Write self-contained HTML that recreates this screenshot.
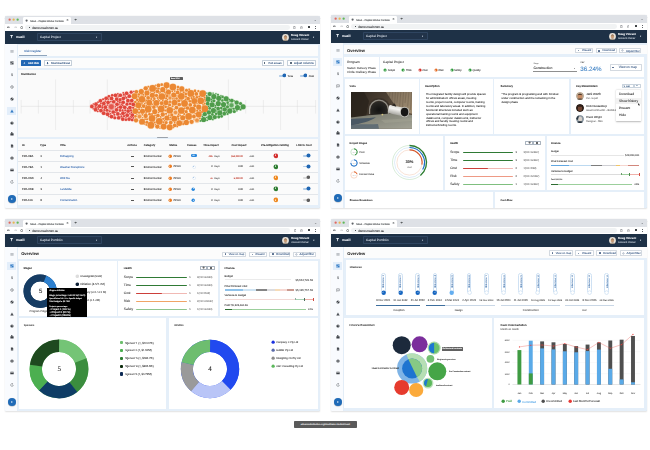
<!DOCTYPE html>
<html><head><meta charset="utf-8"><title>Maxit - Capital Works Portfolio</title>
<style>
html,body{margin:0;padding:0;background:#fff;width:650px;height:450px;overflow:hidden;}
body{position:relative;font-family:'Liberation Sans', Arial, sans-serif;text-rendering:geometricPrecision;}
div{position:absolute;box-sizing:border-box;-webkit-text-stroke:0.07px;}
.win{will-change:transform;overflow:hidden;border-radius:2.2px 2.2px 1px 1px;box-shadow:0 0 0.6px rgba(0,0,0,0.35),0 0.6px 1.6px rgba(0,0,0,0.12);background:#e5eff9;}
</style></head><body>
<div class="win" style="left:5px;top:16px;width:315px;height:192.3px;"><div style="left:0px;top:0px;width:315px;height:192.3px;background:#e5eff9;"></div><div style="left:0px;top:0px;width:315px;height:7.8px;background:#dee1e6;"></div><svg style="position:absolute;left:3.15px;top:2.25px" width="3.3" height="3.3"><circle cx="1.65" cy="1.65" r="1.15" fill="#e2675d"/></svg><svg style="position:absolute;left:7.2px;top:2.25px" width="3.3" height="3.3"><circle cx="1.65" cy="1.65" r="1.15" fill="#e8b752"/></svg><svg style="position:absolute;left:11.25px;top:2.25px" width="3.3" height="3.3"><circle cx="1.65" cy="1.65" r="1.15" fill="#5fb858"/></svg><div style="left:18px;top:1.3px;width:48px;height:6.5px;background:#fff;border-radius:1.4px 1.4px 0 0;"></div><svg style="position:absolute;left:20px;top:3px" width="3.2" height="3.2"><circle cx="1.6" cy="1.6" r="1.1" fill="#5f6368"/></svg><div style="left:25.2px;top:3.68px;font-size:2.53px;line-height:3.16px;color:#3c4043;font-weight:400;white-space:nowrap;">Maxit - Capital Works Portfolio</div><div style="left:58px;top:1.5px;width:6.2px;height:6px;background:linear-gradient(90deg,rgba(255,255,255,0),#fff 70%);"></div><div style="left:61.6px;top:2.48px;font-size:3.4px;line-height:4.25px;color:#3c4043;font-weight:400;white-space:nowrap;">&#215;</div><div style="left:69.4px;top:2.49px;font-size:3.8px;line-height:4.75px;color:#3c4043;font-weight:400;white-space:nowrap;">+</div><div style="left:309px;top:2.23px;font-size:3.2px;line-height:4px;color:#5f6368;font-weight:400;white-space:nowrap;">&#8964;</div><div style="left:0px;top:7.8px;width:315px;height:6.9px;background:#fff;"></div><div style="left:20.3px;top:8.9px;width:265px;height:4.8px;background:#f1f3f4;border-radius:2.4px;"></div><svg style="position:absolute;left:2.3px;top:9.9px;" width="3" height="2.6" viewBox="0 0 3 2.6"><path d="M2.8 1.3H0.5M1.5 0.3L0.4 1.3L1.5 2.3" stroke="#3c4043" stroke-width="0.6" fill="none"/></svg><svg style="position:absolute;left:8.6px;top:9.9px;" width="3" height="2.6" viewBox="0 0 3 2.6"><path d="M0.2 1.3H2.5M1.5 0.3L2.6 1.3L1.5 2.3" stroke="#b0b3b8" stroke-width="0.5" fill="none"/></svg><svg style="position:absolute;left:15px;top:9.6px;" width="3.2" height="3.2" viewBox="0 0 3.2 3.2"><path d="M2.7 1.2A1.15 1.15 0 1 0 2.75 2.0" stroke="#3c4043" stroke-width="0.5" fill="none"/><path d="M2.9 0.4V1.5H1.8Z" fill="#3c4043"/></svg><div style="left:23.5px;top:10.6px;width:1.6px;height:1.3px;background:#3c4043;border-radius:0.2px;"></div><div style="left:27.3px;top:10.5px;font-size:2.98px;line-height:3.72px;color:#202124;font-weight:400;white-space:nowrap;">demo.maxit.com.au</div><svg style="position:absolute;left:288.4px;top:9.9px;" width="2.6" height="2.8" viewBox="0 0 2.6 2.8"><path d="M0.4 0.6H2.2V2.6H0.4Z" fill="none" stroke="#5f6368" stroke-width="0.4"/><path d="M0.9 0.3H1.7" stroke="#5f6368" stroke-width="0.5"/></svg><svg style="position:absolute;left:294.8px;top:9.9px;" width="2.8" height="2.8" viewBox="0 0 2.8 2.8"><path d="M1.4 0.2L1.8 1.1L2.7 1.1L2.0 1.7L2.3 2.6L1.4 2.1L0.5 2.6L0.8 1.7L0.1 1.1L1.0 1.1Z" fill="none" stroke="#5f6368" stroke-width="0.35"/></svg><div style="left:303.2px;top:10.3px;width:1.9px;height:1.9px;background:#3c4043;border-radius:0.3px;"></div><div style="left:310.25px;top:9.9px;width:0.5px;height:2.7px;border-left:0.5px dotted #5f6368;"></div><div style="left:0px;top:14.7px;width:315px;height:13.2px;background:#1e3146;"></div><svg style="position:absolute;left:5.2px;top:19.3px;" width="3.2" height="3.4" viewBox="0 0 3.2 3.4"><path d="M0 0 H3.2 L2 1.6 V3.4 L1.2 2.8 V1.6Z" fill="#e8edf3"/></svg><div style="left:11px;top:19.05px;font-size:3.29px;line-height:4.12px;color:#f1f4f8;font-weight:700;white-space:nowrap;">maxit</div><div style="left:32px;top:16.8px;width:64.5px;height:8.6px;background:#213349;border:0.35px solid #2f4560;box-sizing:border-box;border-radius:0.8px;"></div><div style="left:35px;top:19.13px;font-size:3.2px;line-height:4px;color:#d3dae3;font-weight:400;white-space:nowrap;">Capital Project</div><div style="left:91px;top:20.6px;font-size:2.2px;line-height:2.75px;color:#c9d2dd;font-weight:400;white-space:nowrap;">&#9662;</div><svg style="position:absolute;left:277.2px;top:17.7px;" width="7" height="7" viewBox="0 0 7 7"><circle cx="3.5" cy="3.5" r="3.4" fill="#e9e2d8"/><ellipse cx="3.5" cy="3.6" rx="1.6" ry="2.0" fill="#c69a74"/><path d="M1.9 2.6 Q3.5 0.6 5.1 2.6 Q3.5 1.9 1.9 2.6Z" fill="#6b5443"/><path d="M0.8 6.2 Q3.5 4.6 6.2 6.2 L5.5 6.8 H1.5Z" fill="#8c7d6e"/></svg><div style="left:286.1px;top:18.2px;font-size:2.8px;line-height:3.5px;color:#f4f6f9;font-weight:700;white-space:nowrap;">Doug Vincent</div><div style="left:286.1px;top:21.76px;font-size:2.56px;line-height:3.2px;color:#c3ccd6;font-weight:400;white-space:nowrap;">Account Owner</div><div style="left:308.1px;top:20.8px;font-size:2.2px;line-height:2.75px;color:#d9e0e8;font-weight:400;white-space:nowrap;">&#9662;</div><div style="left:0px;top:27.9px;width:13px;height:164.4px;background:#f9fbfe;border-right:0.5px solid #e3edf7;box-sizing:border-box;"></div><svg style="position:absolute;left:4.9px;top:33.4px;" width="4" height="4" viewBox="0 0 4 4"><rect x="0.4" y="1" width="3.2" height="0.5" fill="#8d9298"/><rect x="0.4" y="1.95" width="3.2" height="0.5" fill="#8d9298"/><rect x="0.4" y="2.9" width="3.2" height="0.5" fill="#8d9298"/></svg><svg style="position:absolute;left:4.9px;top:45.26px;" width="4" height="4" viewBox="0 0 4 4"><rect x="0.4" y="0.4" width="1.4" height="1.7" fill="#3c4046"/><rect x="2.1" y="0.4" width="1.4" height="1.0" fill="#3c4046"/><rect x="0.4" y="2.4" width="1.4" height="1.1" fill="#3c4046"/><rect x="2.1" y="1.7" width="1.4" height="1.8" fill="#3c4046"/></svg><svg style="position:absolute;left:4.9px;top:57.12px;" width="4" height="4" viewBox="0 0 4 4"><text x="2" y="3.3" font-size="3.6" text-anchor="middle" fill="#4a4e54" font-family="Liberation Sans">$</text></svg><svg style="position:absolute;left:4.9px;top:68.98px;" width="4" height="4" viewBox="0 0 4 4"><circle cx="2" cy="2" r="1.35" fill="none" stroke="#4a4e54" stroke-width="0.45"/><path d="M2 1.2V2.1L2.6 2.5" stroke="#4a4e54" stroke-width="0.35" fill="none"/></svg><svg style="position:absolute;left:4.9px;top:80.84px;" width="4" height="4" viewBox="0 0 4 4"><circle cx="2" cy="2" r="1.55" fill="#3c4046"/><path d="M1.0 3.0L3.0 1.0" stroke="#fff" stroke-width="0.45"/></svg><div style="left:2.3px;top:90.8px;width:9.2px;height:7.8px;background:#e3eefa;"></div><svg style="position:absolute;left:4.9px;top:92.7px;" width="4" height="4" viewBox="0 0 4 4"><path d="M2 0.4L3.7 3.4H0.3Z" fill="#1f6fc0"/><rect x="1.8" y="1.5" width="0.4" height="1.0" fill="#fff"/></svg><svg style="position:absolute;left:4.9px;top:104.56px;" width="4" height="4" viewBox="0 0 4 4"><circle cx="2" cy="2" r="1.6" fill="#3c4046"/><path d="M2 0.4V2H3.6" stroke="#fff" stroke-width="0.35" fill="none"/></svg><svg style="position:absolute;left:4.9px;top:116.42px;" width="4" height="4" viewBox="0 0 4 4"><rect x="0.4" y="1.3" width="3.2" height="2.2" rx="0.3" fill="#3c4046"/><rect x="1.35" y="0.6" width="1.3" height="1.0" fill="none" stroke="#3c4046" stroke-width="0.35"/></svg><svg style="position:absolute;left:4.9px;top:128.28px;" width="4" height="4" viewBox="0 0 4 4"><path d="M0.9 0.4H2.5L3.2 1.1V3.6H0.9Z" fill="#3c4046"/><path d="M1.4 2.2H2.7M1.4 2.9H2.7" stroke="#fff" stroke-width="0.25"/></svg><svg style="position:absolute;left:4.9px;top:140.14px;" width="4" height="4" viewBox="0 0 4 4"><circle cx="2" cy="2" r="1.6" fill="#3c4046"/><ellipse cx="2" cy="2" rx="0.6" ry="1.4" fill="none" stroke="#fff" stroke-width="0.25"/></svg><svg style="position:absolute;left:4.9px;top:152px;" width="4" height="4" viewBox="0 0 4 4"><rect x="0.3" y="0.8" width="3.4" height="2.5" rx="0.3" fill="#3c4046"/><rect x="0.3" y="1.5" width="3.4" height="0.45" fill="#fff"/></svg><svg style="position:absolute;left:4.9px;top:163.86px;" width="4" height="4" viewBox="0 0 4 4"><path d="M3.3 2A1.3 1.3 0 1 1 2.6 0.85" fill="none" stroke="#4a4e54" stroke-width="0.45"/><path d="M2.3 0.2L3.2 0.9L2.3 1.5Z" fill="#4a4e54"/></svg><div style="left:2.9px;top:178.7px;width:8px;height:8px;border-radius:50%;background:#1f6bb8;box-shadow:0 0.4px 0.8px rgba(0,0,0,0.3);"></div><svg style="position:absolute;left:6px;top:181.7px;" width="2" height="2" viewBox="0 0 2 2"><path d="M0.3 0.1L1.8 1.0L0.3 1.9Z" fill="#fff"/></svg><div style="left:0;top:0.2px;width:315px;height:192.3px;"><div style="left:13.4px;top:28.6px;width:299.9px;height:11.1px;background:#fcfcfc;"></div><div style="left:19.2px;top:33.69px;font-size:2.9px;line-height:3.62px;color:#3f6fae;font-weight:400;white-space:nowrap;">Risk Register</div><div style="left:14px;top:38.4px;width:27.8px;height:0.7px;background:#8fa4bb;"></div><div style="left:13.4px;top:41.7px;width:299.9px;height:9.7px;background:#fcfcfc;"></div><div style="left:16.2px;top:44px;width:19.6px;height:5.8px;background:#2167b4;border-radius:0.5px;"></div><div style="left:18.4px;top:45.8px;font-size:2.8px;line-height:3.5px;color:#fff;font-weight:700;white-space:nowrap;">+</div><div style="left:23px;top:45.66px;font-size:2.56px;line-height:3.2px;color:#fff;font-weight:700;white-space:nowrap;">Add Risk</div><div style="left:39.2px;top:44px;width:28.3px;height:5.8px;background:#fff;border:0.35px solid #c5cfd9;border-radius:0.5px;box-sizing:border-box;"></div><div style="left:41.6px;top:45.7px;font-size:2.6px;line-height:3.25px;color:#2c4f7c;font-weight:700;white-space:nowrap;">&#8681;</div><div style="left:45.9px;top:45.74px;font-size:2.69px;line-height:3.36px;color:#2c4f7c;font-weight:400;white-space:nowrap;">Download Excel</div><div style="left:256.9px;top:44.3px;width:21.8px;height:5.3px;background:#fff;border:0.35px solid #c5cfd9;border-radius:0.5px;box-sizing:border-box;"></div><div style="left:258.8px;top:46.1px;width:1.6px;height:1.6px;background:#5b6b7c;"></div><div style="left:263.6px;top:45.84px;font-size:2.7px;line-height:3.37px;color:#2c4f7c;font-weight:400;white-space:nowrap;">Full screen</div><div style="left:282.4px;top:44.3px;width:28.3px;height:5.3px;background:#fff;border:0.35px solid #c5cfd9;border-radius:0.5px;box-sizing:border-box;"></div><div style="left:285.1px;top:46.1px;width:1.6px;height:1.6px;background:#5b6b7c;"></div><div style="left:289px;top:45.94px;font-size:2.93px;line-height:3.67px;color:#2c4f7c;font-weight:400;white-space:nowrap;">Adjust columns</div><div style="left:13.4px;top:53.7px;width:299.9px;height:67.6px;background:#fafafa;"></div><div style="left:16px;top:57.24px;font-size:2.7px;line-height:3.38px;color:#333;font-weight:700;white-space:nowrap;">Distribution</div><div style="left:274.3px;top:58.8px;width:5.6px;height:1.6px;background:#b3cde8;border-radius:0.8px;"></div><svg style="position:absolute;left:276.6px;top:57.2px" width="4.8" height="4.8"><circle cx="2.4" cy="2.4" r="1.9" fill="#1f66b3"/></svg><div style="left:282.4px;top:58.32px;font-size:2.5px;line-height:3.12px;color:#333;font-weight:400;white-space:nowrap;">Time</div><div style="left:295.2px;top:58.8px;width:5.6px;height:1.6px;background:#b3cde8;border-radius:0.8px;"></div><svg style="position:absolute;left:297.5px;top:57.2px" width="4.8" height="4.8"><circle cx="2.4" cy="2.4" r="1.9" fill="#1f66b3"/></svg><div style="left:303.8px;top:58.32px;font-size:2.5px;line-height:3.12px;color:#333;font-weight:400;white-space:nowrap;">Cost</div><svg style="position:absolute;left:0px;top:0px;" width="315" height="192.3" viewBox="0 0 315 192.3"><line x1="16" y1="90.3" x2="311" y2="90.3" stroke="#cfcfcf" stroke-width="0.35"/><line x1="50.6" y1="63.5" x2="50.6" y2="114" stroke="#d4d4d4" stroke-width="0.35"/><line x1="102.3" y1="63.5" x2="102.3" y2="114" stroke="#d4d4d4" stroke-width="0.35"/><line x1="223.4" y1="63.5" x2="223.4" y2="114" stroke="#d4d4d4" stroke-width="0.35"/><line x1="275.6" y1="63.5" x2="275.6" y2="114" stroke="#d4d4d4" stroke-width="0.35"/><line x1="16.2" y1="84" x2="16.2" y2="97.5" stroke="#d4d4d4" stroke-width="0.35"/><line x1="33.4" y1="84" x2="33.4" y2="97.5" stroke="#d4d4d4" stroke-width="0.35"/><line x1="68.4" y1="84" x2="68.4" y2="97.5" stroke="#d4d4d4" stroke-width="0.35"/><line x1="85" y1="84" x2="85" y2="97.5" stroke="#d4d4d4" stroke-width="0.35"/><line x1="240.7" y1="84" x2="240.7" y2="97.5" stroke="#d4d4d4" stroke-width="0.35"/><line x1="258.4" y1="84" x2="258.4" y2="97.5" stroke="#d4d4d4" stroke-width="0.35"/><line x1="292.4" y1="84" x2="292.4" y2="97.5" stroke="#d4d4d4" stroke-width="0.35"/><line x1="310.6" y1="84" x2="310.6" y2="97.5" stroke="#d4d4d4" stroke-width="0.35"/><circle cx="106.4" cy="90.8" r="3.95" fill="#f8cfc9"/><circle cx="134.5" cy="100.5" r="2.95" fill="#fbdcbc"/><circle cx="165" cy="82" r="2.55" fill="#fbdcbc"/><circle cx="226.5" cy="89.2" r="3.25" fill="#cfe6cc"/><circle cx="192" cy="104.3" r="2.95" fill="#fbdcbc"/><circle cx="170.5" cy="96.5" r="2.85" fill="#fbdcbc"/><circle cx="156.12" cy="92.94" r="3.85" fill="#fbdcbc"/><circle cx="164.72" cy="94.23" r="3.85" fill="#fbdcbc"/><circle cx="183.63" cy="100.42" r="3.85" fill="#fbdcbc"/><circle cx="187.36" cy="94.12" r="3.85" fill="#fbdcbc"/><circle cx="167.9" cy="71.12" r="3.85" fill="#fbdcbc"/><circle cx="154.28" cy="105.29" r="3.85" fill="#fbdcbc"/><circle cx="156.89" cy="80.5" r="3.85" fill="#fbdcbc"/><circle cx="195.71" cy="84.74" r="3.85" fill="#fbdcbc"/><circle cx="145.91" cy="109.2" r="3.85" fill="#fbdcbc"/><circle cx="147.6" cy="72.46" r="3.85" fill="#fbdcbc"/><circle cx="185.78" cy="77.38" r="3.85" fill="#fbdcbc"/><circle cx="136.99" cy="83.28" r="3.85" fill="#fbdcbc"/><circle cx="176.32" cy="80.37" r="3.85" fill="#fbdcbc"/><circle cx="179.55" cy="87.45" r="3.85" fill="#fbdcbc"/><circle cx="197.65" cy="77.54" r="3.85" fill="#fbdcbc"/><circle cx="143.16" cy="93.15" r="3.85" fill="#fbdcbc"/><circle cx="176.32" cy="94.51" r="3.85" fill="#fbdcbc"/><circle cx="199.93" cy="92.65" r="3.85" fill="#fbdcbc"/><circle cx="147" cy="102.44" r="3.85" fill="#fbdcbc"/><circle cx="169.23" cy="102.77" r="3.45" fill="#fbdcbc"/><circle cx="161.55" cy="69.24" r="3.45" fill="#fbdcbc"/><circle cx="169.5" cy="86.61" r="3.45" fill="#fbdcbc"/><circle cx="144.24" cy="86.8" r="3.45" fill="#fbdcbc"/><circle cx="193.69" cy="98.52" r="3.45" fill="#fbdcbc"/><circle cx="189.24" cy="85.06" r="3.45" fill="#fbdcbc"/><circle cx="164.71" cy="111.31" r="3.45" fill="#fbdcbc"/><circle cx="130.29" cy="95.08" r="3.45" fill="#fbdcbc"/><circle cx="174.24" cy="107.09" r="3.45" fill="#fbdcbc"/><circle cx="151.35" cy="86.89" r="3.45" fill="#fbdcbc"/><circle cx="129.56" cy="80.29" r="3.45" fill="#fbdcbc"/><circle cx="158.64" cy="110.51" r="3.45" fill="#fbdcbc"/><circle cx="133.38" cy="89.26" r="3.45" fill="#fbdcbc"/><circle cx="137.06" cy="105.67" r="3.45" fill="#fbdcbc"/><circle cx="213.27" cy="87.59" r="3.05" fill="#cfe6cc"/><circle cx="208.4" cy="94.51" r="3.05" fill="#cfe6cc"/><circle cx="204.81" cy="101.43" r="3.05" fill="#cfe6cc"/><circle cx="232.46" cy="91.49" r="3.05" fill="#cfe6cc"/><circle cx="157.77" cy="73.65" r="3.05" fill="#fbdcbc"/><circle cx="177.74" cy="101.73" r="3.05" fill="#fbdcbc"/><circle cx="137.48" cy="95.24" r="3.05" fill="#fbdcbc"/><circle cx="149.77" cy="95.55" r="3.05" fill="#fbdcbc"/><circle cx="218.53" cy="88.55" r="3.05" fill="#cfe6cc"/><circle cx="193.71" cy="91.11" r="3.05" fill="#fbdcbc"/><circle cx="147.31" cy="79.29" r="3.05" fill="#fbdcbc"/><circle cx="208.82" cy="80.48" r="3.05" fill="#cfe6cc"/><circle cx="136.34" cy="75.45" r="3.05" fill="#fbdcbc"/><circle cx="224.74" cy="94.91" r="3.05" fill="#cfe6cc"/><circle cx="176.75" cy="72.9" r="3.05" fill="#fbdcbc"/><circle cx="203.13" cy="83.16" r="3.05" fill="#cfe6cc"/><circle cx="163.48" cy="75.94" r="3.05" fill="#fbdcbc"/><circle cx="214.79" cy="96.74" r="3.05" fill="#cfe6cc"/><circle cx="161.88" cy="101.98" r="3.05" fill="#fbdcbc"/><circle cx="238.09" cy="90.78" r="3.05" fill="#cfe6cc"/><circle cx="141.97" cy="76.93" r="3.05" fill="#fbdcbc"/><circle cx="181.37" cy="106.42" r="3.05" fill="#fbdcbc"/><circle cx="213.78" cy="82.36" r="3.05" fill="#cfe6cc"/><circle cx="168.77" cy="78.96" r="3.05" fill="#fbdcbc"/><circle cx="161.06" cy="86.49" r="3.05" fill="#fbdcbc"/><circle cx="207.12" cy="88.7" r="3.05" fill="#cfe6cc"/><circle cx="221.18" cy="82.77" r="3.05" fill="#cfe6cc"/><circle cx="198.6" cy="103.49" r="3.05" fill="#cfe6cc"/><circle cx="140.77" cy="72.35" r="2.65" fill="#fbdcbc"/><circle cx="131.03" cy="104.34" r="2.65" fill="#fbdcbc"/><circle cx="204.74" cy="78.05" r="2.65" fill="#cfe6cc"/><circle cx="140.66" cy="100.02" r="2.65" fill="#fbdcbc"/><circle cx="203.96" cy="96.5" r="2.65" fill="#cfe6cc"/><circle cx="231.68" cy="86.67" r="2.65" fill="#cfe6cc"/><circle cx="157.76" cy="98.51" r="2.65" fill="#fbdcbc"/><circle cx="219.78" cy="93.52" r="2.65" fill="#cfe6cc"/><circle cx="209.77" cy="101.09" r="2.65" fill="#cfe6cc"/><circle cx="152.33" cy="110.6" r="2.65" fill="#fbdcbc"/><circle cx="199.77" cy="98.17" r="2.65" fill="#cfe6cc"/><circle cx="186.6" cy="105.79" r="2.65" fill="#fbdcbc"/><circle cx="111.68" cy="83.03" r="2.35" fill="#f8cfc9"/><circle cx="117.96" cy="97.17" r="2.35" fill="#f8cfc9"/><circle cx="86.86" cy="90.38" r="2.35" fill="#f8cfc9"/><circle cx="98.83" cy="87.47" r="2.35" fill="#f8cfc9"/><circle cx="106.48" cy="100.57" r="2.35" fill="#f8cfc9"/><circle cx="153.52" cy="69.42" r="2.35" fill="#fbdcbc"/><circle cx="127.33" cy="99.06" r="2.35" fill="#f8cfc9"/><circle cx="91" cy="88.16" r="2.35" fill="#f8cfc9"/><circle cx="108.2" cy="95.98" r="2.35" fill="#f8cfc9"/><circle cx="106.56" cy="82.4" r="2.35" fill="#f8cfc9"/><circle cx="183.11" cy="82.65" r="2.35" fill="#fbdcbc"/><circle cx="101.21" cy="82.23" r="2.35" fill="#f8cfc9"/><circle cx="95.91" cy="94.56" r="2.35" fill="#f8cfc9"/><circle cx="102.59" cy="98.19" r="2.35" fill="#f8cfc9"/><circle cx="118.4" cy="82.37" r="2.35" fill="#f8cfc9"/><circle cx="112.87" cy="97.93" r="2.35" fill="#f8cfc9"/><circle cx="112" cy="88.27" r="2.35" fill="#f8cfc9"/><circle cx="124.11" cy="103.05" r="2.35" fill="#f8cfc9"/><circle cx="121.56" cy="77.23" r="2.35" fill="#f8cfc9"/><circle cx="90.57" cy="93.69" r="2.35" fill="#f8cfc9"/><circle cx="123.12" cy="95.07" r="2.35" fill="#f8cfc9"/><circle cx="111.54" cy="93.78" r="2.35" fill="#f8cfc9"/><circle cx="128.26" cy="88.44" r="2.35" fill="#f8cfc9"/><circle cx="95.42" cy="84.77" r="2.35" fill="#f8cfc9"/><circle cx="126.75" cy="84.55" r="2.35" fill="#f8cfc9"/><circle cx="119.7" cy="91.24" r="2.35" fill="#f8cfc9"/><circle cx="165.73" cy="106.57" r="2.35" fill="#fbdcbc"/><circle cx="122.91" cy="84.7" r="2.35" fill="#f8cfc9"/><circle cx="100.38" cy="91.21" r="2.35" fill="#f8cfc9"/><circle cx="122.17" cy="99.18" r="2.35" fill="#f8cfc9"/><circle cx="118.15" cy="86.27" r="2.35" fill="#f8cfc9"/><circle cx="98.66" cy="97.13" r="2.35" fill="#f8cfc9"/><circle cx="115.33" cy="79.23" r="2.35" fill="#f8cfc9"/><circle cx="124.89" cy="91.56" r="2.35" fill="#f8cfc9"/><circle cx="226.81" cy="84.58" r="2.35" fill="#cfe6cc"/><circle cx="110.46" cy="79.36" r="2.35" fill="#f8cfc9"/><circle cx="117.77" cy="103.05" r="2.35" fill="#f8cfc9"/><circle cx="152.4" cy="75.19" r="2.35" fill="#fbdcbc"/><circle cx="172.61" cy="76.4" r="2.35" fill="#fbdcbc"/><circle cx="115.63" cy="91.05" r="2.35" fill="#f8cfc9"/><circle cx="182.58" cy="92" r="2.35" fill="#fbdcbc"/><circle cx="113.67" cy="101.77" r="2.35" fill="#f8cfc9"/><circle cx="143.14" cy="81.78" r="2.35" fill="#fbdcbc"/><circle cx="188.86" cy="100.46" r="2.35" fill="#fbdcbc"/><circle cx="191.32" cy="77.96" r="2.35" fill="#fbdcbc"/><circle cx="103.06" cy="86.36" r="2.35" fill="#f8cfc9"/><circle cx="156.62" cy="87.14" r="2.35" fill="#fbdcbc"/><circle cx="94.57" cy="90.16" r="2.35" fill="#f8cfc9"/><circle cx="124.28" cy="80.17" r="2.35" fill="#f8cfc9"/><circle cx="213.14" cy="92.62" r="2.35" fill="#cfe6cc"/><circle cx="138.68" cy="90.1" r="2.35" fill="#fbdcbc"/><circle cx="171.46" cy="91.62" r="2.35" fill="#fbdcbc"/><circle cx="169.68" cy="109.34" r="2.35" fill="#fbdcbc"/><circle cx="219.25" cy="97.65" r="2.35" fill="#cfe6cc"/><circle cx="152.9" cy="99.48" r="2.35" fill="#fbdcbc"/><circle cx="131.38" cy="75.78" r="2.35" fill="#fbdcbc"/><circle cx="148.86" cy="91.06" r="2.35" fill="#fbdcbc"/><circle cx="202.68" cy="87.6" r="2.35" fill="#cfe6cc"/><circle cx="174.24" cy="88.48" r="2.35" fill="#fbdcbc"/><circle cx="108.71" cy="85.75" r="2.35" fill="#f8cfc9"/><circle cx="185.28" cy="88.79" r="2.35" fill="#fbdcbc"/><circle cx="102.03" cy="94.22" r="2.05" fill="#f8cfc9"/><circle cx="208.9" cy="84.73" r="2.05" fill="#cfe6cc"/><circle cx="121.99" cy="88.17" r="2.05" fill="#f8cfc9"/><circle cx="229.25" cy="95.53" r="2.05" fill="#cfe6cc"/><circle cx="109.81" cy="101.76" r="2.05" fill="#f8cfc9"/><circle cx="235.52" cy="87.51" r="2.05" fill="#cfe6cc"/><circle cx="181.46" cy="74.29" r="2.05" fill="#fbdcbc"/><circle cx="126.15" cy="76.15" r="2.05" fill="#f8cfc9"/><circle cx="213.76" cy="100.87" r="2.05" fill="#cfe6cc"/><circle cx="141.89" cy="106.28" r="2.05" fill="#fbdcbc"/><circle cx="161.15" cy="106.59" r="2.05" fill="#fbdcbc"/><circle cx="164.63" cy="88.75" r="2.05" fill="#fbdcbc"/><circle cx="115.08" cy="83.65" r="2.05" fill="#f8cfc9"/><circle cx="173.74" cy="84.79" r="2.05" fill="#fbdcbc"/><circle cx="189.73" cy="89.62" r="2.05" fill="#fbdcbc"/><circle cx="151.46" cy="79.41" r="2.05" fill="#fbdcbc"/><circle cx="222.49" cy="90.84" r="2.05" fill="#cfe6cc"/><circle cx="166.75" cy="98.91" r="2.05" fill="#fbdcbc"/><circle cx="181.19" cy="95.67" r="2.05" fill="#fbdcbc"/><circle cx="162" cy="79.85" r="2.05" fill="#fbdcbc"/><circle cx="173.02" cy="100.45" r="1.8" fill="#fbdcbc"/><circle cx="127.19" cy="103.92" r="1.8" fill="#f8cfc9"/><circle cx="130.3" cy="85.95" r="1.8" fill="#fbdcbc"/><circle cx="173.03" cy="70.96" r="1.8" fill="#fbdcbc"/><circle cx="222.66" cy="86.63" r="1.8" fill="#cfe6cc"/><circle cx="132.24" cy="83.84" r="1.8" fill="#fbdcbc"/><circle cx="211.07" cy="97.81" r="1.8" fill="#cfe6cc"/><circle cx="180.8" cy="77.91" r="1.8" fill="#fbdcbc"/><circle cx="144.52" cy="98.16" r="1.8" fill="#fbdcbc"/><circle cx="115.08" cy="94.42" r="1.8" fill="#f8cfc9"/><circle cx="149.35" cy="82.65" r="1.8" fill="#fbdcbc"/><circle cx="103.88" cy="80.36" r="1.8" fill="#f8cfc9"/><circle cx="191.86" cy="81.36" r="1.8" fill="#fbdcbc"/><circle cx="217.37" cy="84.57" r="1.8" fill="#cfe6cc"/><circle cx="217.55" cy="80.92" r="1.8" fill="#cfe6cc"/><circle cx="120.93" cy="103.77" r="1.8" fill="#f8cfc9"/><circle cx="160.65" cy="90.87" r="1.8" fill="#fbdcbc"/><circle cx="107.19" cy="79.29" r="1.8" fill="#f8cfc9"/><circle cx="216.27" cy="92.08" r="1.8" fill="#cfe6cc"/><circle cx="171.59" cy="82.43" r="1.8" fill="#fbdcbc"/><circle cx="184.86" cy="85.32" r="1.8" fill="#fbdcbc"/><circle cx="156.74" cy="68.66" r="1.8" fill="#fbdcbc"/><circle cx="204.73" cy="92.37" r="1.8" fill="#cfe6cc"/><circle cx="125.14" cy="87.7" r="1.8" fill="#f8cfc9"/><circle cx="207.38" cy="98.41" r="1.8" fill="#cfe6cc"/><circle cx="189.98" cy="74.89" r="1.8" fill="#fbdcbc"/><circle cx="130.41" cy="100.35" r="1.8" fill="#fbdcbc"/><circle cx="216.64" cy="100.33" r="1.8" fill="#cfe6cc"/><circle cx="165.07" cy="85.71" r="1.8" fill="#fbdcbc"/><circle cx="133.8" cy="78.47" r="1.8" fill="#fbdcbc"/><circle cx="199.67" cy="81.58" r="1.55" fill="#fbdcbc"/><circle cx="153.78" cy="72.59" r="1.55" fill="#fbdcbc"/><circle cx="117.61" cy="94.27" r="1.55" fill="#f8cfc9"/><circle cx="161.08" cy="97.74" r="1.55" fill="#fbdcbc"/><circle cx="121.37" cy="81.77" r="1.55" fill="#f8cfc9"/><circle cx="118.82" cy="78.68" r="1.55" fill="#f8cfc9"/><circle cx="104.77" cy="95.35" r="1.55" fill="#f8cfc9"/><circle cx="109.37" cy="98.8" r="1.55" fill="#f8cfc9"/><circle cx="161.1" cy="82.39" r="1.55" fill="#fbdcbc"/><circle cx="114.82" cy="86.33" r="1.55" fill="#f8cfc9"/><circle cx="149.72" cy="106.47" r="1.55" fill="#fbdcbc"/><circle cx="212.96" cy="78.69" r="1.55" fill="#cfe6cc"/><circle cx="167.59" cy="90.31" r="1.55" fill="#fbdcbc"/><circle cx="98.1" cy="83.19" r="1.55" fill="#f8cfc9"/><circle cx="193.38" cy="75.16" r="1.55" fill="#fbdcbc"/><circle cx="222.54" cy="97.97" r="1.55" fill="#cfe6cc"/><circle cx="146.26" cy="82.97" r="1.55" fill="#fbdcbc"/><circle cx="210.45" cy="91.29" r="1.55" fill="#cfe6cc"/><circle cx="138.28" cy="78.79" r="1.55" fill="#fbdcbc"/><circle cx="199.67" cy="87.62" r="1.55" fill="#fbdcbc"/><circle cx="116.47" cy="100.38" r="1.55" fill="#f8cfc9"/><circle cx="125.97" cy="94.41" r="1.55" fill="#f8cfc9"/><circle cx="134.16" cy="93.29" r="1.55" fill="#fbdcbc"/><circle cx="186.52" cy="82.09" r="1.55" fill="#fbdcbc"/><circle cx="134.02" cy="96.66" r="1.55" fill="#fbdcbc"/><circle cx="97.3" cy="91.81" r="1.55" fill="#f8cfc9"/><circle cx="195.18" cy="94.65" r="1.55" fill="#fbdcbc"/><circle cx="188.74" cy="80.9" r="1.55" fill="#fbdcbc"/><circle cx="158.23" cy="102.83" r="1.55" fill="#fbdcbc"/><circle cx="99.26" cy="94.03" r="1.55" fill="#f8cfc9"/><circle cx="228.86" cy="92.86" r="1.55" fill="#cfe6cc"/><circle cx="197.07" cy="96.03" r="1.55" fill="#fbdcbc"/><circle cx="152.65" cy="81.99" r="1.55" fill="#fbdcbc"/><circle cx="147.03" cy="97.99" r="1.55" fill="#fbdcbc"/><circle cx="172.76" cy="73.45" r="1.55" fill="#fbdcbc"/><circle cx="119.01" cy="100.13" r="1.55" fill="#f8cfc9"/><circle cx="142.07" cy="103.28" r="1.55" fill="#fbdcbc"/><circle cx="180.98" cy="80.63" r="1.55" fill="#fbdcbc"/><circle cx="178.71" cy="76.4" r="1.55" fill="#fbdcbc"/><circle cx="194.27" cy="80.49" r="1.55" fill="#fbdcbc"/><circle cx="179.21" cy="97.99" r="1.55" fill="#fbdcbc"/><circle cx="178.16" cy="108.11" r="1.55" fill="#fbdcbc"/><circle cx="128.12" cy="91.68" r="1.55" fill="#f8cfc9"/><circle cx="235.47" cy="93.56" r="1.55" fill="#cfe6cc"/><circle cx="192.19" cy="94.65" r="1.55" fill="#fbdcbc"/><circle cx="120.19" cy="94.36" r="1.55" fill="#f8cfc9"/><circle cx="160.23" cy="94.57" r="1.55" fill="#fbdcbc"/><circle cx="173.43" cy="102.83" r="1.55" fill="#fbdcbc"/><circle cx="157.78" cy="84.64" r="1.35" fill="#fbdcbc"/><circle cx="139.8" cy="87.51" r="1.35" fill="#fbdcbc"/><circle cx="93.05" cy="86.16" r="1.35" fill="#f8cfc9"/><circle cx="126.37" cy="96.3" r="1.35" fill="#f8cfc9"/><circle cx="141.46" cy="108.94" r="1.35" fill="#fbdcbc"/><circle cx="180.44" cy="83.24" r="1.35" fill="#fbdcbc"/><circle cx="155.72" cy="100.96" r="1.35" fill="#fbdcbc"/><circle cx="105.83" cy="85.59" r="1.35" fill="#f8cfc9"/><circle cx="200.13" cy="84.94" r="1.35" fill="#fbdcbc"/><circle cx="173.65" cy="98.18" r="1.35" fill="#fbdcbc"/><circle cx="90.28" cy="90.94" r="1.35" fill="#f8cfc9"/><circle cx="198.06" cy="88.82" r="1.35" fill="#fbdcbc"/><circle cx="152.2" cy="90.74" r="1.35" fill="#fbdcbc"/><circle cx="133.53" cy="80.74" r="1.35" fill="#fbdcbc"/><circle cx="165" cy="103.59" r="1.35" fill="#fbdcbc"/><circle cx="197.44" cy="100.25" r="1.35" fill="#cfe6cc"/><circle cx="195.42" cy="104.89" r="1.35" fill="#cfe6cc"/><circle cx="158.74" cy="89.41" r="1.35" fill="#fbdcbc"/><circle cx="92.77" cy="95.3" r="1.35" fill="#f8cfc9"/><circle cx="136.95" cy="87.87" r="1.35" fill="#fbdcbc"/><circle cx="163.86" cy="99.16" r="1.35" fill="#fbdcbc"/><circle cx="175.14" cy="99.45" r="1.35" fill="#fbdcbc"/><circle cx="207.82" cy="103.46" r="1.35" fill="#cfe6cc"/><circle cx="100.36" cy="85.06" r="1.35" fill="#f8cfc9"/><circle cx="179.83" cy="92.13" r="1.35" fill="#fbdcbc"/><circle cx="167.22" cy="75.36" r="1.35" fill="#fbdcbc"/><circle cx="169.11" cy="93.23" r="1.35" fill="#fbdcbc"/><circle cx="141.11" cy="96.92" r="1.35" fill="#fbdcbc"/><circle cx="105.48" cy="97.75" r="1.35" fill="#f8cfc9"/><circle cx="155.11" cy="76.06" r="1.35" fill="#fbdcbc"/><circle cx="112.91" cy="91.41" r="1.35" fill="#f8cfc9"/><circle cx="92.03" cy="91.13" r="1.35" fill="#f8cfc9"/><circle cx="169.7" cy="106.59" r="1.35" fill="#fbdcbc"/><circle cx="201.74" cy="79.91" r="1.35" fill="#cfe6cc"/><circle cx="221.52" cy="96.1" r="1.35" fill="#cfe6cc"/><circle cx="159.9" cy="76.37" r="1.35" fill="#fbdcbc"/><circle cx="117.75" cy="89.15" r="1.35" fill="#f8cfc9"/><circle cx="149.49" cy="76.56" r="1.35" fill="#fbdcbc"/><circle cx="150.03" cy="99.35" r="1.35" fill="#fbdcbc"/><circle cx="206.53" cy="85.28" r="1.35" fill="#cfe6cc"/><circle cx="202.15" cy="104.23" r="1.35" fill="#cfe6cc"/><circle cx="165.31" cy="101.37" r="1.35" fill="#fbdcbc"/><circle cx="124.87" cy="97.73" r="1.35" fill="#f8cfc9"/><circle cx="206.63" cy="83.39" r="1.35" fill="#cfe6cc"/><circle cx="128.34" cy="101.85" r="1.35" fill="#f8cfc9"/><circle cx="143.34" cy="70.6" r="1.35" fill="#fbdcbc"/><circle cx="194.93" cy="102.42" r="1.35" fill="#fbdcbc"/><circle cx="93.32" cy="92.91" r="1.35" fill="#f8cfc9"/><circle cx="172.25" cy="110.38" r="1.35" fill="#fbdcbc"/><circle cx="137.47" cy="98.73" r="1.35" fill="#fbdcbc"/><circle cx="95.93" cy="87.46" r="1.35" fill="#f8cfc9"/><circle cx="140.06" cy="103.15" r="1.35" fill="#fbdcbc"/><circle cx="141.24" cy="84.26" r="1.35" fill="#fbdcbc"/><circle cx="97.49" cy="89.9" r="1.35" fill="#f8cfc9"/><circle cx="203.66" cy="90.28" r="1.35" fill="#cfe6cc"/><circle cx="112.93" cy="85.47" r="1.35" fill="#f8cfc9"/><circle cx="120.29" cy="79.99" r="1.35" fill="#f8cfc9"/><circle cx="151.89" cy="72.15" r="1.35" fill="#fbdcbc"/><circle cx="167.91" cy="82.79" r="1.35" fill="#fbdcbc"/><circle cx="102.42" cy="89.02" r="1.35" fill="#f8cfc9"/><circle cx="118.28" cy="76.83" r="1.35" fill="#f8cfc9"/><circle cx="158.41" cy="106.2" r="1.35" fill="#fbdcbc"/><circle cx="140.42" cy="80.14" r="1.35" fill="#fbdcbc"/><circle cx="169.78" cy="75.11" r="1.35" fill="#fbdcbc"/><circle cx="153.55" cy="96.48" r="1.35" fill="#fbdcbc"/><circle cx="154.52" cy="84.75" r="1.35" fill="#fbdcbc"/><circle cx="148.24" cy="84.53" r="1.35" fill="#fbdcbc"/><circle cx="112.83" cy="77.82" r="1.35" fill="#f8cfc9"/><circle cx="184.16" cy="73.3" r="1.35" fill="#fbdcbc"/><circle cx="129.85" cy="90.53" r="1.2" fill="#fbdcbc"/><circle cx="88.38" cy="87.97" r="1.2" fill="#f8cfc9"/><circle cx="139.87" cy="108.16" r="1.2" fill="#fbdcbc"/><circle cx="169.56" cy="82.92" r="1.2" fill="#fbdcbc"/><circle cx="224.27" cy="85.01" r="1.2" fill="#cfe6cc"/><circle cx="143.76" cy="74.12" r="1.2" fill="#fbdcbc"/><circle cx="163.11" cy="90.46" r="1.2" fill="#fbdcbc"/><circle cx="175.6" cy="75.98" r="1.2" fill="#fbdcbc"/><circle cx="216.87" cy="94.16" r="1.2" fill="#cfe6cc"/><circle cx="115.63" cy="98.3" r="1.2" fill="#f8cfc9"/><circle cx="176.15" cy="84.8" r="1.2" fill="#fbdcbc"/><circle cx="201.32" cy="101.57" r="1.2" fill="#cfe6cc"/><circle cx="189" cy="103.1" r="1.2" fill="#fbdcbc"/><circle cx="136.4" cy="91.79" r="1.2" fill="#fbdcbc"/><circle cx="153.3" cy="83.75" r="1.2" fill="#fbdcbc"/><circle cx="114.77" cy="88.11" r="1.2" fill="#f8cfc9"/><circle cx="201.82" cy="77.1" r="1.2" fill="#cfe6cc"/><circle cx="116.44" cy="88.26" r="1.2" fill="#f8cfc9"/><circle cx="103.82" cy="100.46" r="1.2" fill="#f8cfc9"/><circle cx="172.02" cy="79.9" r="1.2" fill="#fbdcbc"/><circle cx="151.31" cy="101.8" r="1.2" fill="#fbdcbc"/><circle cx="177.95" cy="105.97" r="1.2" fill="#fbdcbc"/><circle cx="103.69" cy="83.18" r="1.2" fill="#f8cfc9"/><circle cx="199.68" cy="83.37" r="1.2" fill="#fbdcbc"/><circle cx="150.79" cy="69.18" r="1.2" fill="#fbdcbc"/><circle cx="128.81" cy="75.45" r="1.2" fill="#f8cfc9"/><circle cx="110.59" cy="90.79" r="1.2" fill="#f8cfc9"/><circle cx="159.48" cy="104.8" r="1.2" fill="#fbdcbc"/><circle cx="164.89" cy="79.1" r="1.2" fill="#fbdcbc"/><circle cx="136.21" cy="78.91" r="1.2" fill="#fbdcbc"/><circle cx="147.6" cy="88.28" r="1.2" fill="#fbdcbc"/><circle cx="122.51" cy="92.56" r="1.2" fill="#f8cfc9"/><circle cx="231.91" cy="94.75" r="1.2" fill="#cfe6cc"/><circle cx="229.41" cy="84.89" r="1.2" fill="#cfe6cc"/><circle cx="154.11" cy="77.39" r="1.2" fill="#fbdcbc"/><circle cx="160.54" cy="77.94" r="1.2" fill="#fbdcbc"/><circle cx="192.03" cy="87.64" r="1.2" fill="#fbdcbc"/><circle cx="140.57" cy="85.91" r="1.2" fill="#fbdcbc"/><circle cx="120.5" cy="96.69" r="1.2" fill="#f8cfc9"/><circle cx="227.1" cy="92.63" r="1.2" fill="#cfe6cc"/><circle cx="120.96" cy="101.72" r="1.2" fill="#f8cfc9"/><circle cx="131.92" cy="98.62" r="1.2" fill="#fbdcbc"/><circle cx="137.72" cy="101.67" r="1.2" fill="#fbdcbc"/><circle cx="168.41" cy="111.58" r="1.2" fill="#fbdcbc"/><circle cx="88.19" cy="92.68" r="1.2" fill="#f8cfc9"/><circle cx="154.91" cy="112.17" r="1.2" fill="#fbdcbc"/><circle cx="125.29" cy="100.69" r="1.2" fill="#f8cfc9"/><circle cx="161.6" cy="72.99" r="1.2" fill="#fbdcbc"/><circle cx="150.34" cy="108.37" r="1.2" fill="#fbdcbc"/><circle cx="208.11" cy="77.17" r="1.2" fill="#cfe6cc"/><circle cx="210.93" cy="77.81" r="1.2" fill="#cfe6cc"/><circle cx="215.9" cy="79.59" r="1.2" fill="#cfe6cc"/><circle cx="145.54" cy="76.1" r="1.2" fill="#fbdcbc"/><circle cx="113.19" cy="80.68" r="1.2" fill="#f8cfc9"/><circle cx="210.43" cy="89.47" r="1.2" fill="#cfe6cc"/><circle cx="211.82" cy="94.96" r="1.2" fill="#cfe6cc"/><circle cx="126.54" cy="101.61" r="1.2" fill="#f8cfc9"/><circle cx="110.82" cy="96.39" r="1.2" fill="#f8cfc9"/><circle cx="141.34" cy="89.33" r="1.2" fill="#fbdcbc"/><circle cx="224.47" cy="83.41" r="1.2" fill="#cfe6cc"/><circle cx="133.41" cy="85.52" r="1.2" fill="#fbdcbc"/><circle cx="223.05" cy="88.62" r="1.2" fill="#cfe6cc"/><circle cx="146.1" cy="90.13" r="1.2" fill="#fbdcbc"/><circle cx="162.58" cy="83.5" r="1.2" fill="#fbdcbc"/><circle cx="190.16" cy="97.47" r="1.2" fill="#fbdcbc"/><circle cx="106.4" cy="90.8" r="3.4" fill="#f19a91"/><circle cx="106.4" cy="90.8" r="2.45" fill="#df463c" opacity="0.8"/><circle cx="134.5" cy="100.5" r="2.4" fill="#f7c08f"/><circle cx="134.5" cy="100.5" r="1.73" fill="#eb8833" opacity="0.8"/><circle cx="165" cy="82" r="2" fill="#f7c08f"/><circle cx="165" cy="82" r="1.44" fill="#eb8833" opacity="0.8"/><circle cx="226.5" cy="89.2" r="2.7" fill="#a5d3a2"/><circle cx="226.5" cy="89.2" r="1.94" fill="#4e9c4b" opacity="0.8"/><circle cx="192" cy="104.3" r="2.4" fill="#f7c08f"/><circle cx="192" cy="104.3" r="1.73" fill="#eb8833" opacity="0.8"/><circle cx="170.5" cy="96.5" r="2.3" fill="#f7c08f"/><circle cx="170.5" cy="96.5" r="1.66" fill="#eb8833" opacity="0.8"/><circle cx="156.12" cy="92.94" r="3.35" fill="#eb8833"/><circle cx="164.72" cy="94.23" r="3.35" fill="#eb8833"/><circle cx="183.63" cy="100.42" r="3.35" fill="#eb8833"/><circle cx="187.36" cy="94.12" r="3.35" fill="#eb8833"/><circle cx="167.9" cy="71.12" r="3.35" fill="#eb8833"/><circle cx="154.28" cy="105.29" r="3.35" fill="#eb8833"/><circle cx="156.89" cy="80.5" r="3.35" fill="#eb8833"/><circle cx="195.71" cy="84.74" r="3.35" fill="#eb8833"/><circle cx="145.91" cy="109.2" r="3.35" fill="#eb8833"/><circle cx="147.6" cy="72.46" r="3.35" fill="#eb8833"/><circle cx="185.78" cy="77.38" r="3.35" fill="#eb8833"/><circle cx="136.99" cy="83.28" r="3.35" fill="#eb8833"/><circle cx="176.32" cy="80.37" r="3.35" fill="#eb8833"/><circle cx="179.55" cy="87.45" r="3.35" fill="#eb8833"/><circle cx="197.65" cy="77.54" r="3.35" fill="#eb8833"/><circle cx="143.16" cy="93.15" r="3.35" fill="#eb8833"/><circle cx="176.32" cy="94.51" r="3.35" fill="#eb8833"/><circle cx="199.93" cy="92.65" r="3.35" fill="#eb8833"/><circle cx="147" cy="102.44" r="3.35" fill="#eb8833"/><circle cx="169.23" cy="102.77" r="2.95" fill="#eb8833"/><circle cx="161.55" cy="69.24" r="2.95" fill="#eb8833"/><circle cx="169.5" cy="86.61" r="2.95" fill="#eb8833"/><circle cx="144.24" cy="86.8" r="2.95" fill="#eb8833"/><circle cx="193.69" cy="98.52" r="2.95" fill="#eb8833"/><circle cx="189.24" cy="85.06" r="2.95" fill="#eb8833"/><circle cx="164.71" cy="111.31" r="2.95" fill="#eb8833"/><circle cx="130.29" cy="95.08" r="2.95" fill="#eb8833"/><circle cx="174.24" cy="107.09" r="2.95" fill="#eb8833"/><circle cx="151.35" cy="86.89" r="2.95" fill="#eb8833"/><circle cx="129.56" cy="80.29" r="2.95" fill="#eb8833"/><circle cx="158.64" cy="110.51" r="2.95" fill="#eb8833"/><circle cx="133.38" cy="89.26" r="2.95" fill="#eb8833"/><circle cx="137.06" cy="105.67" r="2.95" fill="#eb8833"/><circle cx="213.27" cy="87.59" r="2.55" fill="#4e9c4b"/><circle cx="208.4" cy="94.51" r="2.55" fill="#4e9c4b"/><circle cx="204.81" cy="101.43" r="2.55" fill="#4e9c4b"/><circle cx="232.46" cy="91.49" r="2.55" fill="#4e9c4b"/><circle cx="157.77" cy="73.65" r="2.55" fill="#eb8833"/><circle cx="177.74" cy="101.73" r="2.55" fill="#eb8833"/><circle cx="137.48" cy="95.24" r="2.55" fill="#eb8833"/><circle cx="149.77" cy="95.55" r="2.55" fill="#eb8833"/><circle cx="218.53" cy="88.55" r="2.55" fill="#4e9c4b"/><circle cx="193.71" cy="91.11" r="2.55" fill="#eb8833"/><circle cx="147.31" cy="79.29" r="2.55" fill="#eb8833"/><circle cx="208.82" cy="80.48" r="2.55" fill="#4e9c4b"/><circle cx="136.34" cy="75.45" r="2.55" fill="#eb8833"/><circle cx="224.74" cy="94.91" r="2.55" fill="#4e9c4b"/><circle cx="176.75" cy="72.9" r="2.55" fill="#eb8833"/><circle cx="203.13" cy="83.16" r="2.55" fill="#4e9c4b"/><circle cx="163.48" cy="75.94" r="2.55" fill="#eb8833"/><circle cx="214.79" cy="96.74" r="2.55" fill="#4e9c4b"/><circle cx="161.88" cy="101.98" r="2.55" fill="#eb8833"/><circle cx="238.09" cy="90.78" r="2.55" fill="#4e9c4b"/><circle cx="141.97" cy="76.93" r="2.55" fill="#eb8833"/><circle cx="181.37" cy="106.42" r="2.55" fill="#eb8833"/><circle cx="213.78" cy="82.36" r="2.55" fill="#4e9c4b"/><circle cx="168.77" cy="78.96" r="2.55" fill="#eb8833"/><circle cx="161.06" cy="86.49" r="2.55" fill="#eb8833"/><circle cx="207.12" cy="88.7" r="2.55" fill="#4e9c4b"/><circle cx="221.18" cy="82.77" r="2.55" fill="#4e9c4b"/><circle cx="198.6" cy="103.49" r="2.55" fill="#4e9c4b"/><circle cx="140.77" cy="72.35" r="2.15" fill="#eb8833"/><circle cx="131.03" cy="104.34" r="2.15" fill="#eb8833"/><circle cx="204.74" cy="78.05" r="2.15" fill="#4e9c4b"/><circle cx="140.66" cy="100.02" r="2.15" fill="#eb8833"/><circle cx="203.96" cy="96.5" r="2.15" fill="#4e9c4b"/><circle cx="231.68" cy="86.67" r="2.15" fill="#4e9c4b"/><circle cx="157.76" cy="98.51" r="2.15" fill="#eb8833"/><circle cx="219.78" cy="93.52" r="2.15" fill="#4e9c4b"/><circle cx="209.77" cy="101.09" r="2.15" fill="#4e9c4b"/><circle cx="152.33" cy="110.6" r="2.15" fill="#eb8833"/><circle cx="199.77" cy="98.17" r="2.15" fill="#4e9c4b"/><circle cx="186.6" cy="105.79" r="2.15" fill="#eb8833"/><circle cx="111.68" cy="83.03" r="1.85" fill="#df463c"/><circle cx="117.96" cy="97.17" r="1.85" fill="#df463c"/><circle cx="86.86" cy="90.38" r="1.85" fill="#df463c"/><circle cx="98.83" cy="87.47" r="1.85" fill="#df463c"/><circle cx="106.48" cy="100.57" r="1.85" fill="#df463c"/><circle cx="153.52" cy="69.42" r="1.85" fill="#eb8833"/><circle cx="127.33" cy="99.06" r="1.85" fill="#df463c"/><circle cx="91" cy="88.16" r="1.85" fill="#df463c"/><circle cx="108.2" cy="95.98" r="1.85" fill="#df463c"/><circle cx="106.56" cy="82.4" r="1.85" fill="#df463c"/><circle cx="183.11" cy="82.65" r="1.85" fill="#eb8833"/><circle cx="101.21" cy="82.23" r="1.85" fill="#df463c"/><circle cx="95.91" cy="94.56" r="1.85" fill="#df463c"/><circle cx="102.59" cy="98.19" r="1.85" fill="#df463c"/><circle cx="118.4" cy="82.37" r="1.85" fill="#df463c"/><circle cx="112.87" cy="97.93" r="1.85" fill="#df463c"/><circle cx="112" cy="88.27" r="1.85" fill="#df463c"/><circle cx="124.11" cy="103.05" r="1.85" fill="#df463c"/><circle cx="121.56" cy="77.23" r="1.85" fill="#df463c"/><circle cx="90.57" cy="93.69" r="1.85" fill="#df463c"/><circle cx="123.12" cy="95.07" r="1.85" fill="#df463c"/><circle cx="111.54" cy="93.78" r="1.85" fill="#df463c"/><circle cx="128.26" cy="88.44" r="1.85" fill="#df463c"/><circle cx="95.42" cy="84.77" r="1.85" fill="#df463c"/><circle cx="126.75" cy="84.55" r="1.85" fill="#df463c"/><circle cx="119.7" cy="91.24" r="1.85" fill="#df463c"/><circle cx="165.73" cy="106.57" r="1.85" fill="#eb8833"/><circle cx="122.91" cy="84.7" r="1.85" fill="#df463c"/><circle cx="100.38" cy="91.21" r="1.85" fill="#df463c"/><circle cx="122.17" cy="99.18" r="1.85" fill="#df463c"/><circle cx="118.15" cy="86.27" r="1.85" fill="#df463c"/><circle cx="98.66" cy="97.13" r="1.85" fill="#df463c"/><circle cx="115.33" cy="79.23" r="1.85" fill="#df463c"/><circle cx="124.89" cy="91.56" r="1.85" fill="#df463c"/><circle cx="226.81" cy="84.58" r="1.85" fill="#4e9c4b"/><circle cx="110.46" cy="79.36" r="1.85" fill="#df463c"/><circle cx="117.77" cy="103.05" r="1.85" fill="#df463c"/><circle cx="152.4" cy="75.19" r="1.85" fill="#eb8833"/><circle cx="172.61" cy="76.4" r="1.85" fill="#eb8833"/><circle cx="115.63" cy="91.05" r="1.85" fill="#df463c"/><circle cx="182.58" cy="92" r="1.85" fill="#eb8833"/><circle cx="113.67" cy="101.77" r="1.85" fill="#df463c"/><circle cx="143.14" cy="81.78" r="1.85" fill="#eb8833"/><circle cx="188.86" cy="100.46" r="1.85" fill="#eb8833"/><circle cx="191.32" cy="77.96" r="1.85" fill="#eb8833"/><circle cx="103.06" cy="86.36" r="1.85" fill="#df463c"/><circle cx="156.62" cy="87.14" r="1.85" fill="#eb8833"/><circle cx="94.57" cy="90.16" r="1.85" fill="#df463c"/><circle cx="124.28" cy="80.17" r="1.85" fill="#df463c"/><circle cx="213.14" cy="92.62" r="1.85" fill="#4e9c4b"/><circle cx="138.68" cy="90.1" r="1.85" fill="#eb8833"/><circle cx="171.46" cy="91.62" r="1.85" fill="#eb8833"/><circle cx="169.68" cy="109.34" r="1.85" fill="#eb8833"/><circle cx="219.25" cy="97.65" r="1.85" fill="#4e9c4b"/><circle cx="152.9" cy="99.48" r="1.85" fill="#eb8833"/><circle cx="131.38" cy="75.78" r="1.85" fill="#eb8833"/><circle cx="148.86" cy="91.06" r="1.85" fill="#eb8833"/><circle cx="202.68" cy="87.6" r="1.85" fill="#4e9c4b"/><circle cx="174.24" cy="88.48" r="1.85" fill="#eb8833"/><circle cx="108.71" cy="85.75" r="1.85" fill="#df463c"/><circle cx="185.28" cy="88.79" r="1.85" fill="#eb8833"/><circle cx="102.03" cy="94.22" r="1.55" fill="#df463c"/><circle cx="208.9" cy="84.73" r="1.55" fill="#4e9c4b"/><circle cx="121.99" cy="88.17" r="1.55" fill="#df463c"/><circle cx="229.25" cy="95.53" r="1.55" fill="#4e9c4b"/><circle cx="109.81" cy="101.76" r="1.55" fill="#df463c"/><circle cx="235.52" cy="87.51" r="1.55" fill="#4e9c4b"/><circle cx="181.46" cy="74.29" r="1.55" fill="#eb8833"/><circle cx="126.15" cy="76.15" r="1.55" fill="#df463c"/><circle cx="213.76" cy="100.87" r="1.55" fill="#4e9c4b"/><circle cx="141.89" cy="106.28" r="1.55" fill="#eb8833"/><circle cx="161.15" cy="106.59" r="1.55" fill="#eb8833"/><circle cx="164.63" cy="88.75" r="1.55" fill="#eb8833"/><circle cx="115.08" cy="83.65" r="1.55" fill="#df463c"/><circle cx="173.74" cy="84.79" r="1.55" fill="#eb8833"/><circle cx="189.73" cy="89.62" r="1.55" fill="#eb8833"/><circle cx="151.46" cy="79.41" r="1.55" fill="#eb8833"/><circle cx="222.49" cy="90.84" r="1.55" fill="#4e9c4b"/><circle cx="166.75" cy="98.91" r="1.55" fill="#eb8833"/><circle cx="181.19" cy="95.67" r="1.55" fill="#eb8833"/><circle cx="162" cy="79.85" r="1.55" fill="#eb8833"/><circle cx="173.02" cy="100.45" r="1.3" fill="#eb8833"/><circle cx="127.19" cy="103.92" r="1.3" fill="#df463c"/><circle cx="130.3" cy="85.95" r="1.3" fill="#eb8833"/><circle cx="173.03" cy="70.96" r="1.3" fill="#eb8833"/><circle cx="222.66" cy="86.63" r="1.3" fill="#4e9c4b"/><circle cx="132.24" cy="83.84" r="1.3" fill="#eb8833"/><circle cx="211.07" cy="97.81" r="1.3" fill="#4e9c4b"/><circle cx="180.8" cy="77.91" r="1.3" fill="#eb8833"/><circle cx="144.52" cy="98.16" r="1.3" fill="#eb8833"/><circle cx="115.08" cy="94.42" r="1.3" fill="#df463c"/><circle cx="149.35" cy="82.65" r="1.3" fill="#eb8833"/><circle cx="103.88" cy="80.36" r="1.3" fill="#df463c"/><circle cx="191.86" cy="81.36" r="1.3" fill="#eb8833"/><circle cx="217.37" cy="84.57" r="1.3" fill="#4e9c4b"/><circle cx="217.55" cy="80.92" r="1.3" fill="#4e9c4b"/><circle cx="120.93" cy="103.77" r="1.3" fill="#df463c"/><circle cx="160.65" cy="90.87" r="1.3" fill="#eb8833"/><circle cx="107.19" cy="79.29" r="1.3" fill="#df463c"/><circle cx="216.27" cy="92.08" r="1.3" fill="#4e9c4b"/><circle cx="171.59" cy="82.43" r="1.3" fill="#eb8833"/><circle cx="184.86" cy="85.32" r="1.3" fill="#eb8833"/><circle cx="156.74" cy="68.66" r="1.3" fill="#eb8833"/><circle cx="204.73" cy="92.37" r="1.3" fill="#4e9c4b"/><circle cx="125.14" cy="87.7" r="1.3" fill="#df463c"/><circle cx="207.38" cy="98.41" r="1.3" fill="#4e9c4b"/><circle cx="189.98" cy="74.89" r="1.3" fill="#eb8833"/><circle cx="130.41" cy="100.35" r="1.3" fill="#eb8833"/><circle cx="216.64" cy="100.33" r="1.3" fill="#4e9c4b"/><circle cx="165.07" cy="85.71" r="1.3" fill="#eb8833"/><circle cx="133.8" cy="78.47" r="1.3" fill="#eb8833"/><circle cx="199.67" cy="81.58" r="1.05" fill="#eb8833"/><circle cx="153.78" cy="72.59" r="1.05" fill="#eb8833"/><circle cx="117.61" cy="94.27" r="1.05" fill="#df463c"/><circle cx="161.08" cy="97.74" r="1.05" fill="#eb8833"/><circle cx="121.37" cy="81.77" r="1.05" fill="#df463c"/><circle cx="118.82" cy="78.68" r="1.05" fill="#df463c"/><circle cx="104.77" cy="95.35" r="1.05" fill="#df463c"/><circle cx="109.37" cy="98.8" r="1.05" fill="#df463c"/><circle cx="161.1" cy="82.39" r="1.05" fill="#eb8833"/><circle cx="114.82" cy="86.33" r="1.05" fill="#df463c"/><circle cx="149.72" cy="106.47" r="1.05" fill="#eb8833"/><circle cx="212.96" cy="78.69" r="1.05" fill="#4e9c4b"/><circle cx="167.59" cy="90.31" r="1.05" fill="#eb8833"/><circle cx="98.1" cy="83.19" r="1.05" fill="#df463c"/><circle cx="193.38" cy="75.16" r="1.05" fill="#eb8833"/><circle cx="222.54" cy="97.97" r="1.05" fill="#4e9c4b"/><circle cx="146.26" cy="82.97" r="1.05" fill="#eb8833"/><circle cx="210.45" cy="91.29" r="1.05" fill="#4e9c4b"/><circle cx="138.28" cy="78.79" r="1.05" fill="#eb8833"/><circle cx="199.67" cy="87.62" r="1.05" fill="#eb8833"/><circle cx="116.47" cy="100.38" r="1.05" fill="#df463c"/><circle cx="125.97" cy="94.41" r="1.05" fill="#df463c"/><circle cx="134.16" cy="93.29" r="1.05" fill="#eb8833"/><circle cx="186.52" cy="82.09" r="1.05" fill="#eb8833"/><circle cx="134.02" cy="96.66" r="1.05" fill="#eb8833"/><circle cx="97.3" cy="91.81" r="1.05" fill="#df463c"/><circle cx="195.18" cy="94.65" r="1.05" fill="#eb8833"/><circle cx="188.74" cy="80.9" r="1.05" fill="#eb8833"/><circle cx="158.23" cy="102.83" r="1.05" fill="#eb8833"/><circle cx="99.26" cy="94.03" r="1.05" fill="#df463c"/><circle cx="228.86" cy="92.86" r="1.05" fill="#4e9c4b"/><circle cx="197.07" cy="96.03" r="1.05" fill="#eb8833"/><circle cx="152.65" cy="81.99" r="1.05" fill="#eb8833"/><circle cx="147.03" cy="97.99" r="1.05" fill="#eb8833"/><circle cx="172.76" cy="73.45" r="1.05" fill="#eb8833"/><circle cx="119.01" cy="100.13" r="1.05" fill="#df463c"/><circle cx="142.07" cy="103.28" r="1.05" fill="#eb8833"/><circle cx="180.98" cy="80.63" r="1.05" fill="#eb8833"/><circle cx="178.71" cy="76.4" r="1.05" fill="#eb8833"/><circle cx="194.27" cy="80.49" r="1.05" fill="#eb8833"/><circle cx="179.21" cy="97.99" r="1.05" fill="#eb8833"/><circle cx="178.16" cy="108.11" r="1.05" fill="#eb8833"/><circle cx="128.12" cy="91.68" r="1.05" fill="#df463c"/><circle cx="235.47" cy="93.56" r="1.05" fill="#4e9c4b"/><circle cx="192.19" cy="94.65" r="1.05" fill="#eb8833"/><circle cx="120.19" cy="94.36" r="1.05" fill="#df463c"/><circle cx="160.23" cy="94.57" r="1.05" fill="#eb8833"/><circle cx="173.43" cy="102.83" r="1.05" fill="#eb8833"/><circle cx="157.78" cy="84.64" r="0.85" fill="#eb8833"/><circle cx="139.8" cy="87.51" r="0.85" fill="#eb8833"/><circle cx="93.05" cy="86.16" r="0.85" fill="#df463c"/><circle cx="126.37" cy="96.3" r="0.85" fill="#df463c"/><circle cx="141.46" cy="108.94" r="0.85" fill="#eb8833"/><circle cx="180.44" cy="83.24" r="0.85" fill="#eb8833"/><circle cx="155.72" cy="100.96" r="0.85" fill="#eb8833"/><circle cx="105.83" cy="85.59" r="0.85" fill="#df463c"/><circle cx="200.13" cy="84.94" r="0.85" fill="#eb8833"/><circle cx="173.65" cy="98.18" r="0.85" fill="#eb8833"/><circle cx="90.28" cy="90.94" r="0.85" fill="#df463c"/><circle cx="198.06" cy="88.82" r="0.85" fill="#eb8833"/><circle cx="152.2" cy="90.74" r="0.85" fill="#eb8833"/><circle cx="133.53" cy="80.74" r="0.85" fill="#eb8833"/><circle cx="165" cy="103.59" r="0.85" fill="#eb8833"/><circle cx="197.44" cy="100.25" r="0.85" fill="#4e9c4b"/><circle cx="195.42" cy="104.89" r="0.85" fill="#4e9c4b"/><circle cx="158.74" cy="89.41" r="0.85" fill="#eb8833"/><circle cx="92.77" cy="95.3" r="0.85" fill="#df463c"/><circle cx="136.95" cy="87.87" r="0.85" fill="#eb8833"/><circle cx="163.86" cy="99.16" r="0.85" fill="#eb8833"/><circle cx="175.14" cy="99.45" r="0.85" fill="#eb8833"/><circle cx="207.82" cy="103.46" r="0.85" fill="#4e9c4b"/><circle cx="100.36" cy="85.06" r="0.85" fill="#df463c"/><circle cx="179.83" cy="92.13" r="0.85" fill="#eb8833"/><circle cx="167.22" cy="75.36" r="0.85" fill="#eb8833"/><circle cx="169.11" cy="93.23" r="0.85" fill="#eb8833"/><circle cx="141.11" cy="96.92" r="0.85" fill="#eb8833"/><circle cx="105.48" cy="97.75" r="0.85" fill="#df463c"/><circle cx="155.11" cy="76.06" r="0.85" fill="#eb8833"/><circle cx="112.91" cy="91.41" r="0.85" fill="#df463c"/><circle cx="92.03" cy="91.13" r="0.85" fill="#df463c"/><circle cx="169.7" cy="106.59" r="0.85" fill="#eb8833"/><circle cx="201.74" cy="79.91" r="0.85" fill="#4e9c4b"/><circle cx="221.52" cy="96.1" r="0.85" fill="#4e9c4b"/><circle cx="159.9" cy="76.37" r="0.85" fill="#eb8833"/><circle cx="117.75" cy="89.15" r="0.85" fill="#df463c"/><circle cx="149.49" cy="76.56" r="0.85" fill="#eb8833"/><circle cx="150.03" cy="99.35" r="0.85" fill="#eb8833"/><circle cx="206.53" cy="85.28" r="0.85" fill="#4e9c4b"/><circle cx="202.15" cy="104.23" r="0.85" fill="#4e9c4b"/><circle cx="165.31" cy="101.37" r="0.85" fill="#eb8833"/><circle cx="124.87" cy="97.73" r="0.85" fill="#df463c"/><circle cx="206.63" cy="83.39" r="0.85" fill="#4e9c4b"/><circle cx="128.34" cy="101.85" r="0.85" fill="#df463c"/><circle cx="143.34" cy="70.6" r="0.85" fill="#eb8833"/><circle cx="194.93" cy="102.42" r="0.85" fill="#eb8833"/><circle cx="93.32" cy="92.91" r="0.85" fill="#df463c"/><circle cx="172.25" cy="110.38" r="0.85" fill="#eb8833"/><circle cx="137.47" cy="98.73" r="0.85" fill="#eb8833"/><circle cx="95.93" cy="87.46" r="0.85" fill="#df463c"/><circle cx="140.06" cy="103.15" r="0.85" fill="#eb8833"/><circle cx="141.24" cy="84.26" r="0.85" fill="#eb8833"/><circle cx="97.49" cy="89.9" r="0.85" fill="#df463c"/><circle cx="203.66" cy="90.28" r="0.85" fill="#4e9c4b"/><circle cx="112.93" cy="85.47" r="0.85" fill="#df463c"/><circle cx="120.29" cy="79.99" r="0.85" fill="#df463c"/><circle cx="151.89" cy="72.15" r="0.85" fill="#eb8833"/><circle cx="167.91" cy="82.79" r="0.85" fill="#eb8833"/><circle cx="102.42" cy="89.02" r="0.85" fill="#df463c"/><circle cx="118.28" cy="76.83" r="0.85" fill="#df463c"/><circle cx="158.41" cy="106.2" r="0.85" fill="#eb8833"/><circle cx="140.42" cy="80.14" r="0.85" fill="#eb8833"/><circle cx="169.78" cy="75.11" r="0.85" fill="#eb8833"/><circle cx="153.55" cy="96.48" r="0.85" fill="#eb8833"/><circle cx="154.52" cy="84.75" r="0.85" fill="#eb8833"/><circle cx="148.24" cy="84.53" r="0.85" fill="#eb8833"/><circle cx="112.83" cy="77.82" r="0.85" fill="#df463c"/><circle cx="184.16" cy="73.3" r="0.85" fill="#eb8833"/><circle cx="129.85" cy="90.53" r="0.7" fill="#eb8833"/><circle cx="88.38" cy="87.97" r="0.7" fill="#df463c"/><circle cx="139.87" cy="108.16" r="0.7" fill="#eb8833"/><circle cx="169.56" cy="82.92" r="0.7" fill="#eb8833"/><circle cx="224.27" cy="85.01" r="0.7" fill="#4e9c4b"/><circle cx="143.76" cy="74.12" r="0.7" fill="#eb8833"/><circle cx="163.11" cy="90.46" r="0.7" fill="#eb8833"/><circle cx="175.6" cy="75.98" r="0.7" fill="#eb8833"/><circle cx="216.87" cy="94.16" r="0.7" fill="#4e9c4b"/><circle cx="115.63" cy="98.3" r="0.7" fill="#df463c"/><circle cx="176.15" cy="84.8" r="0.7" fill="#eb8833"/><circle cx="201.32" cy="101.57" r="0.7" fill="#4e9c4b"/><circle cx="189" cy="103.1" r="0.7" fill="#eb8833"/><circle cx="136.4" cy="91.79" r="0.7" fill="#eb8833"/><circle cx="153.3" cy="83.75" r="0.7" fill="#eb8833"/><circle cx="114.77" cy="88.11" r="0.7" fill="#df463c"/><circle cx="201.82" cy="77.1" r="0.7" fill="#4e9c4b"/><circle cx="116.44" cy="88.26" r="0.7" fill="#df463c"/><circle cx="103.82" cy="100.46" r="0.7" fill="#df463c"/><circle cx="172.02" cy="79.9" r="0.7" fill="#eb8833"/><circle cx="151.31" cy="101.8" r="0.7" fill="#eb8833"/><circle cx="177.95" cy="105.97" r="0.7" fill="#eb8833"/><circle cx="103.69" cy="83.18" r="0.7" fill="#df463c"/><circle cx="199.68" cy="83.37" r="0.7" fill="#eb8833"/><circle cx="150.79" cy="69.18" r="0.7" fill="#eb8833"/><circle cx="128.81" cy="75.45" r="0.7" fill="#df463c"/><circle cx="110.59" cy="90.79" r="0.7" fill="#df463c"/><circle cx="159.48" cy="104.8" r="0.7" fill="#eb8833"/><circle cx="164.89" cy="79.1" r="0.7" fill="#eb8833"/><circle cx="136.21" cy="78.91" r="0.7" fill="#eb8833"/><circle cx="147.6" cy="88.28" r="0.7" fill="#eb8833"/><circle cx="122.51" cy="92.56" r="0.7" fill="#df463c"/><circle cx="231.91" cy="94.75" r="0.7" fill="#4e9c4b"/><circle cx="229.41" cy="84.89" r="0.7" fill="#4e9c4b"/><circle cx="154.11" cy="77.39" r="0.7" fill="#eb8833"/><circle cx="160.54" cy="77.94" r="0.7" fill="#eb8833"/><circle cx="192.03" cy="87.64" r="0.7" fill="#eb8833"/><circle cx="140.57" cy="85.91" r="0.7" fill="#eb8833"/><circle cx="120.5" cy="96.69" r="0.7" fill="#df463c"/><circle cx="227.1" cy="92.63" r="0.7" fill="#4e9c4b"/><circle cx="120.96" cy="101.72" r="0.7" fill="#df463c"/><circle cx="131.92" cy="98.62" r="0.7" fill="#eb8833"/><circle cx="137.72" cy="101.67" r="0.7" fill="#eb8833"/><circle cx="168.41" cy="111.58" r="0.7" fill="#eb8833"/><circle cx="88.19" cy="92.68" r="0.7" fill="#df463c"/><circle cx="154.91" cy="112.17" r="0.7" fill="#eb8833"/><circle cx="125.29" cy="100.69" r="0.7" fill="#df463c"/><circle cx="161.6" cy="72.99" r="0.7" fill="#eb8833"/><circle cx="150.34" cy="108.37" r="0.7" fill="#eb8833"/><circle cx="208.11" cy="77.17" r="0.7" fill="#4e9c4b"/><circle cx="210.93" cy="77.81" r="0.7" fill="#4e9c4b"/><circle cx="215.9" cy="79.59" r="0.7" fill="#4e9c4b"/><circle cx="145.54" cy="76.1" r="0.7" fill="#eb8833"/><circle cx="113.19" cy="80.68" r="0.7" fill="#df463c"/><circle cx="210.43" cy="89.47" r="0.7" fill="#4e9c4b"/><circle cx="211.82" cy="94.96" r="0.7" fill="#4e9c4b"/><circle cx="126.54" cy="101.61" r="0.7" fill="#df463c"/><circle cx="110.82" cy="96.39" r="0.7" fill="#df463c"/><circle cx="141.34" cy="89.33" r="0.7" fill="#eb8833"/><circle cx="224.47" cy="83.41" r="0.7" fill="#4e9c4b"/><circle cx="133.41" cy="85.52" r="0.7" fill="#eb8833"/><circle cx="223.05" cy="88.62" r="0.7" fill="#4e9c4b"/><circle cx="146.1" cy="90.13" r="0.7" fill="#eb8833"/><circle cx="162.58" cy="83.5" r="0.7" fill="#eb8833"/><circle cx="190.16" cy="97.47" r="0.7" fill="#eb8833"/></svg><div style="left:164.8px;top:60.4px;width:13.6px;height:3.7px;background:#5d5d5d;border-radius:0.5px;"></div><div style="left:166px;top:61.8px;font-size:1.9px;line-height:2.38px;color:#fff;font-weight:400;white-space:nowrap;">Band 3/24</div><div style="left:151.7px;top:121.2px;width:11.6px;height:0.9px;background:#9aa2ab;border-radius:0.5px;"></div><div style="left:13.4px;top:122.8px;width:299.9px;height:66px;background:#fbfbfb;"></div><div style="left:17px;top:127.59px;font-size:2.65px;line-height:3.31px;color:#333;font-weight:700;white-space:nowrap;">ID</div><div style="left:35px;top:127.59px;font-size:2.65px;line-height:3.31px;color:#333;font-weight:700;white-space:nowrap;">Type</div><div style="left:55px;top:127.59px;font-size:2.65px;line-height:3.31px;color:#333;font-weight:700;white-space:nowrap;">Title</div><div style="left:122.2px;top:127.59px;font-size:2.65px;line-height:3.31px;color:#333;font-weight:700;white-space:nowrap;">Actions</div><div style="left:138.8px;top:127.59px;font-size:2.65px;line-height:3.31px;color:#333;font-weight:700;white-space:nowrap;">Category</div><div style="left:164.2px;top:127.59px;font-size:2.65px;line-height:3.31px;color:#333;font-weight:700;white-space:nowrap;">Status</div><div style="left:182px;top:127.59px;font-size:2.65px;line-height:3.31px;color:#333;font-weight:700;white-space:nowrap;">Causes</div><div style="left:198.3px;top:127.59px;font-size:2.65px;line-height:3.31px;color:#333;font-weight:700;white-space:nowrap;">Time Impact</div><div style="left:226.4px;top:127.59px;font-size:2.65px;line-height:3.31px;color:#333;font-weight:700;white-space:nowrap;">Cost Impact</div><div style="left:255.9px;top:127.59px;font-size:2.65px;line-height:3.31px;color:#333;font-weight:700;white-space:nowrap;">Pre-mitigation ranking</div><div style="left:291.3px;top:127.59px;font-size:2.65px;line-height:3.31px;color:#333;font-weight:700;white-space:nowrap;">Link to Cost</div><div style="left:13.4px;top:134.1px;width:299.9px;height:0.35px;background:#e3e6ea;"></div><div style="left:13.4px;top:145.1px;width:299.9px;height:0.35px;background:#e3e6ea;"></div><div style="left:13.4px;top:156.3px;width:299.9px;height:0.35px;background:#e3e6ea;"></div><div style="left:13.4px;top:167.1px;width:299.9px;height:0.35px;background:#e3e6ea;"></div><div style="left:13.4px;top:178.3px;width:299.9px;height:0.35px;background:#e3e6ea;"></div><div style="left:17px;top:138.44px;font-size:2.7px;line-height:3.38px;color:#333;font-weight:400;white-space:nowrap;">F2R-XBA</div><div style="left:35.5px;top:138.44px;font-size:2.7px;line-height:3.38px;color:#333;font-weight:400;white-space:nowrap;">2</div><div style="left:55px;top:138.44px;font-size:2.7px;line-height:3.38px;color:#3b6db0;font-weight:400;white-space:nowrap;">Kidnapping</div><div style="left:126.3px;top:139.4px;width:2.6px;height:0.45px;background:#555;"></div><div style="left:138.8px;top:138.45px;font-size:2.75px;line-height:3.44px;color:#333;font-weight:400;white-space:nowrap;">Environmental</div><svg style="position:absolute;left:162.85px;top:137.35px" width="4.5" height="4.5"><circle cx="2.25" cy="2.25" r="1.75" fill="#ec7c22"/></svg><div style="left:164.2px;top:138.32px;font-size:2.4px;line-height:3px;color:#fff;font-weight:700;white-space:nowrap;">&#8249;</div><div style="left:168.6px;top:138.32px;font-size:2.5px;line-height:3.12px;color:#333;font-weight:400;white-space:nowrap;">OPEN</div><div style="left:185.6px;top:138.3px;width:6px;height:2.6px;background:#2a88dc;border-radius:1.3px;"></div><div style="left:88.6px;width:200px;text-align:center;top:139.13px;font-size:1.8px;line-height:2.25px;color:#fff;font-weight:700;white-space:nowrap;">13</div><div style="left:7.6px;width:200px;text-align:right;top:139.37px;font-size:2.3px;line-height:2.88px;color:#c0392b;font-weight:400;white-space:nowrap;">-186</div><div style="left:14.6px;width:200px;text-align:right;top:139.37px;font-size:2.3px;line-height:2.88px;color:#555;font-weight:400;white-space:nowrap;">Days</div><div style="left:37.8px;width:200px;text-align:right;top:139.37px;font-size:2.3px;line-height:2.88px;color:#c0392b;font-weight:400;white-space:nowrap;">$53,000.00</div><div style="left:244.4px;top:139.37px;font-size:2.3px;line-height:2.88px;color:#555;font-weight:400;white-space:nowrap;">AUD</div><svg style="position:absolute;left:267.75px;top:136.75px" width="5.7" height="5.7"><circle cx="2.85" cy="2.85" r="2.35" fill="#d32f2f"/></svg><div style="left:170.6px;width:200px;text-align:center;top:139.15px;font-size:1.9px;line-height:2.38px;color:#fff;font-weight:700;white-space:nowrap;">5</div><div style="left:298.3px;top:138.8px;width:5.6px;height:1.6px;background:#b3cde8;border-radius:0.8px;"></div><svg style="position:absolute;left:300.5px;top:137.1px" width="5" height="5"><circle cx="2.5" cy="2.5" r="2" fill="#1f66b3"/></svg><div style="left:17px;top:149.34px;font-size:2.7px;line-height:3.38px;color:#333;font-weight:400;white-space:nowrap;">F2R-YBA</div><div style="left:35.5px;top:149.34px;font-size:2.7px;line-height:3.38px;color:#333;font-weight:400;white-space:nowrap;">1</div><div style="left:55px;top:149.34px;font-size:2.7px;line-height:3.38px;color:#3b6db0;font-weight:400;white-space:nowrap;">Weather Disruptions</div><div style="left:126.3px;top:150.3px;width:2.6px;height:0.45px;background:#555;"></div><div style="left:138.8px;top:149.35px;font-size:2.75px;line-height:3.44px;color:#333;font-weight:400;white-space:nowrap;">Environmental</div><svg style="position:absolute;left:162.85px;top:148.25px" width="4.5" height="4.5"><circle cx="2.25" cy="2.25" r="1.75" fill="#ec7c22"/></svg><div style="left:164.2px;top:149.22px;font-size:2.4px;line-height:3px;color:#fff;font-weight:700;white-space:nowrap;">&#8249;</div><div style="left:168.6px;top:149.22px;font-size:2.5px;line-height:3.12px;color:#333;font-weight:400;white-space:nowrap;">OPEN</div><svg style="position:absolute;left:186.5px;top:148.4px" width="4.2" height="4.2"><circle cx="2.1" cy="2.1" r="1.45" fill="#fff" stroke="#b9d4ee" stroke-width="0.3"/></svg><div style="left:88.6px;width:200px;text-align:center;top:151.01px;font-size:1.5px;line-height:1.88px;color:#7aa7d6;font-weight:400;white-space:nowrap;">0</div><div style="left:7.6px;width:200px;text-align:right;top:150.27px;font-size:2.3px;line-height:2.88px;color:#333;font-weight:400;white-space:nowrap;">0</div><div style="left:14.6px;width:200px;text-align:right;top:150.27px;font-size:2.3px;line-height:2.88px;color:#555;font-weight:400;white-space:nowrap;">Days</div><div style="left:37.8px;width:200px;text-align:right;top:150.27px;font-size:2.3px;line-height:2.88px;color:#333;font-weight:400;white-space:nowrap;">0.00</div><div style="left:244.4px;top:150.27px;font-size:2.3px;line-height:2.88px;color:#555;font-weight:400;white-space:nowrap;">AUD</div><svg style="position:absolute;left:267.75px;top:147.65px" width="5.7" height="5.7"><circle cx="2.85" cy="2.85" r="2.35" fill="#2e7d32"/></svg><div style="left:170.6px;width:200px;text-align:center;top:150.05px;font-size:1.9px;line-height:2.38px;color:#fff;font-weight:700;white-space:nowrap;">5</div><div style="left:298.3px;top:149.7px;width:5.6px;height:1.6px;background:#b3cde8;border-radius:0.8px;"></div><svg style="position:absolute;left:300.5px;top:148px" width="5" height="5"><circle cx="2.5" cy="2.5" r="2" fill="#1f66b3"/></svg><div style="left:17px;top:160.44px;font-size:2.7px;line-height:3.38px;color:#333;font-weight:400;white-space:nowrap;">F2R-XGD</div><div style="left:35.5px;top:160.44px;font-size:2.7px;line-height:3.38px;color:#333;font-weight:400;white-space:nowrap;">4</div><div style="left:55px;top:160.44px;font-size:2.7px;line-height:3.38px;color:#3b6db0;font-weight:400;white-space:nowrap;">Wild fire</div><div style="left:126.3px;top:161.4px;width:2.6px;height:0.45px;background:#555;"></div><div style="left:138.8px;top:160.45px;font-size:2.75px;line-height:3.44px;color:#333;font-weight:400;white-space:nowrap;">Environmental</div><svg style="position:absolute;left:162.85px;top:159.35px" width="4.5" height="4.5"><circle cx="2.25" cy="2.25" r="1.75" fill="#ec7c22"/></svg><div style="left:164.2px;top:160.32px;font-size:2.4px;line-height:3px;color:#fff;font-weight:700;white-space:nowrap;">&#8249;</div><div style="left:168.6px;top:160.32px;font-size:2.5px;line-height:3.12px;color:#333;font-weight:400;white-space:nowrap;">OPEN</div><svg style="position:absolute;left:186.5px;top:159.5px" width="4.2" height="4.2"><circle cx="2.1" cy="2.1" r="1.45" fill="#fff" stroke="#b9d4ee" stroke-width="0.3"/></svg><div style="left:88.6px;width:200px;text-align:center;top:162.11px;font-size:1.5px;line-height:1.88px;color:#7aa7d6;font-weight:400;white-space:nowrap;">0</div><div style="left:7.6px;width:200px;text-align:right;top:161.37px;font-size:2.3px;line-height:2.88px;color:#c0392b;font-weight:400;white-space:nowrap;">+5</div><div style="left:14.6px;width:200px;text-align:right;top:161.37px;font-size:2.3px;line-height:2.88px;color:#555;font-weight:400;white-space:nowrap;">Days</div><div style="left:37.8px;width:200px;text-align:right;top:161.37px;font-size:2.3px;line-height:2.88px;color:#c0392b;font-weight:400;white-space:nowrap;">5,000.00</div><div style="left:244.4px;top:161.37px;font-size:2.3px;line-height:2.88px;color:#555;font-weight:400;white-space:nowrap;">AUD</div><svg style="position:absolute;left:267.75px;top:158.75px" width="5.7" height="5.7"><circle cx="2.85" cy="2.85" r="2.35" fill="#ef8a22"/></svg><div style="left:170.6px;width:200px;text-align:center;top:161.15px;font-size:1.9px;line-height:2.38px;color:#fff;font-weight:700;white-space:nowrap;">5</div><div style="left:298.3px;top:160.8px;width:5.6px;height:1.6px;background:#dcdcdc;border-radius:0.8px;"></div><svg style="position:absolute;left:300.7px;top:159.3px" width="4.6" height="4.6"><circle cx="2.3" cy="2.3" r="1.8" fill="#5e5e5e"/></svg><div style="left:17px;top:171.44px;font-size:2.7px;line-height:3.38px;color:#333;font-weight:400;white-space:nowrap;">F2R-XDB</div><div style="left:35.5px;top:171.44px;font-size:2.7px;line-height:3.38px;color:#333;font-weight:400;white-space:nowrap;">3</div><div style="left:55px;top:171.44px;font-size:2.7px;line-height:3.38px;color:#3b6db0;font-weight:400;white-space:nowrap;">Landslide</div><div style="left:126.3px;top:172.4px;width:2.6px;height:0.45px;background:#555;"></div><div style="left:138.8px;top:171.45px;font-size:2.75px;line-height:3.44px;color:#333;font-weight:400;white-space:nowrap;">Environmental</div><svg style="position:absolute;left:162.85px;top:170.35px" width="4.5" height="4.5"><circle cx="2.25" cy="2.25" r="1.75" fill="#ec7c22"/></svg><div style="left:164.2px;top:171.32px;font-size:2.4px;line-height:3px;color:#fff;font-weight:700;white-space:nowrap;">&#8249;</div><div style="left:168.6px;top:171.32px;font-size:2.5px;line-height:3.12px;color:#333;font-weight:400;white-space:nowrap;">OPEN</div><svg style="position:absolute;left:186.4px;top:170.4px" width="4.4" height="4.4"><circle cx="2.2" cy="2.2" r="1.7" fill="#2a88dc"/></svg><div style="left:88.6px;width:200px;text-align:center;top:173.14px;font-size:1.6px;line-height:2px;color:#fff;font-weight:700;white-space:nowrap;">2</div><div style="left:7.6px;width:200px;text-align:right;top:172.37px;font-size:2.3px;line-height:2.88px;color:#333;font-weight:400;white-space:nowrap;">0</div><div style="left:14.6px;width:200px;text-align:right;top:172.37px;font-size:2.3px;line-height:2.88px;color:#555;font-weight:400;white-space:nowrap;">Days</div><div style="left:37.8px;width:200px;text-align:right;top:172.37px;font-size:2.3px;line-height:2.88px;color:#333;font-weight:400;white-space:nowrap;">0.00</div><div style="left:244.4px;top:172.37px;font-size:2.3px;line-height:2.88px;color:#555;font-weight:400;white-space:nowrap;">AUD</div><svg style="position:absolute;left:267.75px;top:169.75px" width="5.7" height="5.7"><circle cx="2.85" cy="2.85" r="2.35" fill="#2e7d32"/></svg><div style="left:170.6px;width:200px;text-align:center;top:172.15px;font-size:1.9px;line-height:2.38px;color:#fff;font-weight:700;white-space:nowrap;">5</div><div style="left:298.3px;top:171.8px;width:5.6px;height:1.6px;background:#b3cde8;border-radius:0.8px;"></div><svg style="position:absolute;left:300.5px;top:170.1px" width="5" height="5"><circle cx="2.5" cy="2.5" r="2" fill="#1f66b3"/></svg><div style="left:17px;top:182.64px;font-size:2.7px;line-height:3.38px;color:#333;font-weight:400;white-space:nowrap;">F2R-12A</div><div style="left:35.5px;top:182.64px;font-size:2.7px;line-height:3.38px;color:#333;font-weight:400;white-space:nowrap;">5</div><div style="left:55px;top:182.64px;font-size:2.7px;line-height:3.38px;color:#3b6db0;font-weight:400;white-space:nowrap;">Contamination</div><div style="left:126.3px;top:183.6px;width:2.6px;height:0.45px;background:#555;"></div><div style="left:138.8px;top:182.65px;font-size:2.75px;line-height:3.44px;color:#333;font-weight:400;white-space:nowrap;">Environmental</div><svg style="position:absolute;left:162.85px;top:181.55px" width="4.5" height="4.5"><circle cx="2.25" cy="2.25" r="1.75" fill="#ec7c22"/></svg><div style="left:164.2px;top:182.52px;font-size:2.4px;line-height:3px;color:#fff;font-weight:700;white-space:nowrap;">&#8249;</div><div style="left:168.6px;top:182.52px;font-size:2.5px;line-height:3.12px;color:#333;font-weight:400;white-space:nowrap;">OPEN</div><svg style="position:absolute;left:186.4px;top:181.6px" width="4.4" height="4.4"><circle cx="2.2" cy="2.2" r="1.7" fill="#2a88dc"/></svg><div style="left:88.6px;width:200px;text-align:center;top:184.34px;font-size:1.6px;line-height:2px;color:#fff;font-weight:700;white-space:nowrap;">2</div><div style="left:7.6px;width:200px;text-align:right;top:183.57px;font-size:2.3px;line-height:2.88px;color:#333;font-weight:400;white-space:nowrap;">0</div><div style="left:14.6px;width:200px;text-align:right;top:183.57px;font-size:2.3px;line-height:2.88px;color:#555;font-weight:400;white-space:nowrap;">Days</div><div style="left:37.8px;width:200px;text-align:right;top:183.57px;font-size:2.3px;line-height:2.88px;color:#333;font-weight:400;white-space:nowrap;">0.00</div><div style="left:244.4px;top:183.57px;font-size:2.3px;line-height:2.88px;color:#555;font-weight:400;white-space:nowrap;">AUD</div><svg style="position:absolute;left:267.75px;top:180.95px" width="5.7" height="5.7"><circle cx="2.85" cy="2.85" r="2.35" fill="#ef8a22"/></svg><div style="left:170.6px;width:200px;text-align:center;top:183.35px;font-size:1.9px;line-height:2.38px;color:#fff;font-weight:700;white-space:nowrap;">5</div><div style="left:298.3px;top:183px;width:5.6px;height:1.6px;background:#dcdcdc;border-radius:0.8px;"></div><svg style="position:absolute;left:300.7px;top:181.5px" width="4.6" height="4.6"><circle cx="2.3" cy="2.3" r="1.8" fill="#5e5e5e"/></svg></div></div><div class="win" style="left:330.9px;top:15px;width:315.8px;height:193px;"><div style="left:0px;top:0px;width:315.8px;height:193px;background:#e5eff9;"></div><div style="left:0px;top:0px;width:315.8px;height:7.8px;background:#dee1e6;"></div><svg style="position:absolute;left:3.15px;top:2.25px" width="3.3" height="3.3"><circle cx="1.65" cy="1.65" r="1.15" fill="#e2675d"/></svg><svg style="position:absolute;left:7.2px;top:2.25px" width="3.3" height="3.3"><circle cx="1.65" cy="1.65" r="1.15" fill="#e8b752"/></svg><svg style="position:absolute;left:11.25px;top:2.25px" width="3.3" height="3.3"><circle cx="1.65" cy="1.65" r="1.15" fill="#5fb858"/></svg><div style="left:18px;top:1.3px;width:48px;height:6.5px;background:#fff;border-radius:1.4px 1.4px 0 0;"></div><svg style="position:absolute;left:20px;top:3px" width="3.2" height="3.2"><circle cx="1.6" cy="1.6" r="1.1" fill="#5f6368"/></svg><div style="left:25.2px;top:3.68px;font-size:2.53px;line-height:3.16px;color:#3c4043;font-weight:400;white-space:nowrap;">Maxit - Capital Works Portfolio</div><div style="left:58px;top:1.5px;width:6.2px;height:6px;background:linear-gradient(90deg,rgba(255,255,255,0),#fff 70%);"></div><div style="left:61.6px;top:2.48px;font-size:3.4px;line-height:4.25px;color:#3c4043;font-weight:400;white-space:nowrap;">&#215;</div><div style="left:69.4px;top:2.49px;font-size:3.8px;line-height:4.75px;color:#3c4043;font-weight:400;white-space:nowrap;">+</div><div style="left:309.8px;top:2.23px;font-size:3.2px;line-height:4px;color:#5f6368;font-weight:400;white-space:nowrap;">&#8964;</div><div style="left:0px;top:7.8px;width:315.8px;height:6.9px;background:#fff;"></div><div style="left:20.3px;top:8.9px;width:265.8px;height:4.8px;background:#f1f3f4;border-radius:2.4px;"></div><svg style="position:absolute;left:2.3px;top:9.9px;" width="3" height="2.6" viewBox="0 0 3 2.6"><path d="M2.8 1.3H0.5M1.5 0.3L0.4 1.3L1.5 2.3" stroke="#3c4043" stroke-width="0.6" fill="none"/></svg><svg style="position:absolute;left:8.6px;top:9.9px;" width="3" height="2.6" viewBox="0 0 3 2.6"><path d="M0.2 1.3H2.5M1.5 0.3L2.6 1.3L1.5 2.3" stroke="#b0b3b8" stroke-width="0.5" fill="none"/></svg><svg style="position:absolute;left:15px;top:9.6px;" width="3.2" height="3.2" viewBox="0 0 3.2 3.2"><path d="M2.7 1.2A1.15 1.15 0 1 0 2.75 2.0" stroke="#3c4043" stroke-width="0.5" fill="none"/><path d="M2.9 0.4V1.5H1.8Z" fill="#3c4043"/></svg><div style="left:23.5px;top:10.6px;width:1.6px;height:1.3px;background:#3c4043;border-radius:0.2px;"></div><div style="left:27.3px;top:10.5px;font-size:2.98px;line-height:3.72px;color:#202124;font-weight:400;white-space:nowrap;">demo.maxit.com.au</div><svg style="position:absolute;left:289.2px;top:9.9px;" width="2.6" height="2.8" viewBox="0 0 2.6 2.8"><path d="M0.4 0.6H2.2V2.6H0.4Z" fill="none" stroke="#5f6368" stroke-width="0.4"/><path d="M0.9 0.3H1.7" stroke="#5f6368" stroke-width="0.5"/></svg><svg style="position:absolute;left:295.6px;top:9.9px;" width="2.8" height="2.8" viewBox="0 0 2.8 2.8"><path d="M1.4 0.2L1.8 1.1L2.7 1.1L2.0 1.7L2.3 2.6L1.4 2.1L0.5 2.6L0.8 1.7L0.1 1.1L1.0 1.1Z" fill="none" stroke="#5f6368" stroke-width="0.35"/></svg><div style="left:304px;top:10.3px;width:1.9px;height:1.9px;background:#3c4043;border-radius:0.3px;"></div><div style="left:311.05px;top:9.9px;width:0.5px;height:2.7px;border-left:0.5px dotted #5f6368;"></div><div style="left:0px;top:14.7px;width:315.8px;height:13.2px;background:#1e3146;"></div><svg style="position:absolute;left:5.2px;top:19.3px;" width="3.2" height="3.4" viewBox="0 0 3.2 3.4"><path d="M0 0 H3.2 L2 1.6 V3.4 L1.2 2.8 V1.6Z" fill="#e8edf3"/></svg><div style="left:11px;top:19.05px;font-size:3.29px;line-height:4.12px;color:#f1f4f8;font-weight:700;white-space:nowrap;">maxit</div><div style="left:32px;top:16.8px;width:64.5px;height:8.6px;background:#213349;border:0.35px solid #2f4560;box-sizing:border-box;border-radius:0.8px;"></div><div style="left:35px;top:19.13px;font-size:3.2px;line-height:4px;color:#d3dae3;font-weight:400;white-space:nowrap;">Capital Project</div><div style="left:91px;top:20.6px;font-size:2.2px;line-height:2.75px;color:#c9d2dd;font-weight:400;white-space:nowrap;">&#9662;</div><svg style="position:absolute;left:278px;top:17.7px;" width="7" height="7" viewBox="0 0 7 7"><circle cx="3.5" cy="3.5" r="3.4" fill="#e9e2d8"/><ellipse cx="3.5" cy="3.6" rx="1.6" ry="2.0" fill="#c69a74"/><path d="M1.9 2.6 Q3.5 0.6 5.1 2.6 Q3.5 1.9 1.9 2.6Z" fill="#6b5443"/><path d="M0.8 6.2 Q3.5 4.6 6.2 6.2 L5.5 6.8 H1.5Z" fill="#8c7d6e"/></svg><div style="left:286.9px;top:18.2px;font-size:2.8px;line-height:3.5px;color:#f4f6f9;font-weight:700;white-space:nowrap;">Doug Vincent</div><div style="left:286.9px;top:21.76px;font-size:2.56px;line-height:3.2px;color:#c3ccd6;font-weight:400;white-space:nowrap;">Account Owner</div><div style="left:308.9px;top:20.8px;font-size:2.2px;line-height:2.75px;color:#d9e0e8;font-weight:400;white-space:nowrap;">&#9662;</div><div style="left:0px;top:27.9px;width:13px;height:165.1px;background:#f9fbfe;border-right:0.5px solid #e3edf7;box-sizing:border-box;"></div><svg style="position:absolute;left:4.9px;top:33.4px;" width="4" height="4" viewBox="0 0 4 4"><rect x="0.4" y="1" width="3.2" height="0.5" fill="#8d9298"/><rect x="0.4" y="1.95" width="3.2" height="0.5" fill="#8d9298"/><rect x="0.4" y="2.9" width="3.2" height="0.5" fill="#8d9298"/></svg><div style="left:2.3px;top:43.36px;width:9.2px;height:7.8px;background:#e3eefa;"></div><svg style="position:absolute;left:4.9px;top:45.26px;" width="4" height="4" viewBox="0 0 4 4"><rect x="0.4" y="0.4" width="1.4" height="1.7" fill="#1f6fc0"/><rect x="2.1" y="0.4" width="1.4" height="1.0" fill="#1f6fc0"/><rect x="0.4" y="2.4" width="1.4" height="1.1" fill="#1f6fc0"/><rect x="2.1" y="1.7" width="1.4" height="1.8" fill="#1f6fc0"/></svg><svg style="position:absolute;left:4.9px;top:57.12px;" width="4" height="4" viewBox="0 0 4 4"><text x="2" y="3.3" font-size="3.6" text-anchor="middle" fill="#4a4e54" font-family="Liberation Sans">$</text></svg><svg style="position:absolute;left:4.9px;top:68.98px;" width="4" height="4" viewBox="0 0 4 4"><path d="M0.7 0.8H3.3V2.8H1.5L0.7 3.5Z" fill="none" stroke="#4a4e54" stroke-width="0.45" stroke-linejoin="round"/></svg><svg style="position:absolute;left:4.9px;top:80.84px;" width="4" height="4" viewBox="0 0 4 4"><circle cx="2" cy="2" r="1.55" fill="#3c4046"/><path d="M1.0 3.0L3.0 1.0" stroke="#fff" stroke-width="0.45"/></svg><svg style="position:absolute;left:4.9px;top:92.7px;" width="4" height="4" viewBox="0 0 4 4"><path d="M2 0.4L3.7 3.4H0.3Z" fill="#3c4046"/><rect x="1.8" y="1.5" width="0.4" height="1.0" fill="#fff"/></svg><svg style="position:absolute;left:4.9px;top:104.56px;" width="4" height="4" viewBox="0 0 4 4"><circle cx="2" cy="2" r="1.6" fill="#3c4046"/><path d="M2 0.4V2H3.6" stroke="#fff" stroke-width="0.35" fill="none"/></svg><svg style="position:absolute;left:4.9px;top:116.42px;" width="4" height="4" viewBox="0 0 4 4"><rect x="0.4" y="1.3" width="3.2" height="2.2" rx="0.3" fill="#3c4046"/><rect x="1.35" y="0.6" width="1.3" height="1.0" fill="none" stroke="#3c4046" stroke-width="0.35"/></svg><svg style="position:absolute;left:4.9px;top:128.28px;" width="4" height="4" viewBox="0 0 4 4"><path d="M0.9 0.4H2.5L3.2 1.1V3.6H0.9Z" fill="#3c4046"/><path d="M1.4 2.2H2.7M1.4 2.9H2.7" stroke="#fff" stroke-width="0.25"/></svg><svg style="position:absolute;left:4.9px;top:140.14px;" width="4" height="4" viewBox="0 0 4 4"><circle cx="2" cy="2" r="1.6" fill="#3c4046"/><ellipse cx="2" cy="2" rx="0.6" ry="1.4" fill="none" stroke="#fff" stroke-width="0.25"/></svg><svg style="position:absolute;left:4.9px;top:152px;" width="4" height="4" viewBox="0 0 4 4"><rect x="0.3" y="0.8" width="3.4" height="2.5" rx="0.3" fill="#3c4046"/><rect x="0.3" y="1.5" width="3.4" height="0.45" fill="#fff"/></svg><svg style="position:absolute;left:4.9px;top:163.86px;" width="4" height="4" viewBox="0 0 4 4"><path d="M3.3 2A1.3 1.3 0 1 1 2.6 0.85" fill="none" stroke="#4a4e54" stroke-width="0.45"/><path d="M2.3 0.2L3.2 0.9L2.3 1.5Z" fill="#4a4e54"/></svg><div style="left:2.9px;top:179.4px;width:8px;height:8px;border-radius:50%;background:#1f6bb8;box-shadow:0 0.4px 0.8px rgba(0,0,0,0.3);"></div><svg style="position:absolute;left:6px;top:182.4px;" width="2" height="2" viewBox="0 0 2 2"><path d="M0.3 0.1L1.8 1.0L0.3 1.9Z" fill="#fff"/></svg><div style="left:0;top:0.5px;width:315.8px;height:193px;"><div style="left:13.2px;top:29px;width:302.6px;height:9.9px;background:#fcfcfc;"></div><div style="left:16.1px;top:32.34px;font-size:4px;line-height:5px;color:#2b2b2b;font-weight:700;white-space:nowrap;">Overview</div><div style="left:244.3px;top:32.5px;width:17.9px;height:5.2px;background:#fff;border:0.4px solid #d3d9e0;border-radius:0.6px;"></div><svg style="position:absolute;left:247.3px;top:34.4px;" width="1.2" height="1.4" viewBox="0 0 1.2 1.4"><path d="M0 0L1.2 0.7L0 1.4Z" fill="#5a7090"/></svg><div style="left:251.2px;top:33.88px;font-size:2.67px;line-height:3.34px;color:#3a5a85;font-weight:400;white-space:nowrap;">Present</div><div style="left:264.5px;top:32.5px;width:21.3px;height:5.2px;background:#fff;border:0.4px solid #d3d9e0;border-radius:0.6px;"></div><div style="left:267.2px;top:34.2px;width:1.4px;height:1.8px;border:0.4px solid #5a7090;border-radius:0.2px;"></div><div style="left:271.4px;top:33.98px;font-size:2.86px;line-height:3.57px;color:#3a5a85;font-weight:400;white-space:nowrap;">Download</div><div style="left:288.1px;top:32.5px;width:21.6px;height:5.2px;background:#fff;border:0.4px solid #d3d9e0;border-radius:0.6px;"></div><svg style="position:absolute;left:290.15px;top:33.65px" width="2.9" height="2.9"><circle cx="1.45" cy="1.45" r="0.75" fill="none" stroke="#5a7090" stroke-width="0.4"/></svg><div style="left:295px;top:34.01px;font-size:2.79px;line-height:3.49px;color:#3a5a85;font-weight:400;white-space:nowrap;">Adjust filter</div><div style="left:13.2px;top:41.2px;width:299.8px;height:20.5px;background:#fff;"></div><div style="left:48.3px;top:41.2px;width:0.6px;height:20.5px;background:#e6eef7;"></div><div style="left:16.3px;top:44.67px;font-size:3.26px;line-height:4.08px;color:#444;font-weight:400;white-space:nowrap;">Program</div><div style="left:16.3px;top:51.69px;font-size:2.82px;line-height:3.53px;color:#444;font-weight:400;white-space:nowrap;">Nation: Delivery Phase</div><div style="left:16.3px;top:55.88px;font-size:2.92px;line-height:3.65px;color:#444;font-weight:400;white-space:nowrap;">Circle: Delivery Phase</div><div style="left:52.1px;top:44.73px;font-size:3.2px;line-height:4px;color:#444;font-weight:400;white-space:nowrap;">Capital Project</div><svg style="position:absolute;left:52.25px;top:52.55px" width="4.1" height="4.1"><circle cx="2.05" cy="2.05" r="1.55" fill="#2e9a3c"/></svg><div style="left:53.75px;top:54.13px;font-size:1.8px;line-height:2.25px;color:#fff;font-weight:700;white-space:nowrap;">!</div><div style="left:56.7px;top:53.4px;font-size:2.6px;line-height:3.25px;color:#444;font-weight:400;white-space:nowrap;">Scope</div><svg style="position:absolute;left:70.45px;top:52.55px" width="4.1" height="4.1"><circle cx="2.05" cy="2.05" r="1.55" fill="#2e9a3c"/></svg><div style="left:71.95px;top:54.13px;font-size:1.8px;line-height:2.25px;color:#fff;font-weight:700;white-space:nowrap;">!</div><div style="left:74.9px;top:53.4px;font-size:2.6px;line-height:3.25px;color:#444;font-weight:400;white-space:nowrap;">Time</div><svg style="position:absolute;left:86.75px;top:52.55px" width="4.1" height="4.1"><circle cx="2.05" cy="2.05" r="1.55" fill="#d8312a"/></svg><div style="left:88.25px;top:54.13px;font-size:1.8px;line-height:2.25px;color:#fff;font-weight:700;white-space:nowrap;">!</div><div style="left:91.2px;top:53.4px;font-size:2.6px;line-height:3.25px;color:#444;font-weight:400;white-space:nowrap;">Cost</div><svg style="position:absolute;left:102.95px;top:52.55px" width="4.1" height="4.1"><circle cx="2.05" cy="2.05" r="1.55" fill="#e4681f"/></svg><div style="left:104.45px;top:54.13px;font-size:1.8px;line-height:2.25px;color:#fff;font-weight:700;white-space:nowrap;">!</div><div style="left:107.4px;top:53.4px;font-size:2.6px;line-height:3.25px;color:#444;font-weight:400;white-space:nowrap;">Risk</div><svg style="position:absolute;left:118.65px;top:52.55px" width="4.1" height="4.1"><circle cx="2.05" cy="2.05" r="1.55" fill="#2e9a3c"/></svg><div style="left:120.15px;top:54.13px;font-size:1.8px;line-height:2.25px;color:#fff;font-weight:700;white-space:nowrap;">!</div><div style="left:123.1px;top:53.4px;font-size:2.6px;line-height:3.25px;color:#444;font-weight:400;white-space:nowrap;">Safety</div><svg style="position:absolute;left:137.05px;top:52.55px" width="4.1" height="4.1"><circle cx="2.05" cy="2.05" r="1.55" fill="#2e9a3c"/></svg><div style="left:138.55px;top:54.13px;font-size:1.8px;line-height:2.25px;color:#fff;font-weight:700;white-space:nowrap;">!</div><div style="left:141.5px;top:53.4px;font-size:2.6px;line-height:3.25px;color:#444;font-weight:400;white-space:nowrap;">Quality</div><div style="left:202.4px;top:47.58px;font-size:2px;line-height:2.5px;color:#888;font-weight:400;white-space:nowrap;">Stage</div><div style="left:202.4px;top:50.59px;font-size:3.38px;line-height:4.23px;color:#333;font-weight:400;white-space:nowrap;">Construction</div><div style="left:202.4px;top:55.7px;width:43.4px;height:0.4px;background:#8f8f8f;"></div><div style="left:243px;top:52.25px;font-size:1.9px;line-height:2.38px;color:#555;font-weight:400;white-space:nowrap;">&#9662;</div><div style="left:249.5px;top:46.68px;font-size:2px;line-height:2.5px;color:#666;font-weight:400;white-space:nowrap;">FEV</div><div style="left:249.3px;top:50.64px;font-size:6.25px;line-height:7.81px;color:#3a7fc3;font-weight:400;white-space:nowrap;">36.24%</div><div style="left:278.6px;top:48px;width:32.1px;height:7.8px;background:#fff;border:0.4px solid #d3d9e0;border-radius:0.6px;"></div><div style="left:281.3px;top:51px;width:1.7px;height:1.8px;background:#5a7090;border-radius:0.2px;"></div><div style="left:287.8px;top:50.87px;font-size:3.11px;line-height:3.88px;color:#3a5a85;font-weight:400;white-space:nowrap;">View on map</div><div style="left:13.7px;top:63.9px;width:73.9px;height:54.2px;background:#fff;"></div><div style="left:18.6px;top:69.08px;font-size:2.53px;line-height:3.16px;color:#333;font-weight:700;white-space:nowrap;">Vista</div><svg style="position:absolute;left:19.6px;top:76.5px;" width="61.5" height="36.8" viewBox="0 0 61.5 36.8">
<defs>
<linearGradient id="rockL" x1="0" y1="0" x2="1" y2="0.3"><stop offset="0" stop-color="#2c261f"/><stop offset="0.45" stop-color="#463b2f"/><stop offset="1" stop-color="#5f5141"/></linearGradient>
<linearGradient id="rockR" x1="0" y1="0" x2="1" y2="1"><stop offset="0" stop-color="#7d6e5a"/><stop offset="1" stop-color="#a08d72"/></linearGradient>
<linearGradient id="gnd" x1="0" y1="0" x2="1" y2="1"><stop offset="0" stop-color="#76776b"/><stop offset="1" stop-color="#a3a396"/></linearGradient>
<radialGradient id="hole" cx="0.5" cy="0.6" r="0.6"><stop offset="0" stop-color="#121211"/><stop offset="1" stop-color="#2c2a26"/></radialGradient>
<linearGradient id="pipe" x1="0" y1="0" x2="0" y2="1"><stop offset="0" stop-color="#dcdbd6"/><stop offset="0.35" stop-color="#f4f3f0"/><stop offset="1" stop-color="#a9a8a2"/></linearGradient>
</defs>
<rect width="61.5" height="36.8" fill="url(#rockL)"/>
<path d="M35 0 H61.5 V22 L48 18 L41 9Z" fill="url(#rockR)"/>
<path d="M39.0 0 L37.8 11.0" stroke="#5e5040" stroke-width="0.7" opacity="0.5"/><path d="M41.7 0 L40.5 14.5" stroke="#5e5040" stroke-width="0.7" opacity="0.5"/><path d="M44.4 0 L43.199999999999996 18.0" stroke="#5e5040" stroke-width="0.7" opacity="0.5"/><path d="M47.1 0 L45.9 11.0" stroke="#5e5040" stroke-width="0.7" opacity="0.5"/><path d="M49.8 0 L48.599999999999994 14.5" stroke="#5e5040" stroke-width="0.7" opacity="0.5"/><path d="M52.5 0 L51.3 18.0" stroke="#5e5040" stroke-width="0.7" opacity="0.5"/><path d="M55.2 0 L54.0 11.0" stroke="#5e5040" stroke-width="0.7" opacity="0.5"/><path d="M57.900000000000006 0 L56.7 14.5" stroke="#5e5040" stroke-width="0.7" opacity="0.5"/><path d="M60.6 0 L59.4 18.0" stroke="#5e5040" stroke-width="0.7" opacity="0.5"/>
<path d="M0 0 H13 L18 9 L15 25 L0 27Z" fill="#29231c" opacity="0.8"/>
<path d="M16.5 23 V17.5 A11.5 11.5 0 0 1 39.5 17.5 V23Z" fill="#3b3229"/>
<path d="M18.6 22 V17.6 A9.4 9.4 0 0 1 37.4 17.6 V22" fill="none" stroke="#8f8c84" stroke-width="1.3"/>
<path d="M19.6 23 V17.8 A8.4 8.4 0 0 1 36.4 17.8 V23Z" fill="url(#hole)"/>
<path d="M0 25.5 L18 23.3 L40 21.5 L61.5 23 V36.8 H0Z" fill="url(#gnd)"/>
<path d="M0 27 C8 26 16 26.5 25 25.3 C19 29.5 10 31.5 0 33.5Z" fill="#4a5864"/>
<path d="M0 33 C9 31.5 17 33 27 32 L28 36.8 H0Z" fill="#526270" opacity="0.75"/>
<path d="M30 28 L61.5 26 V29 L34 31Z" fill="#a4a494" opacity="0.5"/>
<circle cx="31.4" cy="22.6" r="0.9" fill="#d9c77e"/>
<g transform="rotate(12 47 19)">
<rect x="37.2" y="14.6" width="16" height="8.4" rx="1.4" fill="url(#pipe)"/>
</g>
<ellipse cx="53.6" cy="20.0" rx="4.7" ry="5.3" fill="#c9c7c0"/>
<ellipse cx="53.6" cy="20.1" rx="3.8" ry="4.4" fill="#171615"/>
<path d="M40.5 13.2 L43.8 11.6 L45.3 14.8 Z" fill="#2a2520"/>
</svg><div style="left:88.7px;top:63.9px;width:73.1px;height:54.2px;background:#fff;"></div><div style="left:94.1px;top:69.1px;font-size:2.64px;line-height:3.3px;color:#333;font-weight:700;white-space:nowrap;">Description</div><div style="left:94.9px;top:77.61px;font-size:2.8px;line-height:3.5px;color:#333;font-weight:400;white-space:nowrap;">The integrated facility design will provide spaces</div><div style="left:94.9px;top:81.51px;font-size:2.8px;line-height:3.5px;color:#333;font-weight:400;white-space:nowrap;">for administration/ offices areas, meeting</div><div style="left:94.9px;top:85.41px;font-size:2.8px;line-height:3.5px;color:#333;font-weight:400;white-space:nowrap;">rooms, project rooms, computer rooms, training</div><div style="left:94.9px;top:89.31px;font-size:2.8px;line-height:3.5px;color:#333;font-weight:400;white-space:nowrap;">rooms and laboratory areas. In addition, training</div><div style="left:94.9px;top:93.2px;font-size:2.8px;line-height:3.5px;color:#333;font-weight:400;white-space:nowrap;">functions/ structures included such as</div><div style="left:94.9px;top:97.11px;font-size:2.8px;line-height:3.5px;color:#333;font-weight:400;white-space:nowrap;">operational training rooms and equipment</div><div style="left:94.9px;top:101px;font-size:2.8px;line-height:3.5px;color:#333;font-weight:400;white-space:nowrap;">classrooms, computer classrooms, instructor</div><div style="left:94.9px;top:104.91px;font-size:2.8px;line-height:3.5px;color:#333;font-weight:400;white-space:nowrap;">offices and faculty meeting rooms and</div><div style="left:94.9px;top:108.81px;font-size:2.8px;line-height:3.5px;color:#333;font-weight:400;white-space:nowrap;">instructor/briefing rooms.</div><div style="left:163.4px;top:63.9px;width:74.9px;height:54.2px;background:#fff;"></div><div style="left:169.6px;top:69.13px;font-size:2.72px;line-height:3.4px;color:#333;font-weight:700;white-space:nowrap;">Summary</div><div style="left:170.4px;top:77.5px;font-size:2.8px;line-height:3.5px;color:#333;font-weight:400;white-space:nowrap;">&quot;The program is progressing well with 18 sites</div><div style="left:170.4px;top:81.41px;font-size:2.8px;line-height:3.5px;color:#333;font-weight:400;white-space:nowrap;">under construction and the remaining in the</div><div style="left:170.4px;top:85.3px;font-size:2.8px;line-height:3.5px;color:#333;font-weight:400;white-space:nowrap;">design phase</div><div style="left:239.9px;top:63.9px;width:73px;height:54.2px;background:#fff;"></div><div style="left:245.1px;top:69.11px;font-size:2.59px;line-height:3.23px;color:#333;font-weight:700;white-space:nowrap;">Key Stakeholders</div><div style="left:291.1px;top:68.2px;width:11.6px;height:4.6px;background:#fff;border:0.35px solid #c9d3dd;border-radius:0.5px 0 0 0.5px;"></div><div style="left:292.6px;top:70.2px;font-size:2.2px;line-height:2.75px;color:#2d527c;font-weight:400;white-space:nowrap;">&#9998;</div><div style="left:295.3px;top:70.05px;font-size:2.1px;line-height:2.62px;color:#2d527c;font-weight:400;white-space:nowrap;">Edit</div><div style="left:302.7px;top:68.2px;width:7.7px;height:4.6px;background:#fff;border:0.35px solid #c9d3dd;border-radius:0 0.5px 0.5px 0;"></div><div style="left:304.8px;top:68.92px;font-size:2.4px;line-height:3px;color:#2d527c;font-weight:400;white-space:nowrap;">&#8943;</div><svg style="position:absolute;left:245.2px;top:76.4px;" width="8" height="8" viewBox="0 0 8 8"><clipPath id="av80"><circle cx="4" cy="4" r="4"/></clipPath><g clip-path="url(#av80)"><circle cx="4" cy="4" r="4" fill="#b9a894"/><ellipse cx="4" cy="4.6" rx="2.3" ry="2.8" fill="#c58a63"/><path d="M1.6 3.2 Q4 0.4 6.4 3.2 Q4 2.2 1.6 3.2Z" fill="#3b2a1f"/><path d="M0.8 7 Q4 5.6 7.2 7 L7.2 8 H0.8Z" fill="#6b5a4a"/></g></svg><div style="left:255.2px;top:77.52px;font-size:2.97px;line-height:3.71px;color:#333;font-weight:400;white-space:nowrap;">Jack Worth</div><div style="left:255.2px;top:82.41px;font-size:2.24px;line-height:2.79px;color:#777;font-weight:400;white-space:nowrap;">PM - NQHE</div><svg style="position:absolute;left:245.2px;top:88px;" width="8" height="8" viewBox="0 0 8 8"><clipPath id="av92"><circle cx="4" cy="4" r="4"/></clipPath><g clip-path="url(#av92)"><circle cx="4" cy="4" r="4" fill="#2a1c16"/><ellipse cx="4" cy="4.4" rx="2.2" ry="2.7" fill="#6e4331"/><path d="M1.8 3 Q4 0.8 6.2 3 Q4 2.2 1.8 3Z" fill="#140d0a"/></g></svg><div style="left:255.2px;top:89.08px;font-size:2.86px;line-height:3.57px;color:#333;font-weight:400;white-space:nowrap;">Dick Dusseldorp</div><div style="left:255.2px;top:93.09px;font-size:2.66px;line-height:3.32px;color:#777;font-weight:400;white-space:nowrap;">Head contractor - Buildco</div><svg style="position:absolute;left:245.2px;top:99.5px;" width="8" height="8" viewBox="0 0 8 8"><clipPath id="av103"><circle cx="4" cy="4" r="4"/></clipPath><g clip-path="url(#av103)"><circle cx="4" cy="4" r="4" fill="#8d99a3"/><ellipse cx="4.2" cy="3.9" rx="2.0" ry="2.5" fill="#d9d2cb"/><path d="M0.5 7.4 Q4 5.2 7.5 7.4 L7.5 8 H0.5Z" fill="#1e2a34"/><path d="M0 4 Q1 1 3 0.6 L1.8 5Z" fill="#2f3b45"/></g></svg><div style="left:255.2px;top:100.55px;font-size:2.73px;line-height:3.42px;color:#333;font-weight:400;white-space:nowrap;">Frank Wright</div><div style="left:255.2px;top:104.52px;font-size:2.4px;line-height:3px;color:#777;font-weight:400;white-space:nowrap;">Designer - DBC</div><div style="left:285.2px;top:74.3px;width:24.5px;height:31.2px;background:#fff;border-radius:0.6px;box-shadow:0 0.5px 1.8px rgba(0,0,0,0.28);"></div><div style="left:285.2px;top:82.4px;width:24.5px;height:6.6px;background:#f2f2f2;"></div><div style="left:288.1px;top:76.6px;font-size:3.37px;line-height:4.22px;color:#333;font-weight:400;white-space:nowrap;">Download</div><div style="left:288.1px;top:83.53px;font-size:3.32px;line-height:4.15px;color:#333;font-weight:400;white-space:nowrap;">Show history</div><div style="left:288.1px;top:90.54px;font-size:3.19px;line-height:3.99px;color:#333;font-weight:400;white-space:nowrap;">Present</div><div style="left:288.1px;top:97.68px;font-size:3.4px;line-height:4.25px;color:#333;font-weight:400;white-space:nowrap;">Hide</div><svg style="position:absolute;left:307.3px;top:87.6px;" width="2.4" height="3.2" viewBox="0 0 2.4 3.2"><path d="M0 0 L0 2.6 L0.7 2 L1.3 3.2 L1.8 3 L1.2 1.8 L2.2 1.8Z" fill="#111" stroke="#fff" stroke-width="0.25"/></svg><div style="left:13.7px;top:120.5px;width:98.7px;height:54px;background:#fff;"></div><div style="left:18.6px;top:126.21px;font-size:2.52px;line-height:3.15px;color:#333;font-weight:700;white-space:nowrap;">Project Stages</div><svg style="position:absolute;left:18.6px;top:132.5px;" width="8" height="8" viewBox="0 0 8 8"><circle cx="4" cy="4" r="3.2" fill="none" stroke="#a8d5ab" stroke-width="0.6"/><path d="M4 0.8 A3.2 3.2 0 0 1 4.99 7.04" fill="none" stroke="#2e8b3a" stroke-width="1.0"/><text x="4" y="4.6" font-size="1.5" text-anchor="middle" fill="#999" font-family="Liberation Sans">25%</text></svg><div style="left:28.3px;top:135.22px;font-size:2.5px;line-height:3.12px;color:#555;font-weight:400;white-space:nowrap;">Cost</div><svg style="position:absolute;left:18.6px;top:143.5px;" width="8" height="8" viewBox="0 0 8 8"><circle cx="4" cy="4" r="3.2" fill="none" stroke="#a9c9ee" stroke-width="0.6"/><path d="M4 0.8 A3.2 3.2 0 1 1 0.8 4" fill="none" stroke="#1e6fc4" stroke-width="1.0"/><text x="4" y="4.6" font-size="1.5" text-anchor="middle" fill="#999" font-family="Liberation Sans">25%</text></svg><div style="left:28.3px;top:146.22px;font-size:2.5px;line-height:3.12px;color:#555;font-weight:400;white-space:nowrap;">Schedule</div><svg style="position:absolute;left:18.6px;top:155.1px;" width="8" height="8" viewBox="0 0 8 8"><circle cx="4" cy="4" r="3.2" fill="none" stroke="#f3bfa4" stroke-width="0.6"/><path d="M4 0.8 A3.2 3.2 0 0 1 7.04 3.01" fill="none" stroke="#e0622a" stroke-width="1.0"/><text x="4" y="4.6" font-size="1.5" text-anchor="middle" fill="#999" font-family="Liberation Sans">25%</text></svg><div style="left:28.3px;top:157.82px;font-size:2.5px;line-height:3.12px;color:#555;font-weight:400;white-space:nowrap;">Earned Value</div><svg style="position:absolute;left:59.9px;top:128.5px;" width="37" height="37" viewBox="0 0 37 37"><circle cx="18.5" cy="18.5" r="17" fill="none" stroke="#a8d5ab" stroke-width="0.45"/><path d="M18.5 1.5 A17 17 0 0 1 29.43 31.52" fill="none" stroke="#2e7d32" stroke-width="1.3"/><circle cx="18.5" cy="18.5" r="15" fill="none" stroke="#b7d4f0" stroke-width="0.45"/><path d="M18.5 3.5 A15 15 0 0 1 31.74 25.54" fill="none" stroke="#1e6fc4" stroke-width="1.2"/><circle cx="18.5" cy="18.5" r="12.6" fill="none" stroke="#f2c0a6" stroke-width="0.45"/><path d="M18.5 5.9 A12.6 12.6 0 0 1 30.91 20.69" fill="none" stroke="#d4552a" stroke-width="1.1"/></svg><div style="left:-21.6px;width:200px;text-align:center;top:143.14px;font-size:4px;line-height:5px;color:#333;font-weight:700;white-space:nowrap;">33%</div><div style="left:-21.6px;width:200px;text-align:center;top:151.31px;font-size:2.2px;line-height:2.75px;color:#888;font-weight:400;white-space:nowrap;">Cost</div><div style="left:114.3px;top:120.5px;width:100px;height:54px;background:#fff;"></div><div style="left:119.2px;top:126.39px;font-size:2.62px;line-height:3.27px;color:#333;font-weight:700;white-space:nowrap;">Health</div><div style="left:194.3px;top:125.5px;width:7.7px;height:4.1px;background:#fff;border:0.35px solid #aab4bf;border-radius:0.5px 0 0 0.5px;"></div><div style="left:202px;top:125.5px;width:7.7px;height:4.1px;background:#fff;border:0.35px solid #aab4bf;border-radius:0 0.5px 0.5px 0;"></div><svg style="position:absolute;left:196.6px;top:125.95px" width="3.2" height="3.2"><circle cx="1.6" cy="1.6" r="1.1" fill="#666"/></svg><div style="left:204.9px;top:126.5px;width:2px;height:2.1px;border:0.35px solid #666;"></div><div style="left:119.2px;top:134.97px;font-size:3.25px;line-height:4.06px;color:#444;font-weight:400;white-space:nowrap;">Scope</div><div style="left:131.6px;top:136.6px;width:50.9px;height:0.8px;background:#2f7a35;border-radius:0.4px;"></div><div style="left:184.4px;top:135.8px;font-size:2.6px;line-height:3.25px;color:#555;font-weight:400;white-space:nowrap;">3</div><div style="left:192.5px;top:135.8px;font-size:2.6px;line-height:3.25px;color:#777;font-weight:400;white-space:nowrap;">3(On=Green)</div><div style="left:119.2px;top:142.87px;font-size:3.25px;line-height:4.06px;color:#444;font-weight:400;white-space:nowrap;">Time</div><div style="left:131.6px;top:144.5px;width:50.9px;height:0.8px;background:#2f7a35;border-radius:0.4px;"></div><div style="left:184.4px;top:143.7px;font-size:2.6px;line-height:3.25px;color:#555;font-weight:400;white-space:nowrap;">3</div><div style="left:192.5px;top:143.7px;font-size:2.6px;line-height:3.25px;color:#777;font-weight:400;white-space:nowrap;">3(On=Green)</div><div style="left:119.2px;top:150.87px;font-size:3.25px;line-height:4.06px;color:#444;font-weight:400;white-space:nowrap;">Cost</div><div style="left:131.6px;top:152.6px;width:50.9px;height:0.6px;background:#f1b9b4;border-radius:0.3px;"></div><div style="left:131.6px;top:152.5px;width:25.5px;height:0.8px;background:#cc3f3a;border-radius:0.4px;"></div><div style="left:184.4px;top:151.7px;font-size:2.6px;line-height:3.25px;color:#555;font-weight:400;white-space:nowrap;">2</div><div style="left:192.5px;top:151.7px;font-size:2.6px;line-height:3.25px;color:#777;font-weight:400;white-space:nowrap;">1(On=Red)</div><div style="left:119.2px;top:158.57px;font-size:3.25px;line-height:4.06px;color:#444;font-weight:400;white-space:nowrap;">Risk</div><div style="left:131.6px;top:160.15px;width:50.9px;height:0.9px;background:#ee9a85;border-radius:0.4px;"></div><div style="left:184.4px;top:159.4px;font-size:2.6px;line-height:3.25px;color:#555;font-weight:400;white-space:nowrap;">2</div><div style="left:192.5px;top:159.4px;font-size:2.6px;line-height:3.25px;color:#777;font-weight:400;white-space:nowrap;">2(On=Amber)</div><div style="left:119.2px;top:166.57px;font-size:3.25px;line-height:4.06px;color:#444;font-weight:400;white-space:nowrap;">Safety</div><div style="left:131.6px;top:168.15px;width:50.9px;height:0.9px;background:#7fbf7f;border-radius:0.4px;"></div><div style="left:184.4px;top:167.4px;font-size:2.6px;line-height:3.25px;color:#555;font-weight:400;white-space:nowrap;">1</div><div style="left:192.5px;top:167.4px;font-size:2.6px;line-height:3.25px;color:#777;font-weight:400;white-space:nowrap;">1(On=Green)</div><div style="left:216px;top:120.5px;width:97px;height:54px;background:#fff;"></div><div style="left:219.9px;top:126.17px;font-size:2.54px;line-height:3.18px;color:#333;font-weight:700;white-space:nowrap;">Finance</div><div style="left:219.9px;top:134.6px;font-size:2.52px;line-height:3.16px;color:#444;font-weight:400;white-space:nowrap;">Budget</div><div style="left:220.1px;top:139.2px;width:72.8px;height:0.6px;background:#e6e6e6;"></div><div style="left:294.1px;top:138.16px;font-size:2.55px;line-height:3.19px;color:#555;font-weight:400;white-space:nowrap;">$48,380,000</div><div style="left:219.9px;top:144.26px;font-size:2.56px;line-height:3.2px;color:#444;font-weight:400;white-space:nowrap;">Final Forecast Cost</div><div style="left:220.1px;top:149px;width:17.8px;height:1px;background:#62a8e2;"></div><div style="left:237.9px;top:149px;width:22px;height:1px;background:#bcd9f0;"></div><div style="left:259.9px;top:149px;width:11px;height:1px;background:#7d7d7d;"></div><div style="left:270.9px;top:149px;width:14.2px;height:1px;background:#cfcfd4;"></div><div style="left:285.1px;top:149px;width:3.5px;height:1px;background:#f2c566;"></div><div style="left:288.6px;top:149px;width:8px;height:1px;background:#f6d6d0;"></div><div style="left:296.6px;top:149px;width:11.5px;height:1px;background:#d2877c;"></div><div style="left:219.9px;top:154.06px;font-size:2.56px;line-height:3.2px;color:#444;font-weight:400;white-space:nowrap;">Variance to Budget</div><div style="left:220.1px;top:158.6px;width:70.2px;height:0.4px;background:#dcdcdc;"></div><div style="left:290.3px;top:158.6px;width:8.1px;height:0.4px;background:#9fcf9f;"></div><div style="left:298.4px;top:158.6px;width:9.8px;height:0.4px;background:#f0b0aa;"></div><div style="left:290.1px;top:157.6px;width:0.35px;height:2.4px;background:#6a9f6a;"></div><div style="left:298.2px;top:157.4px;width:0.35px;height:2.8px;background:#4b8a4b;"></div><div style="left:308px;top:157.4px;width:0.35px;height:2.8px;background:#d04a40;"></div><div style="left:219.9px;top:163.8px;font-size:1.85px;line-height:2.31px;color:#444;font-weight:400;white-space:nowrap;">Paid: $13,004</div><div style="left:220.1px;top:168.6px;width:81.2px;height:0.5px;background:#9ccf9c;"></div><div style="left:220.1px;top:168.4px;width:7.3px;height:0.9px;background:#2e6d32;"></div><div style="left:303.3px;top:167.43px;font-size:2.4px;line-height:3px;color:#555;font-weight:400;white-space:nowrap;">30%</div><div style="left:13.7px;top:176.9px;width:148.4px;height:20px;background:#fff;"></div><div style="left:18.8px;top:183.42px;font-size:2.4px;line-height:3px;color:#333;font-weight:700;white-space:nowrap;">Finance Breakdown</div><div style="left:163.5px;top:176.9px;width:149.2px;height:20px;background:#fff;"></div><div style="left:169.5px;top:183.62px;font-size:2.4px;line-height:3px;color:#333;font-weight:700;white-space:nowrap;">Cash Flow</div></div></div><div class="win" style="left:5px;top:219px;width:315.2px;height:192.4px;"><div style="left:0px;top:0px;width:315.2px;height:192.4px;background:#e5eff9;"></div><div style="left:0px;top:0px;width:315.2px;height:7.8px;background:#dee1e6;"></div><svg style="position:absolute;left:3.15px;top:2.25px" width="3.3" height="3.3"><circle cx="1.65" cy="1.65" r="1.15" fill="#e2675d"/></svg><svg style="position:absolute;left:7.2px;top:2.25px" width="3.3" height="3.3"><circle cx="1.65" cy="1.65" r="1.15" fill="#e8b752"/></svg><svg style="position:absolute;left:11.25px;top:2.25px" width="3.3" height="3.3"><circle cx="1.65" cy="1.65" r="1.15" fill="#5fb858"/></svg><div style="left:18px;top:1.3px;width:48px;height:6.5px;background:#fff;border-radius:1.4px 1.4px 0 0;"></div><svg style="position:absolute;left:20px;top:3px" width="3.2" height="3.2"><circle cx="1.6" cy="1.6" r="1.1" fill="#5f6368"/></svg><div style="left:25.2px;top:3.68px;font-size:2.53px;line-height:3.16px;color:#3c4043;font-weight:400;white-space:nowrap;">Maxit - Capital Works Portfolio</div><div style="left:58px;top:1.5px;width:6.2px;height:6px;background:linear-gradient(90deg,rgba(255,255,255,0),#fff 70%);"></div><div style="left:61.6px;top:2.48px;font-size:3.4px;line-height:4.25px;color:#3c4043;font-weight:400;white-space:nowrap;">&#215;</div><div style="left:69.4px;top:2.49px;font-size:3.8px;line-height:4.75px;color:#3c4043;font-weight:400;white-space:nowrap;">+</div><div style="left:309.2px;top:2.23px;font-size:3.2px;line-height:4px;color:#5f6368;font-weight:400;white-space:nowrap;">&#8964;</div><div style="left:0px;top:7.8px;width:315.2px;height:6.9px;background:#fff;"></div><div style="left:20.3px;top:8.9px;width:265.2px;height:4.8px;background:#f1f3f4;border-radius:2.4px;"></div><svg style="position:absolute;left:2.3px;top:9.9px;" width="3" height="2.6" viewBox="0 0 3 2.6"><path d="M2.8 1.3H0.5M1.5 0.3L0.4 1.3L1.5 2.3" stroke="#3c4043" stroke-width="0.6" fill="none"/></svg><svg style="position:absolute;left:8.6px;top:9.9px;" width="3" height="2.6" viewBox="0 0 3 2.6"><path d="M0.2 1.3H2.5M1.5 0.3L2.6 1.3L1.5 2.3" stroke="#b0b3b8" stroke-width="0.5" fill="none"/></svg><svg style="position:absolute;left:15px;top:9.6px;" width="3.2" height="3.2" viewBox="0 0 3.2 3.2"><path d="M2.7 1.2A1.15 1.15 0 1 0 2.75 2.0" stroke="#3c4043" stroke-width="0.5" fill="none"/><path d="M2.9 0.4V1.5H1.8Z" fill="#3c4043"/></svg><div style="left:23.5px;top:10.6px;width:1.6px;height:1.3px;background:#3c4043;border-radius:0.2px;"></div><div style="left:27.3px;top:10.5px;font-size:2.98px;line-height:3.72px;color:#202124;font-weight:400;white-space:nowrap;">demo.maxit.com.au</div><svg style="position:absolute;left:288.6px;top:9.9px;" width="2.6" height="2.8" viewBox="0 0 2.6 2.8"><path d="M0.4 0.6H2.2V2.6H0.4Z" fill="none" stroke="#5f6368" stroke-width="0.4"/><path d="M0.9 0.3H1.7" stroke="#5f6368" stroke-width="0.5"/></svg><svg style="position:absolute;left:295px;top:9.9px;" width="2.8" height="2.8" viewBox="0 0 2.8 2.8"><path d="M1.4 0.2L1.8 1.1L2.7 1.1L2.0 1.7L2.3 2.6L1.4 2.1L0.5 2.6L0.8 1.7L0.1 1.1L1.0 1.1Z" fill="none" stroke="#5f6368" stroke-width="0.35"/></svg><div style="left:303.4px;top:10.3px;width:1.9px;height:1.9px;background:#3c4043;border-radius:0.3px;"></div><div style="left:310.45px;top:9.9px;width:0.5px;height:2.7px;border-left:0.5px dotted #5f6368;"></div><div style="left:0px;top:14.7px;width:315.2px;height:13.2px;background:#1e3146;"></div><svg style="position:absolute;left:5.2px;top:19.3px;" width="3.2" height="3.4" viewBox="0 0 3.2 3.4"><path d="M0 0 H3.2 L2 1.6 V3.4 L1.2 2.8 V1.6Z" fill="#e8edf3"/></svg><div style="left:11px;top:19.05px;font-size:3.29px;line-height:4.12px;color:#f1f4f8;font-weight:700;white-space:nowrap;">maxit</div><div style="left:32px;top:16.8px;width:64.5px;height:8.6px;background:#213349;border:0.35px solid #2f4560;box-sizing:border-box;border-radius:0.8px;"></div><div style="left:35px;top:19.13px;font-size:3.2px;line-height:4px;color:#d3dae3;font-weight:400;white-space:nowrap;">Capital Portfolio</div><div style="left:91px;top:20.6px;font-size:2.2px;line-height:2.75px;color:#c9d2dd;font-weight:400;white-space:nowrap;">&#9662;</div><svg style="position:absolute;left:277.4px;top:17.7px;" width="7" height="7" viewBox="0 0 7 7"><circle cx="3.5" cy="3.5" r="3.4" fill="#e9e2d8"/><ellipse cx="3.5" cy="3.6" rx="1.6" ry="2.0" fill="#c69a74"/><path d="M1.9 2.6 Q3.5 0.6 5.1 2.6 Q3.5 1.9 1.9 2.6Z" fill="#6b5443"/><path d="M0.8 6.2 Q3.5 4.6 6.2 6.2 L5.5 6.8 H1.5Z" fill="#8c7d6e"/></svg><div style="left:286.3px;top:18.2px;font-size:2.8px;line-height:3.5px;color:#f4f6f9;font-weight:700;white-space:nowrap;">Doug Vincent</div><div style="left:286.3px;top:21.76px;font-size:2.56px;line-height:3.2px;color:#c3ccd6;font-weight:400;white-space:nowrap;">Account Owner</div><div style="left:308.3px;top:20.8px;font-size:2.2px;line-height:2.75px;color:#d9e0e8;font-weight:400;white-space:nowrap;">&#9662;</div><div style="left:0px;top:27.9px;width:13px;height:164.5px;background:#f9fbfe;border-right:0.5px solid #e3edf7;box-sizing:border-box;"></div><svg style="position:absolute;left:4.9px;top:33.4px;" width="4" height="4" viewBox="0 0 4 4"><rect x="0.4" y="1" width="3.2" height="0.5" fill="#8d9298"/><rect x="0.4" y="1.95" width="3.2" height="0.5" fill="#8d9298"/><rect x="0.4" y="2.9" width="3.2" height="0.5" fill="#8d9298"/></svg><div style="left:2.3px;top:43.36px;width:9.2px;height:7.8px;background:#e3eefa;"></div><svg style="position:absolute;left:4.9px;top:45.26px;" width="4" height="4" viewBox="0 0 4 4"><rect x="0.4" y="0.4" width="1.4" height="1.7" fill="#1f6fc0"/><rect x="2.1" y="0.4" width="1.4" height="1.0" fill="#1f6fc0"/><rect x="0.4" y="2.4" width="1.4" height="1.1" fill="#1f6fc0"/><rect x="2.1" y="1.7" width="1.4" height="1.8" fill="#1f6fc0"/></svg><svg style="position:absolute;left:4.9px;top:57.12px;" width="4" height="4" viewBox="0 0 4 4"><text x="2" y="3.3" font-size="3.6" text-anchor="middle" fill="#4a4e54" font-family="Liberation Sans">$</text></svg><svg style="position:absolute;left:4.9px;top:68.98px;" width="4" height="4" viewBox="0 0 4 4"><circle cx="2" cy="2" r="1.35" fill="none" stroke="#4a4e54" stroke-width="0.45"/><path d="M2 1.2V2.1L2.6 2.5" stroke="#4a4e54" stroke-width="0.35" fill="none"/></svg><svg style="position:absolute;left:4.9px;top:80.84px;" width="4" height="4" viewBox="0 0 4 4"><circle cx="2" cy="2" r="1.55" fill="#3c4046"/><path d="M1.0 3.0L3.0 1.0" stroke="#fff" stroke-width="0.45"/></svg><svg style="position:absolute;left:4.9px;top:92.7px;" width="4" height="4" viewBox="0 0 4 4"><path d="M2 0.4L3.7 3.4H0.3Z" fill="#3c4046"/><rect x="1.8" y="1.5" width="0.4" height="1.0" fill="#fff"/></svg><svg style="position:absolute;left:4.9px;top:104.56px;" width="4" height="4" viewBox="0 0 4 4"><circle cx="2" cy="2" r="1.6" fill="#3c4046"/><path d="M2 0.4V2H3.6" stroke="#fff" stroke-width="0.35" fill="none"/></svg><svg style="position:absolute;left:4.9px;top:116.42px;" width="4" height="4" viewBox="0 0 4 4"><rect x="0.4" y="1.3" width="3.2" height="2.2" rx="0.3" fill="#3c4046"/><rect x="1.35" y="0.6" width="1.3" height="1.0" fill="none" stroke="#3c4046" stroke-width="0.35"/></svg><svg style="position:absolute;left:4.9px;top:128.28px;" width="4" height="4" viewBox="0 0 4 4"><path d="M0.9 0.4H2.5L3.2 1.1V3.6H0.9Z" fill="#3c4046"/><path d="M1.4 2.2H2.7M1.4 2.9H2.7" stroke="#fff" stroke-width="0.25"/></svg><svg style="position:absolute;left:4.9px;top:140.14px;" width="4" height="4" viewBox="0 0 4 4"><circle cx="2" cy="2" r="1.6" fill="#3c4046"/><ellipse cx="2" cy="2" rx="0.6" ry="1.4" fill="none" stroke="#fff" stroke-width="0.25"/></svg><svg style="position:absolute;left:4.9px;top:152px;" width="4" height="4" viewBox="0 0 4 4"><rect x="0.3" y="0.8" width="3.4" height="2.5" rx="0.3" fill="#3c4046"/><rect x="0.3" y="1.5" width="3.4" height="0.45" fill="#fff"/></svg><svg style="position:absolute;left:4.9px;top:163.86px;" width="4" height="4" viewBox="0 0 4 4"><path d="M3.3 2A1.3 1.3 0 1 1 2.6 0.85" fill="none" stroke="#4a4e54" stroke-width="0.45"/><path d="M2.3 0.2L3.2 0.9L2.3 1.5Z" fill="#4a4e54"/></svg><div style="left:2.9px;top:178.8px;width:8px;height:8px;border-radius:50%;background:#1f6bb8;box-shadow:0 0.4px 0.8px rgba(0,0,0,0.3);"></div><svg style="position:absolute;left:6px;top:181.8px;" width="2" height="2" viewBox="0 0 2 2"><path d="M0.3 0.1L1.8 1.0L0.3 1.9Z" fill="#fff"/></svg><div style="left:0;top:-0.4px;width:315.2px;height:192.4px;"><div style="left:13.2px;top:28.9px;width:302px;height:11.1px;background:#fcfcfc;"></div><div style="left:16.2px;top:32.74px;font-size:4px;line-height:5px;color:#2b2b2b;font-weight:700;white-space:nowrap;">Overview</div><div style="left:216.8px;top:33px;width:24.7px;height:5.4px;background:#fff;border:0.4px solid #d3d9e0;border-radius:0.6px;"></div><div style="left:219.5px;top:34.8px;width:1.7px;height:1.8px;background:#5a7090;border-radius:0.2px;"></div><div style="left:223.7px;top:34.52px;font-size:2.72px;line-height:3.41px;color:#3a5a85;font-weight:400;white-space:nowrap;">View on map</div><div style="left:243.5px;top:33px;width:18.4px;height:5.4px;background:#fff;border:0.4px solid #d3d9e0;border-radius:0.6px;"></div><svg style="position:absolute;left:246.5px;top:35px;" width="1.2" height="1.4" viewBox="0 0 1.2 1.4"><path d="M0 0L1.2 0.7L0 1.4Z" fill="#5a7090"/></svg><div style="left:250.4px;top:34.48px;font-size:2.67px;line-height:3.34px;color:#3a5a85;font-weight:400;white-space:nowrap;">Present</div><div style="left:264.2px;top:33px;width:21.3px;height:5.4px;background:#fff;border:0.4px solid #d3d9e0;border-radius:0.6px;"></div><div style="left:266.9px;top:34.8px;width:1.4px;height:1.8px;border:0.4px solid #5a7090;border-radius:0.2px;"></div><div style="left:271.1px;top:34.6px;font-size:2.99px;line-height:3.74px;color:#3a5a85;font-weight:400;white-space:nowrap;">Download</div><div style="left:287.6px;top:33px;width:23.1px;height:5.4px;background:#fff;border:0.4px solid #d3d9e0;border-radius:0.6px;"></div><svg style="position:absolute;left:289.65px;top:34.25px" width="2.9" height="2.9"><circle cx="1.45" cy="1.45" r="0.75" fill="none" stroke="#5a7090" stroke-width="0.4"/></svg><div style="left:294.5px;top:34.63px;font-size:2.95px;line-height:3.69px;color:#3a5a85;font-weight:400;white-space:nowrap;">Adjust filter</div><div style="left:13.8px;top:42.4px;width:98.6px;height:55px;background:#fff;"></div><div style="left:18.5px;top:48.4px;font-size:2.59px;line-height:3.24px;color:#333;font-weight:700;white-space:nowrap;">Stages</div><svg style="position:absolute;left:18.4px;top:55.2px;" width="34.4" height="34.4" viewBox="0 0 34.4 34.4"><circle cx="17.2" cy="17.2" r="13.25" fill="none" stroke="#163c63" stroke-width="6.8"/><path d="M17.2 3.95 A13.25 13.25 0 0 1 22.16 4.91" fill="none" stroke="#163c63" stroke-width="6.9"/><path d="M30.22 14.72 A13.25 13.25 0 1 1 17.2 3.95" fill="none" stroke="#163c63" stroke-width="6.9"/><path d="M21.99 4.85 A13.25 13.25 0 0 1 30.25 14.9" fill="none" stroke="#2d80cf" stroke-width="6.9"/></svg><div style="left:-64.4px;width:200px;text-align:center;top:70.36px;font-size:6px;line-height:7.5px;color:#222;font-weight:400;white-space:nowrap;">5</div><svg style="position:absolute;left:69.5px;top:55.1px" width="4.6" height="4.6"><circle cx="2.3" cy="2.3" r="1.8" fill="#dddddd"/></svg><div style="left:75.2px;top:56.21px;font-size:2.58px;line-height:3.23px;color:#444;font-weight:400;white-space:nowrap;">Unassigned (5.5M)</div><svg style="position:absolute;left:69.5px;top:63.1px" width="4.6" height="4.6"><circle cx="2.3" cy="2.3" r="1.8" fill="#0d1f36"/></svg><div style="left:75.2px;top:64.29px;font-size:2.9px;line-height:3.62px;color:#444;font-weight:400;white-space:nowrap;">Initiation (4.5/7.7M)</div><svg style="position:absolute;left:69.5px;top:70.9px" width="4.6" height="4.6"><circle cx="2.3" cy="2.3" r="1.8" fill="#2d80cf"/></svg><div style="left:75.2px;top:72.1px;font-size:2.8px;line-height:3.5px;color:#444;font-weight:400;white-space:nowrap;">Delivery (3.4 / 3.1 M)</div><svg style="position:absolute;left:69.5px;top:78.8px" width="4.6" height="4.6"><circle cx="2.3" cy="2.3" r="1.8" fill="#7fb3e0"/></svg><div style="left:75.2px;top:80px;font-size:2.81px;line-height:3.51px;color:#444;font-weight:400;white-space:nowrap;">Closed (2.1 2M)</div><div style="left:24.6px;top:91.8px;font-size:2.59px;line-height:3.24px;color:#555;font-weight:400;white-space:nowrap;">Program Progress</div><div style="left:42px;top:69.6px;width:39.8px;height:28.4px;background:#000;"></div><div style="left:44.2px;top:71.36px;font-size:2.09px;line-height:2.61px;color:#fff;font-weight:400;white-space:nowrap;">Stage = Initiation</div><div style="left:44.2px;top:76.71px;font-size:2.24px;line-height:2.8px;color:#fff;font-weight:400;white-space:nowrap;">Stage percentage = 48.00 %(2 item)</div><div style="left:44.2px;top:79.34px;font-size:1.93px;line-height:2.42px;color:#fff;font-weight:400;white-space:nowrap;">Spend/Actual 58.7% x Specific budget</div><div style="left:44.2px;top:81.96px;font-size:2.1px;line-height:2.62px;color:#fff;font-weight:400;white-space:nowrap;">Total budget = $1.75M</div><div style="left:44.2px;top:87.57px;font-size:2.01px;line-height:2.51px;color:#fff;font-weight:400;white-space:nowrap;">Projects percentage:</div><div style="left:44.8px;top:89.52px;font-size:2.49px;line-height:3.11px;color:#fff;font-weight:400;white-space:nowrap;">&#8226; Project 1 (100 %)</div><div style="left:44.8px;top:92.38px;font-size:2.67px;line-height:3.33px;color:#fff;font-weight:400;white-space:nowrap;">&#8226; Project 2 (50 %)</div><div style="left:44.8px;top:94.97px;font-size:2.54px;line-height:3.17px;color:#fff;font-weight:400;white-space:nowrap;">&#8226; Project3 (3200%)</div><div style="left:113.3px;top:42.4px;width:99.7px;height:55px;background:#fff;"></div><div style="left:118.8px;top:48.49px;font-size:2.62px;line-height:3.27px;color:#333;font-weight:700;white-space:nowrap;">Health</div><div style="left:194.9px;top:47.4px;width:7.45px;height:4.1px;background:#fff;border:0.35px solid #aab4bf;border-radius:0.5px 0 0 0.5px;"></div><div style="left:202.35px;top:47.4px;width:7.45px;height:4.1px;background:#fff;border:0.35px solid #aab4bf;border-radius:0 0.5px 0.5px 0;"></div><svg style="position:absolute;left:197px;top:47.85px" width="3.2" height="3.2"><circle cx="1.6" cy="1.6" r="1.1" fill="#666"/></svg><div style="left:205.1px;top:48.4px;width:2px;height:2.1px;border:0.35px solid #666;"></div><div style="left:118.8px;top:56.87px;font-size:3.25px;line-height:4.06px;color:#444;font-weight:400;white-space:nowrap;">Scope</div><div style="left:131.2px;top:58.5px;width:50.9px;height:0.8px;background:#2f7a35;border-radius:0.4px;"></div><div style="left:184.3px;top:57.7px;font-size:2.6px;line-height:3.25px;color:#555;font-weight:400;white-space:nowrap;">1</div><div style="left:192.1px;top:57.7px;font-size:2.6px;line-height:3.25px;color:#777;font-weight:400;white-space:nowrap;">3(On=Green)</div><div style="left:118.8px;top:64.77px;font-size:3.25px;line-height:4.06px;color:#444;font-weight:400;white-space:nowrap;">Time</div><div style="left:131.2px;top:66.4px;width:50.9px;height:0.8px;background:#2f7a35;border-radius:0.4px;"></div><div style="left:184.3px;top:65.6px;font-size:2.6px;line-height:3.25px;color:#555;font-weight:400;white-space:nowrap;">1</div><div style="left:192.1px;top:65.6px;font-size:2.6px;line-height:3.25px;color:#777;font-weight:400;white-space:nowrap;">3(On=Green)</div><div style="left:118.8px;top:72.77px;font-size:3.25px;line-height:4.06px;color:#444;font-weight:400;white-space:nowrap;">Cost</div><div style="left:131.2px;top:74.5px;width:50.9px;height:0.6px;background:#f1b9b4;border-radius:0.3px;"></div><div style="left:131.2px;top:74.4px;width:26px;height:0.8px;background:#cc3f3a;border-radius:0.4px;"></div><div style="left:184.3px;top:73.6px;font-size:2.6px;line-height:3.25px;color:#555;font-weight:400;white-space:nowrap;">1</div><div style="left:192.1px;top:73.6px;font-size:2.6px;line-height:3.25px;color:#777;font-weight:400;white-space:nowrap;">1(On=Red)</div><div style="left:118.8px;top:80.47px;font-size:3.25px;line-height:4.06px;color:#444;font-weight:400;white-space:nowrap;">Risk</div><div style="left:131.2px;top:82.05px;width:50.9px;height:0.9px;background:#f0a466;border-radius:0.4px;"></div><div style="left:184.3px;top:81.3px;font-size:2.6px;line-height:3.25px;color:#555;font-weight:400;white-space:nowrap;">1</div><div style="left:192.1px;top:81.3px;font-size:2.6px;line-height:3.25px;color:#777;font-weight:400;white-space:nowrap;">2(On=Amber)</div><div style="left:118.8px;top:88.37px;font-size:3.25px;line-height:4.06px;color:#444;font-weight:400;white-space:nowrap;">Safety</div><div style="left:131.2px;top:89.95px;width:50.9px;height:0.9px;background:#8cc48c;border-radius:0.4px;"></div><div style="left:184.3px;top:89.2px;font-size:2.6px;line-height:3.25px;color:#555;font-weight:400;white-space:nowrap;">1</div><div style="left:192.1px;top:89.2px;font-size:2.6px;line-height:3.25px;color:#777;font-weight:400;white-space:nowrap;">1(On=Green)</div><div style="left:215px;top:42.4px;width:97.7px;height:55px;background:#fff;"></div><div style="left:219.6px;top:48.39px;font-size:2.65px;line-height:3.31px;color:#333;font-weight:700;white-space:nowrap;">Finance</div><div style="left:219.6px;top:56.39px;font-size:2.65px;line-height:3.31px;color:#444;font-weight:400;white-space:nowrap;">Budget</div><div style="left:219.6px;top:60.6px;width:66.2px;height:0.9px;background:#ebebeb;"></div><div style="left:290.4px;top:59.94px;font-size:2.75px;line-height:3.44px;color:#555;font-weight:400;white-space:nowrap;">$5,543,728.58</div><div style="left:219.6px;top:66.5px;font-size:2.63px;line-height:3.29px;color:#444;font-weight:400;white-space:nowrap;">Final Forecast Cost</div><div style="left:219.6px;top:70.7px;width:18.2px;height:1.3px;background:#8fc2ea;"></div><div style="left:237.8px;top:70.7px;width:12.9px;height:1.3px;background:#cfe4f3;"></div><div style="left:250.7px;top:70.7px;width:11.2px;height:1.3px;background:#858585;"></div><div style="left:261.9px;top:70.7px;width:8.5px;height:1.3px;background:#dcdcdf;"></div><div style="left:270.4px;top:70.7px;width:4.6px;height:1.3px;background:#f6dcb8;"></div><div style="left:275px;top:70.7px;width:6.5px;height:1.3px;background:#f6d8d3;"></div><div style="left:281.5px;top:70.7px;width:7.3px;height:1.3px;background:#c99a90;"></div><div style="left:290.4px;top:70.24px;font-size:2.75px;line-height:3.44px;color:#555;font-weight:400;white-space:nowrap;">$5,185,767.58</div><div style="left:219.6px;top:75.66px;font-size:2.56px;line-height:3.2px;color:#444;font-weight:400;white-space:nowrap;">Variance to Budget</div><div style="left:219.6px;top:80.4px;width:70px;height:0.45px;background:#f3d9d6;"></div><div style="left:289.6px;top:80.4px;width:9.2px;height:0.45px;background:#a9d3b6;"></div><div style="left:298.8px;top:80.4px;width:9.7px;height:0.45px;background:#f0b0aa;"></div><div style="left:289.5px;top:79.4px;width:0.4px;height:2.4px;background:#8fb0a0;"></div><div style="left:298.7px;top:79.2px;width:0.4px;height:2.8px;background:#4e6e5a;"></div><div style="left:308.4px;top:79.2px;width:0.4px;height:2.8px;background:#d04a40;"></div><div style="left:219.6px;top:85.71px;font-size:2.58px;line-height:3.23px;color:#444;font-weight:400;white-space:nowrap;">Paid: $1,323,461.26</div><div style="left:219.6px;top:90.6px;width:81.6px;height:0.5px;background:#9ccf9c;"></div><div style="left:219.6px;top:90.3px;width:7.7px;height:1.1px;background:#2e6d32;"></div><div style="left:303px;top:89.52px;font-size:2.5px;line-height:3.12px;color:#555;font-weight:400;white-space:nowrap;">24%</div><div style="left:13.5px;top:99.8px;width:147.8px;height:90.6px;background:#fff;"></div><div style="left:18.8px;top:105.83px;font-size:2.49px;line-height:3.11px;color:#333;font-weight:400;white-space:nowrap;">Sponsors</div><svg style="position:absolute;left:24.3px;top:120.3px;" width="60" height="60" viewBox="0 0 60 60"><circle cx="30" cy="30" r="23.2" fill="none" stroke="#74c476" stroke-width="12.3"/><path d="M30 6.8 A23.2 23.2 0 0 1 51.73 21.88" fill="none" stroke="#74c476" stroke-width="12.4"/><path d="M51.62 21.57 A23.2 23.2 0 0 1 44.19 48.36" fill="none" stroke="#3b8d3e" stroke-width="12.4"/><path d="M44.44 48.16 A23.2 23.2 0 0 1 14.03 46.83" fill="none" stroke="#0f3d66" stroke-width="12.4"/><path d="M14.27 47.05 A23.2 23.2 0 0 1 7.09 26.37" fill="none" stroke="#4caf50" stroke-width="12.4"/><path d="M7.04 26.69 A23.2 23.2 0 0 1 30 6.8" fill="none" stroke="#1e4a1f" stroke-width="12.4"/><path d="M29.68 6.8 A23.2 23.2 0 0 1 30.08 6.8" fill="none" stroke="#1e4a1f" stroke-width="12.4"/></svg><div style="left:-45.7px;width:200px;text-align:center;top:146.21px;font-size:7px;line-height:8.75px;color:#222;font-weight:400;white-space:nowrap;font-family:'Liberation Serif',serif;">5</div><div style="left:115.3px;top:122.5px;width:3.2px;height:3.2px;background:#6dbf6d;border-radius:1px;"></div><div style="left:120.3px;top:122.98px;font-size:3.02px;line-height:3.77px;color:#333;font-weight:400;white-space:nowrap;font-family:'Liberation Serif',serif;">Sponsor 1 (1, $10.07K)</div><div style="left:115.3px;top:130.3px;width:3.2px;height:3.2px;background:#4caf50;border-radius:1px;"></div><div style="left:120.3px;top:130.78px;font-size:2.92px;line-height:3.65px;color:#333;font-weight:400;white-space:nowrap;font-family:'Liberation Serif',serif;">Sponsor 2 (1, $1.62M)</div><div style="left:115.3px;top:138.2px;width:3.2px;height:3.2px;background:#2e7d32;border-radius:1px;"></div><div style="left:120.3px;top:138.68px;font-size:3.02px;line-height:3.77px;color:#333;font-weight:400;white-space:nowrap;font-family:'Liberation Serif',serif;">Sponsor 3 (1, $182.7K)</div><div style="left:115.3px;top:146px;width:3.2px;height:3.2px;background:#0b2a0b;border-radius:1px;"></div><div style="left:120.3px;top:146.48px;font-size:3.02px;line-height:3.77px;color:#333;font-weight:400;white-space:nowrap;font-family:'Liberation Serif',serif;">Sponsor 4 (1, $465.6K)</div><div style="left:115.3px;top:153.8px;width:3.2px;height:3.2px;background:#0d2a55;border-radius:1px;"></div><div style="left:120.3px;top:154.28px;font-size:2.92px;line-height:3.65px;color:#333;font-weight:400;white-space:nowrap;font-family:'Liberation Serif',serif;">Sponsor 5 (1, $3.78M)</div><div style="left:163.9px;top:99.8px;width:148.8px;height:90.6px;background:#fff;"></div><div style="left:169px;top:105.4px;font-size:2.59px;line-height:3.24px;color:#333;font-weight:400;white-space:nowrap;">Vendors</div><svg style="position:absolute;left:175px;top:120.3px;" width="60" height="60" viewBox="0 0 60 60"><circle cx="30" cy="30" r="23.1" fill="none" stroke="#2149ef" stroke-width="12.1"/><path d="M30 6.9 A23.1 23.1 0 0 1 46.05 46.62" fill="none" stroke="#2149ef" stroke-width="12.2"/><path d="M46.28 46.39 A23.1 23.1 0 0 1 14.85 47.43" fill="none" stroke="#b9c5f7" stroke-width="12.2"/><path d="M15.09 47.64 A23.1 23.1 0 0 1 7.59 24.41" fill="none" stroke="#9a9a9a" stroke-width="12.2"/><path d="M7.51 24.73 A23.1 23.1 0 0 1 30 6.9" fill="none" stroke="#6dbd6f" stroke-width="12.2"/><path d="M29.68 6.9 A23.1 23.1 0 0 1 30.08 6.9" fill="none" stroke="#6dbd6f" stroke-width="12.2"/></svg><div style="left:105px;width:200px;text-align:center;top:146.21px;font-size:7px;line-height:8.75px;color:#222;font-weight:400;white-space:nowrap;font-family:'Liberation Serif',serif;">4</div><svg style="position:absolute;left:265.65px;top:121.65px" width="4.3" height="4.3"><circle cx="2.15" cy="2.15" r="1.65" fill="#1a30e0"/></svg><div style="left:271.2px;top:122.56px;font-size:2.55px;line-height:3.19px;color:#444;font-weight:400;white-space:nowrap;">Company X Pty Ltd</div><svg style="position:absolute;left:265.65px;top:129.65px" width="4.3" height="4.3"><circle cx="2.15" cy="2.15" r="1.65" fill="#5a6aa8"/></svg><div style="left:271.2px;top:130.61px;font-size:2.58px;line-height:3.23px;color:#444;font-weight:400;white-space:nowrap;">Builder Pty Ltd</div><svg style="position:absolute;left:265.65px;top:137.45px" width="4.3" height="4.3"><circle cx="2.15" cy="2.15" r="1.65" fill="#8a8a8a"/></svg><div style="left:271.2px;top:138.4px;font-size:2.6px;line-height:3.25px;color:#444;font-weight:400;white-space:nowrap;">Designing Co Pty Ltd</div><svg style="position:absolute;left:265.65px;top:145.45px" width="4.3" height="4.3"><circle cx="2.15" cy="2.15" r="1.65" fill="#5cb85c"/></svg><div style="left:271.2px;top:146.36px;font-size:2.56px;line-height:3.21px;color:#444;font-weight:400;white-space:nowrap;">ABC Consulting Pty Ltd</div></div></div><div class="win" style="left:330.7px;top:219px;width:316px;height:192.2px;"><div style="left:0px;top:0px;width:316px;height:192.2px;background:#e5eff9;"></div><div style="left:0px;top:0px;width:316px;height:7.8px;background:#dee1e6;"></div><svg style="position:absolute;left:3.15px;top:2.25px" width="3.3" height="3.3"><circle cx="1.65" cy="1.65" r="1.15" fill="#e2675d"/></svg><svg style="position:absolute;left:7.2px;top:2.25px" width="3.3" height="3.3"><circle cx="1.65" cy="1.65" r="1.15" fill="#e8b752"/></svg><svg style="position:absolute;left:11.25px;top:2.25px" width="3.3" height="3.3"><circle cx="1.65" cy="1.65" r="1.15" fill="#5fb858"/></svg><div style="left:18px;top:1.3px;width:48px;height:6.5px;background:#fff;border-radius:1.4px 1.4px 0 0;"></div><svg style="position:absolute;left:20px;top:3px" width="3.2" height="3.2"><circle cx="1.6" cy="1.6" r="1.1" fill="#5f6368"/></svg><div style="left:25.2px;top:3.68px;font-size:2.53px;line-height:3.16px;color:#3c4043;font-weight:400;white-space:nowrap;">Maxit - Capital Works Portfolio</div><div style="left:58px;top:1.5px;width:6.2px;height:6px;background:linear-gradient(90deg,rgba(255,255,255,0),#fff 70%);"></div><div style="left:61.6px;top:2.48px;font-size:3.4px;line-height:4.25px;color:#3c4043;font-weight:400;white-space:nowrap;">&#215;</div><div style="left:69.4px;top:2.49px;font-size:3.8px;line-height:4.75px;color:#3c4043;font-weight:400;white-space:nowrap;">+</div><div style="left:310px;top:2.23px;font-size:3.2px;line-height:4px;color:#5f6368;font-weight:400;white-space:nowrap;">&#8964;</div><div style="left:0px;top:7.8px;width:316px;height:6.9px;background:#fff;"></div><div style="left:20.3px;top:8.9px;width:266px;height:4.8px;background:#f1f3f4;border-radius:2.4px;"></div><svg style="position:absolute;left:2.3px;top:9.9px;" width="3" height="2.6" viewBox="0 0 3 2.6"><path d="M2.8 1.3H0.5M1.5 0.3L0.4 1.3L1.5 2.3" stroke="#3c4043" stroke-width="0.6" fill="none"/></svg><svg style="position:absolute;left:8.6px;top:9.9px;" width="3" height="2.6" viewBox="0 0 3 2.6"><path d="M0.2 1.3H2.5M1.5 0.3L2.6 1.3L1.5 2.3" stroke="#b0b3b8" stroke-width="0.5" fill="none"/></svg><svg style="position:absolute;left:15px;top:9.6px;" width="3.2" height="3.2" viewBox="0 0 3.2 3.2"><path d="M2.7 1.2A1.15 1.15 0 1 0 2.75 2.0" stroke="#3c4043" stroke-width="0.5" fill="none"/><path d="M2.9 0.4V1.5H1.8Z" fill="#3c4043"/></svg><div style="left:23.5px;top:10.6px;width:1.6px;height:1.3px;background:#3c4043;border-radius:0.2px;"></div><div style="left:27.3px;top:10.5px;font-size:2.98px;line-height:3.72px;color:#202124;font-weight:400;white-space:nowrap;">demo.maxit.com.au</div><svg style="position:absolute;left:289.4px;top:9.9px;" width="2.6" height="2.8" viewBox="0 0 2.6 2.8"><path d="M0.4 0.6H2.2V2.6H0.4Z" fill="none" stroke="#5f6368" stroke-width="0.4"/><path d="M0.9 0.3H1.7" stroke="#5f6368" stroke-width="0.5"/></svg><svg style="position:absolute;left:295.8px;top:9.9px;" width="2.8" height="2.8" viewBox="0 0 2.8 2.8"><path d="M1.4 0.2L1.8 1.1L2.7 1.1L2.0 1.7L2.3 2.6L1.4 2.1L0.5 2.6L0.8 1.7L0.1 1.1L1.0 1.1Z" fill="none" stroke="#5f6368" stroke-width="0.35"/></svg><div style="left:304.2px;top:10.3px;width:1.9px;height:1.9px;background:#3c4043;border-radius:0.3px;"></div><div style="left:311.25px;top:9.9px;width:0.5px;height:2.7px;border-left:0.5px dotted #5f6368;"></div><div style="left:0px;top:14.7px;width:316px;height:13.2px;background:#1e3146;"></div><svg style="position:absolute;left:5.2px;top:19.3px;" width="3.2" height="3.4" viewBox="0 0 3.2 3.4"><path d="M0 0 H3.2 L2 1.6 V3.4 L1.2 2.8 V1.6Z" fill="#e8edf3"/></svg><div style="left:11px;top:19.05px;font-size:3.29px;line-height:4.12px;color:#f1f4f8;font-weight:700;white-space:nowrap;">maxit</div><div style="left:32px;top:16.8px;width:64.5px;height:8.6px;background:#213349;border:0.35px solid #2f4560;box-sizing:border-box;border-radius:0.8px;"></div><div style="left:35px;top:19.13px;font-size:3.2px;line-height:4px;color:#d3dae3;font-weight:400;white-space:nowrap;">Capital Portfolio</div><div style="left:91px;top:20.6px;font-size:2.2px;line-height:2.75px;color:#c9d2dd;font-weight:400;white-space:nowrap;">&#9662;</div><svg style="position:absolute;left:278.2px;top:17.7px;" width="7" height="7" viewBox="0 0 7 7"><circle cx="3.5" cy="3.5" r="3.4" fill="#e9e2d8"/><ellipse cx="3.5" cy="3.6" rx="1.6" ry="2.0" fill="#c69a74"/><path d="M1.9 2.6 Q3.5 0.6 5.1 2.6 Q3.5 1.9 1.9 2.6Z" fill="#6b5443"/><path d="M0.8 6.2 Q3.5 4.6 6.2 6.2 L5.5 6.8 H1.5Z" fill="#8c7d6e"/></svg><div style="left:287.1px;top:18.2px;font-size:2.8px;line-height:3.5px;color:#f4f6f9;font-weight:700;white-space:nowrap;">Doug Vincent</div><div style="left:287.1px;top:21.76px;font-size:2.56px;line-height:3.2px;color:#c3ccd6;font-weight:400;white-space:nowrap;">Account Owner</div><div style="left:309.1px;top:20.8px;font-size:2.2px;line-height:2.75px;color:#d9e0e8;font-weight:400;white-space:nowrap;">&#9662;</div><div style="left:0px;top:27.9px;width:13px;height:164.3px;background:#f9fbfe;border-right:0.5px solid #e3edf7;box-sizing:border-box;"></div><svg style="position:absolute;left:4.9px;top:33.4px;" width="4" height="4" viewBox="0 0 4 4"><rect x="0.4" y="1" width="3.2" height="0.5" fill="#8d9298"/><rect x="0.4" y="1.95" width="3.2" height="0.5" fill="#8d9298"/><rect x="0.4" y="2.9" width="3.2" height="0.5" fill="#8d9298"/></svg><div style="left:2.3px;top:43.36px;width:9.2px;height:7.8px;background:#e3eefa;"></div><svg style="position:absolute;left:4.9px;top:45.26px;" width="4" height="4" viewBox="0 0 4 4"><rect x="0.4" y="0.4" width="1.4" height="1.7" fill="#1f6fc0"/><rect x="2.1" y="0.4" width="1.4" height="1.0" fill="#1f6fc0"/><rect x="0.4" y="2.4" width="1.4" height="1.1" fill="#1f6fc0"/><rect x="2.1" y="1.7" width="1.4" height="1.8" fill="#1f6fc0"/></svg><svg style="position:absolute;left:4.9px;top:57.12px;" width="4" height="4" viewBox="0 0 4 4"><text x="2" y="3.3" font-size="3.6" text-anchor="middle" fill="#4a4e54" font-family="Liberation Sans">$</text></svg><svg style="position:absolute;left:4.9px;top:68.98px;" width="4" height="4" viewBox="0 0 4 4"><path d="M0.7 0.8H3.3V2.8H1.5L0.7 3.5Z" fill="none" stroke="#4a4e54" stroke-width="0.45" stroke-linejoin="round"/></svg><svg style="position:absolute;left:4.9px;top:80.84px;" width="4" height="4" viewBox="0 0 4 4"><circle cx="2" cy="2" r="1.55" fill="#3c4046"/><path d="M1.0 3.0L3.0 1.0" stroke="#fff" stroke-width="0.45"/></svg><svg style="position:absolute;left:4.9px;top:92.7px;" width="4" height="4" viewBox="0 0 4 4"><path d="M2 0.4L3.7 3.4H0.3Z" fill="#3c4046"/><rect x="1.8" y="1.5" width="0.4" height="1.0" fill="#fff"/></svg><svg style="position:absolute;left:4.9px;top:104.56px;" width="4" height="4" viewBox="0 0 4 4"><circle cx="2" cy="2" r="1.6" fill="#3c4046"/><path d="M2 0.4V2H3.6" stroke="#fff" stroke-width="0.35" fill="none"/></svg><svg style="position:absolute;left:4.9px;top:116.42px;" width="4" height="4" viewBox="0 0 4 4"><rect x="0.4" y="1.3" width="3.2" height="2.2" rx="0.3" fill="#3c4046"/><rect x="1.35" y="0.6" width="1.3" height="1.0" fill="none" stroke="#3c4046" stroke-width="0.35"/></svg><svg style="position:absolute;left:4.9px;top:128.28px;" width="4" height="4" viewBox="0 0 4 4"><path d="M0.9 0.4H2.5L3.2 1.1V3.6H0.9Z" fill="#3c4046"/><path d="M1.4 2.2H2.7M1.4 2.9H2.7" stroke="#fff" stroke-width="0.25"/></svg><svg style="position:absolute;left:4.9px;top:140.14px;" width="4" height="4" viewBox="0 0 4 4"><circle cx="2" cy="2" r="1.6" fill="#3c4046"/><ellipse cx="2" cy="2" rx="0.6" ry="1.4" fill="none" stroke="#fff" stroke-width="0.25"/></svg><svg style="position:absolute;left:4.9px;top:152px;" width="4" height="4" viewBox="0 0 4 4"><rect x="0.3" y="0.8" width="3.4" height="2.5" rx="0.3" fill="#3c4046"/><rect x="0.3" y="1.5" width="3.4" height="0.45" fill="#fff"/></svg><svg style="position:absolute;left:4.9px;top:163.86px;" width="4" height="4" viewBox="0 0 4 4"><path d="M3.3 2A1.3 1.3 0 1 1 2.6 0.85" fill="none" stroke="#4a4e54" stroke-width="0.45"/><path d="M2.3 0.2L3.2 0.9L2.3 1.5Z" fill="#4a4e54"/></svg><div style="left:2.9px;top:178.6px;width:8px;height:8px;border-radius:50%;background:#1f6bb8;box-shadow:0 0.4px 0.8px rgba(0,0,0,0.3);"></div><svg style="position:absolute;left:6px;top:181.6px;" width="2" height="2" viewBox="0 0 2 2"><path d="M0.3 0.1L1.8 1.0L0.3 1.9Z" fill="#fff"/></svg><div style="left:0;top:-0.6px;width:316px;height:192.2px;"><div style="left:13.2px;top:28.6px;width:302.8px;height:10.6px;background:#fcfcfc;"></div><div style="left:16.3px;top:32.24px;font-size:4px;line-height:5px;color:#2b2b2b;font-weight:700;white-space:nowrap;">Overview</div><div style="left:217.8px;top:32px;width:24.2px;height:5.8px;background:#fff;border:0.4px solid #d3d9e0;border-radius:0.6px;"></div><div style="left:220.5px;top:34px;width:1.7px;height:1.8px;background:#5a7090;border-radius:0.2px;"></div><div style="left:224.7px;top:33.72px;font-size:2.72px;line-height:3.41px;color:#3a5a85;font-weight:400;white-space:nowrap;">View on map</div><div style="left:244.3px;top:32px;width:18.5px;height:5.8px;background:#fff;border:0.4px solid #d3d9e0;border-radius:0.6px;"></div><svg style="position:absolute;left:247.3px;top:34.2px;" width="1.2" height="1.4" viewBox="0 0 1.2 1.4"><path d="M0 0L1.2 0.7L0 1.4Z" fill="#5a7090"/></svg><div style="left:251.2px;top:33.68px;font-size:2.67px;line-height:3.34px;color:#3a5a85;font-weight:400;white-space:nowrap;">Present</div><div style="left:265.1px;top:32px;width:20.8px;height:5.8px;background:#fff;border:0.4px solid #d3d9e0;border-radius:0.6px;"></div><div style="left:267.8px;top:34px;width:1.4px;height:1.8px;border:0.4px solid #5a7090;border-radius:0.2px;"></div><div style="left:272px;top:33.79px;font-size:2.9px;line-height:3.63px;color:#3a5a85;font-weight:400;white-space:nowrap;">Download</div><div style="left:288.7px;top:32px;width:22.2px;height:5.8px;background:#fff;border:0.4px solid #d3d9e0;border-radius:0.6px;"></div><svg style="position:absolute;left:290.75px;top:33.45px" width="2.9" height="2.9"><circle cx="1.45" cy="1.45" r="0.75" fill="none" stroke="#5a7090" stroke-width="0.4"/></svg><div style="left:295.6px;top:33.79px;font-size:2.83px;line-height:3.54px;color:#3a5a85;font-weight:400;white-space:nowrap;">Adjust filter</div><div style="left:14.8px;top:41.6px;width:298px;height:55px;background:#fff;"></div><div style="left:18.7px;top:48.02px;font-size:2.5px;line-height:3.12px;color:#333;font-weight:400;white-space:nowrap;">Milestones</div><div style="left:50px;top:55px;width:4.6px;height:20px;background:#fff;border:0.35px solid #cfe1f3;border-radius:2.3px;"></div><div style="left:44.3px;top:61.7px;width:16px;height:3px;transform:rotate(-90deg);"><div style="left:-100px;width:200px;text-align:center;top:0.27px;font-size:2.54px;line-height:3.18px;color:#5a86b8;font-weight:400;white-space:nowrap;width:16px;left:0;">Milestone 1</div></div><svg style="position:absolute;left:49.6px;top:71.2px" width="5.4" height="5.4"><circle cx="2.7" cy="2.7" r="2.2" fill="#1565c0"/></svg><svg style="position:absolute;left:51.2px;top:72.8px;" width="2.2" height="2.2" viewBox="0 0 2.2 2.2"><path d="M0.45 1.15L0.95 1.65L1.8 0.6" stroke="#fff" stroke-width="0.45" fill="none"/></svg><div style="left:-47.7px;width:200px;text-align:center;top:80.65px;font-size:2.74px;line-height:3.42px;color:#555;font-weight:400;white-space:nowrap;">8 Nov 2021</div><div style="left:67.18px;top:55px;width:4.6px;height:20px;background:#fff;border:0.35px solid #cfe1f3;border-radius:2.3px;"></div><div style="left:61.48px;top:61.7px;width:16px;height:3px;transform:rotate(-90deg);"><div style="left:-100px;width:200px;text-align:center;top:0.27px;font-size:2.54px;line-height:3.18px;color:#5a86b8;font-weight:400;white-space:nowrap;width:16px;left:0;">Milestone 2</div></div><svg style="position:absolute;left:66.78px;top:71.2px" width="5.4" height="5.4"><circle cx="2.7" cy="2.7" r="2.2" fill="#1565c0"/></svg><svg style="position:absolute;left:68.38px;top:72.8px;" width="2.2" height="2.2" viewBox="0 0 2.2 2.2"><path d="M0.45 1.15L0.95 1.65L1.8 0.6" stroke="#fff" stroke-width="0.45" fill="none"/></svg><div style="left:-30.52px;width:200px;text-align:center;top:80.57px;font-size:2.54px;line-height:3.18px;color:#555;font-weight:400;white-space:nowrap;">21 Jan 2022</div><div style="left:84.36px;top:55px;width:4.6px;height:20px;background:#fff;border:0.35px solid #cfe1f3;border-radius:2.3px;"></div><div style="left:78.66px;top:61.7px;width:16px;height:3px;transform:rotate(-90deg);"><div style="left:-100px;width:200px;text-align:center;top:0.27px;font-size:2.54px;line-height:3.18px;color:#5a86b8;font-weight:400;white-space:nowrap;width:16px;left:0;">Milestone 3</div></div><svg style="position:absolute;left:83.96px;top:71.2px" width="5.4" height="5.4"><circle cx="2.7" cy="2.7" r="2.2" fill="#1565c0"/></svg><svg style="position:absolute;left:85.56px;top:72.8px;" width="2.2" height="2.2" viewBox="0 0 2.2 2.2"><path d="M0.45 1.15L0.95 1.65L1.8 0.6" stroke="#fff" stroke-width="0.45" fill="none"/></svg><div style="left:-13.34px;width:200px;text-align:center;top:80.63px;font-size:2.71px;line-height:3.38px;color:#555;font-weight:400;white-space:nowrap;">21 Jul 2022</div><div style="left:101.54px;top:55px;width:4.6px;height:20px;background:#fff;border:0.35px solid #cfe1f3;border-radius:2.3px;"></div><div style="left:95.84px;top:61.7px;width:16px;height:3px;transform:rotate(-90deg);"><div style="left:-100px;width:200px;text-align:center;top:0.27px;font-size:2.54px;line-height:3.18px;color:#5a86b8;font-weight:400;white-space:nowrap;width:16px;left:0;">Milestone 4</div></div><svg style="position:absolute;left:101.14px;top:71.2px" width="5.4" height="5.4"><circle cx="2.7" cy="2.7" r="2.2" fill="#1565c0"/></svg><svg style="position:absolute;left:102.74px;top:72.8px;" width="2.2" height="2.2" viewBox="0 0 2.2 2.2"><path d="M0.45 1.15L0.95 1.65L1.8 0.6" stroke="#fff" stroke-width="0.45" fill="none"/></svg><div style="left:3.84px;width:200px;text-align:center;top:80.63px;font-size:2.77px;line-height:3.46px;color:#555;font-weight:400;white-space:nowrap;">8 Feb 2023</div><div style="left:118.72px;top:55px;width:4.6px;height:20px;background:#fff;border:0.35px solid #cfe1f3;border-radius:2.3px;"></div><div style="left:113.02px;top:61.7px;width:16px;height:3px;transform:rotate(-90deg);"><div style="left:-100px;width:200px;text-align:center;top:0.27px;font-size:2.54px;line-height:3.18px;color:#5a86b8;font-weight:400;white-space:nowrap;width:16px;left:0;">Milestone 5</div></div><svg style="position:absolute;left:118.32px;top:71.2px" width="5.4" height="5.4"><circle cx="2.7" cy="2.7" r="2.2" fill="#64aef0"/></svg><div style="left:21.02px;width:200px;text-align:center;top:80.63px;font-size:2.77px;line-height:3.46px;color:#555;font-weight:400;white-space:nowrap;">8 Mar 2023</div><div style="left:135.9px;top:55px;width:4.6px;height:20px;background:#fff;border:0.35px solid #cfe1f3;border-radius:2.3px;"></div><div style="left:130.2px;top:61.7px;width:16px;height:3px;transform:rotate(-90deg);"><div style="left:-100px;width:200px;text-align:center;top:0.27px;font-size:2.54px;line-height:3.18px;color:#5a86b8;font-weight:400;white-space:nowrap;width:16px;left:0;">Milestone 6</div></div><svg style="position:absolute;left:135.6px;top:71.3px" width="5.2" height="5.2"><circle cx="2.6" cy="2.6" r="1.88" fill="#fff" stroke="#b0cdea" stroke-width="0.45"/></svg><div style="left:38.2px;width:200px;text-align:center;top:80.69px;font-size:2.89px;line-height:3.62px;color:#555;font-weight:400;white-space:nowrap;">2 Apr 2023</div><div style="left:153.08px;top:55px;width:4.6px;height:20px;background:#fff;border:0.35px solid #cfe1f3;border-radius:2.3px;"></div><div style="left:147.38px;top:61.7px;width:16px;height:3px;transform:rotate(-90deg);"><div style="left:-100px;width:200px;text-align:center;top:0.27px;font-size:2.54px;line-height:3.18px;color:#5a86b8;font-weight:400;white-space:nowrap;width:16px;left:0;">Milestone 7</div></div><svg style="position:absolute;left:152.78px;top:71.3px" width="5.2" height="5.2"><circle cx="2.6" cy="2.6" r="1.88" fill="#fff" stroke="#b0cdea" stroke-width="0.45"/></svg><div style="left:55.38px;width:200px;text-align:center;top:80.54px;font-size:2.47px;line-height:3.09px;color:#555;font-weight:400;white-space:nowrap;">15 Nov 2023</div><div style="left:170.26px;top:55px;width:4.6px;height:20px;background:#fff;border:0.35px solid #cfe1f3;border-radius:2.3px;"></div><div style="left:164.56px;top:61.7px;width:16px;height:3px;transform:rotate(-90deg);"><div style="left:-100px;width:200px;text-align:center;top:0.27px;font-size:2.54px;line-height:3.18px;color:#5a86b8;font-weight:400;white-space:nowrap;width:16px;left:0;">Milestone 8</div></div><svg style="position:absolute;left:169.96px;top:71.3px" width="5.2" height="5.2"><circle cx="2.6" cy="2.6" r="1.88" fill="#fff" stroke="#b0cdea" stroke-width="0.45"/></svg><div style="left:72.56px;width:200px;text-align:center;top:80.63px;font-size:2.71px;line-height:3.38px;color:#555;font-weight:400;white-space:nowrap;">15 Jul 2024</div><div style="left:187.44px;top:55px;width:4.6px;height:20px;background:#fff;border:0.35px solid #cfe1f3;border-radius:2.3px;"></div><div style="left:181.74px;top:61.7px;width:16px;height:3px;transform:rotate(-90deg);"><div style="left:-100px;width:200px;text-align:center;top:0.27px;font-size:2.54px;line-height:3.18px;color:#5a86b8;font-weight:400;white-space:nowrap;width:16px;left:0;">Milestone 9</div></div><svg style="position:absolute;left:187.14px;top:71.3px" width="5.2" height="5.2"><circle cx="2.6" cy="2.6" r="1.88" fill="#fff" stroke="#b0cdea" stroke-width="0.45"/></svg><div style="left:89.74px;width:200px;text-align:center;top:80.65px;font-size:2.75px;line-height:3.43px;color:#555;font-weight:400;white-space:nowrap;">11 Jul 2025</div><div style="left:204.62px;top:55px;width:4.6px;height:20px;background:#fff;border:0.35px solid #cfe1f3;border-radius:2.3px;"></div><div style="left:198.92px;top:61.7px;width:16px;height:3px;transform:rotate(-90deg);"><div style="left:-100px;width:200px;text-align:center;top:1.27px;font-size:2.29px;line-height:2.87px;color:#5a86b8;font-weight:400;white-space:nowrap;width:16px;left:0;">Milestone 10</div></div><svg style="position:absolute;left:204.32px;top:71.3px" width="5.2" height="5.2"><circle cx="2.6" cy="2.6" r="1.88" fill="#fff" stroke="#b0cdea" stroke-width="0.45"/></svg><div style="left:106.92px;width:200px;text-align:center;top:80.52px;font-size:2.49px;line-height:3.12px;color:#555;font-weight:400;white-space:nowrap;">19 Aug 2025</div><div style="left:221.8px;top:55px;width:4.6px;height:20px;background:#fff;border:0.35px solid #cfe1f3;border-radius:2.3px;"></div><div style="left:216.1px;top:61.7px;width:16px;height:3px;transform:rotate(-90deg);"><div style="left:-100px;width:200px;text-align:center;top:1.25px;font-size:2.32px;line-height:2.9px;color:#5a86b8;font-weight:400;white-space:nowrap;width:16px;left:0;">Milestone 11</div></div><svg style="position:absolute;left:221.5px;top:71.3px" width="5.2" height="5.2"><circle cx="2.6" cy="2.6" r="1.88" fill="#fff" stroke="#b0cdea" stroke-width="0.45"/></svg><div style="left:124.1px;width:200px;text-align:center;top:80.54px;font-size:2.47px;line-height:3.09px;color:#555;font-weight:400;white-space:nowrap;">19 Sep 2025</div><div style="left:238.98px;top:55px;width:4.6px;height:20px;background:#fff;border:0.35px solid #cfe1f3;border-radius:2.3px;"></div><div style="left:233.28px;top:61.7px;width:16px;height:3px;transform:rotate(-90deg);"><div style="left:-100px;width:200px;text-align:center;top:1.27px;font-size:2.29px;line-height:2.87px;color:#5a86b8;font-weight:400;white-space:nowrap;width:16px;left:0;">Milestone 12</div></div><svg style="position:absolute;left:238.68px;top:71.3px" width="5.2" height="5.2"><circle cx="2.6" cy="2.6" r="1.88" fill="#fff" stroke="#b0cdea" stroke-width="0.45"/></svg><div style="left:141.28px;width:200px;text-align:center;top:80.55px;font-size:2.57px;line-height:3.21px;color:#555;font-weight:400;white-space:nowrap;">20 Oct 2025</div><div style="left:256.16px;top:55px;width:4.6px;height:20px;background:#fff;border:0.35px solid #cfe1f3;border-radius:2.3px;"></div><div style="left:250.46px;top:61.7px;width:16px;height:3px;transform:rotate(-90deg);"><div style="left:-100px;width:200px;text-align:center;top:1.27px;font-size:2.29px;line-height:2.87px;color:#5a86b8;font-weight:400;white-space:nowrap;width:16px;left:0;">Milestone 13</div></div><svg style="position:absolute;left:255.86px;top:71.3px" width="5.2" height="5.2"><circle cx="2.6" cy="2.6" r="1.88" fill="#fff" stroke="#b0cdea" stroke-width="0.45"/></svg><div style="left:158.46px;width:200px;text-align:center;top:80.65px;font-size:2.74px;line-height:3.42px;color:#555;font-weight:400;white-space:nowrap;">8 Nov 2025</div><div style="left:273.34px;top:55px;width:4.6px;height:20px;background:#fff;border:0.35px solid #cfe1f3;border-radius:2.3px;"></div><div style="left:267.64px;top:61.7px;width:16px;height:3px;transform:rotate(-90deg);"><div style="left:-100px;width:200px;text-align:center;top:1.27px;font-size:2.29px;line-height:2.87px;color:#5a86b8;font-weight:400;white-space:nowrap;width:16px;left:0;">Milestone 14</div></div><svg style="position:absolute;left:273.04px;top:71.3px" width="5.2" height="5.2"><circle cx="2.6" cy="2.6" r="1.88" fill="#fff" stroke="#b0cdea" stroke-width="0.45"/></svg><div style="left:175.64px;width:200px;text-align:center;top:80.54px;font-size:2.47px;line-height:3.09px;color:#555;font-weight:400;white-space:nowrap;">28 Dec 2025</div><div style="left:45px;top:86.7px;width:44.1px;height:0.6px;background:#c9d7e6;"></div><div style="left:45px;top:86.6px;width:44.1px;height:0.85px;background:#3d6e9e;"></div><div style="left:-32px;width:200px;text-align:center;top:90.78px;font-size:2.66px;line-height:3.33px;color:#555;font-weight:400;white-space:nowrap;">Inception</div><div style="left:95.3px;top:86.7px;width:69px;height:0.6px;background:#c9d7e6;"></div><div style="left:95.3px;top:86.6px;width:18.4px;height:0.85px;background:#3d6e9e;"></div><div style="left:27.7px;width:200px;text-align:center;top:90.75px;font-size:2.57px;line-height:3.21px;color:#555;font-weight:400;white-space:nowrap;">Design</div><div style="left:170.3px;top:86.7px;width:58.6px;height:0.6px;background:#c9d7e6;"></div><div style="left:99.8px;width:200px;text-align:center;top:90.88px;font-size:2.85px;line-height:3.56px;color:#555;font-weight:400;white-space:nowrap;">Construction</div><div style="left:233.5px;top:86.7px;width:49px;height:0.6px;background:#c9d7e6;"></div><div style="left:153.6px;width:200px;text-align:center;top:91.76px;font-size:2.31px;line-height:2.89px;color:#555;font-weight:400;white-space:nowrap;">DLP</div><div style="left:13.2px;top:99.5px;width:148.1px;height:90.1px;background:#fff;"></div><div style="left:18.3px;top:105.2px;font-size:2.89px;line-height:3.61px;color:#333;font-weight:400;white-space:nowrap;font-style:italic;">Finance Breakdown</div><svg style="position:absolute;left:0px;top:0px;" width="316" height="192.2" viewBox="0 0 316 192.2"><circle cx="70.7" cy="127.2" r="9" fill="#1c2a3c"/><circle cx="88.6" cy="126.3" r="8" fill="#7b2e9c"/><circle cx="103.1" cy="130" r="6.5" fill="#a9d8a8"/><circle cx="103.1" cy="130" r="5.3" fill="#6cc36b"/><path d="M103.1 124.7 A5.3 5.3 0 0 0 103.1 135.3 Z" fill="#1e78d2"/><circle cx="81.1" cy="150.5" r="15.1" fill="#7fb4e6"/><path d="M81.1 150.5 L75.44 136.50 A15.1 15.1 0 0 1 88.65 163.58 Z" fill="#b6dfb4"/><circle cx="81.1" cy="150.5" r="10" fill="#1e74d0"/><path d="M77.35 141.23 A10 10 0 0 1 86.10 159.16 Z" fill="#86c985"/><circle cx="99.4" cy="140.8" r="3.9" fill="#73c073"/><circle cx="106.3" cy="153.3" r="9" fill="#45a547"/><circle cx="97" cy="165.1" r="5.4" fill="#b9e0b8"/><circle cx="97" cy="165.1" r="4" fill="#5cb85c"/><path d="M97 161.1 A4 4 0 0 0 95 168.5 Z" fill="#1e78d2"/><circle cx="70.7" cy="169.4" r="7.5" fill="#e63b2e"/><circle cx="85.2" cy="172" r="7.1" fill="#fbaa3b"/></svg><div style="left:110.6px;top:128.3px;width:21.1px;height:3.9px;background:#616161;border-radius:0.5px;"></div><div style="left:111.4px;top:129.77px;font-size:1.96px;line-height:2.45px;color:#fff;font-weight:400;white-space:nowrap;">Architectural contracts</div><div style="left:106.3px;top:140.31px;font-size:1.97px;line-height:2.46px;color:#333;font-weight:400;white-space:nowrap;">Engineering services</div><div style="left:-132.1px;width:200px;text-align:right;top:148.13px;font-size:2.4px;line-height:3px;color:#333;font-weight:400;white-space:nowrap;">Head Contractor Contract</div><div style="left:118.1px;top:152.59px;font-size:1.87px;line-height:2.34px;color:#333;font-weight:400;white-space:nowrap;">Pre-Construction contract</div><div style="left:105.2px;top:166.84px;font-size:1.93px;line-height:2.41px;color:#333;font-weight:400;white-space:nowrap;">Earthwork contract</div><div style="left:163px;top:99.5px;width:149.8px;height:90.1px;background:#fff;"></div><div style="left:169.6px;top:105.29px;font-size:2.66px;line-height:3.32px;color:#333;font-weight:700;white-space:nowrap;">Cash Flow Deviation</div><div style="left:169.6px;top:109.66px;font-size:2.56px;line-height:3.2px;color:#666;font-weight:400;white-space:nowrap;">Month on month</div><div style="left:-21.4px;width:200px;text-align:right;top:121.95px;font-size:2.1px;line-height:2.62px;color:#666;font-weight:400;white-space:nowrap;">800K</div><div style="left:-21.4px;width:200px;text-align:right;top:133.15px;font-size:2.1px;line-height:2.62px;color:#666;font-weight:400;white-space:nowrap;">600K</div><div style="left:-21.4px;width:200px;text-align:right;top:144.05px;font-size:2.1px;line-height:2.62px;color:#666;font-weight:400;white-space:nowrap;">400K</div><div style="left:-21.4px;width:200px;text-align:right;top:155.15px;font-size:2.1px;line-height:2.62px;color:#666;font-weight:400;white-space:nowrap;">200K</div><div style="left:-21.4px;width:200px;text-align:right;top:166.05px;font-size:2.1px;line-height:2.62px;color:#666;font-weight:400;white-space:nowrap;">0</div><div style="left:88.4px;width:200px;text-align:center;top:174.37px;font-size:2.3px;line-height:2.88px;color:#555;font-weight:400;white-space:nowrap;">Jan</div><div style="left:99.76px;width:200px;text-align:center;top:174.37px;font-size:2.3px;line-height:2.88px;color:#555;font-weight:400;white-space:nowrap;">Feb</div><div style="left:111.12px;width:200px;text-align:center;top:174.37px;font-size:2.3px;line-height:2.88px;color:#555;font-weight:400;white-space:nowrap;">Mar</div><div style="left:122.48px;width:200px;text-align:center;top:174.37px;font-size:2.3px;line-height:2.88px;color:#555;font-weight:400;white-space:nowrap;">Apr</div><div style="left:133.84px;width:200px;text-align:center;top:174.37px;font-size:2.3px;line-height:2.88px;color:#555;font-weight:400;white-space:nowrap;">May</div><div style="left:145.2px;width:200px;text-align:center;top:174.37px;font-size:2.3px;line-height:2.88px;color:#555;font-weight:400;white-space:nowrap;">Jun</div><div style="left:156.56px;width:200px;text-align:center;top:174.37px;font-size:2.3px;line-height:2.88px;color:#555;font-weight:400;white-space:nowrap;">Jul</div><div style="left:167.92px;width:200px;text-align:center;top:174.37px;font-size:2.3px;line-height:2.88px;color:#555;font-weight:400;white-space:nowrap;">Aug</div><div style="left:179.28px;width:200px;text-align:center;top:174.37px;font-size:2.3px;line-height:2.88px;color:#555;font-weight:400;white-space:nowrap;">Sep</div><div style="left:190.64px;width:200px;text-align:center;top:174.37px;font-size:2.3px;line-height:2.88px;color:#555;font-weight:400;white-space:nowrap;">Oct</div><div style="left:202px;width:200px;text-align:center;top:174.37px;font-size:2.3px;line-height:2.88px;color:#555;font-weight:400;white-space:nowrap;">Nov</div><svg style="position:absolute;left:0px;top:0px;" width="316" height="192.2" viewBox="0 0 316 192.2"><line x1="181.5" y1="122.4" x2="309.5" y2="122.4" stroke="#eeeeee" stroke-width="0.3"/><line x1="181.5" y1="133.6" x2="309.5" y2="133.6" stroke="#eeeeee" stroke-width="0.3"/><line x1="181.5" y1="144.5" x2="309.5" y2="144.5" stroke="#eeeeee" stroke-width="0.3"/><line x1="181.5" y1="155.6" x2="309.5" y2="155.6" stroke="#eeeeee" stroke-width="0.3"/><line x1="181.5" y1="166.5" x2="309.5" y2="166.5" stroke="#bdbdbd" stroke-width="0.4"/><rect x="186.45" y="132.1" width="3.9" height="34.4" fill="#3f9b42"/><rect x="197.81" y="122.7" width="3.9" height="43.8" fill="#5aaae8"/><rect x="197.81" y="155.4" width="3.9" height="11.1" fill="#3f9b42"/><rect x="209.17" y="123.4" width="3.9" height="43.1" fill="#4f4f4f"/><rect x="209.17" y="130.4" width="3.9" height="36.1" fill="#5aaae8"/><rect x="220.53" y="124.3" width="3.9" height="42.2" fill="#4f4f4f"/><rect x="220.53" y="131.4" width="3.9" height="35.1" fill="#5aaae8"/><rect x="231.89" y="126.0" width="3.9" height="40.5" fill="#4f4f4f"/><rect x="231.89" y="133.3" width="3.9" height="33.2" fill="#5aaae8"/><rect x="243.25" y="128.1" width="3.9" height="38.4" fill="#4f4f4f"/><rect x="243.25" y="134.3" width="3.9" height="32.2" fill="#5aaae8"/><rect x="254.61" y="126.6" width="3.9" height="39.9" fill="#4f4f4f"/><rect x="254.61" y="133.1" width="3.9" height="33.4" fill="#5aaae8"/><rect x="265.97" y="124.4" width="3.9" height="42.1" fill="#4f4f4f"/><rect x="265.97" y="131.6" width="3.9" height="34.9" fill="#5aaae8"/><rect x="277.33" y="122.5" width="3.9" height="44" fill="#4f4f4f"/><rect x="277.33" y="150.8" width="3.9" height="15.7" fill="#5aaae8"/><rect x="288.69" y="121.7" width="3.9" height="44.8" fill="#4f4f4f"/><rect x="288.69" y="161.4" width="3.9" height="5.1" fill="#5aaae8"/><rect x="300.05" y="118.0" width="3.9" height="48.5" fill="#4f4f4f"/><rect x="300.05" y="164.3" width="3.9" height="2.2" fill="#5aaae8"/><polyline points="188.4,128.9 199.76,127.2 211.12,127.0 222.48,128.1 233.84,125.6 245.2,129.1 256.56,131.6 267.92,124.4 279.28,130.3 290.64,126.6 302,116.4" fill="none" stroke="#e8534a" stroke-width="0.35"/><circle cx="188.4" cy="128.9" r="0.55" fill="#e53935"/><circle cx="199.76" cy="127.2" r="0.55" fill="#e53935"/><circle cx="211.12" cy="127.0" r="0.55" fill="#e53935"/><circle cx="222.48" cy="128.1" r="0.55" fill="#e53935"/><circle cx="233.84" cy="125.6" r="0.55" fill="#e53935"/><circle cx="245.2" cy="129.1" r="0.55" fill="#e53935"/><circle cx="256.56" cy="131.6" r="0.55" fill="#e53935"/><circle cx="267.92" cy="124.4" r="0.55" fill="#e53935"/><circle cx="279.28" cy="130.3" r="0.55" fill="#e53935"/><circle cx="290.64" cy="126.6" r="0.55" fill="#e53935"/><circle cx="302" cy="116.4" r="0.55" fill="#e53935"/></svg><svg style="position:absolute;left:170.1px;top:181px" width="4.4" height="4.4"><circle cx="2.2" cy="2.2" r="1.7" fill="#3f9b42"/></svg><div style="left:175.1px;top:182.09px;font-size:2.9px;line-height:3.62px;color:#3f9b42;font-weight:400;white-space:nowrap;">Paid</div><svg style="position:absolute;left:186.3px;top:181px" width="4.4" height="4.4"><circle cx="2.2" cy="2.2" r="1.7" fill="#5aaae8"/></svg><div style="left:191.3px;top:182.1px;font-size:2.88px;line-height:3.59px;color:#5aaae8;font-weight:400;white-space:nowrap;">Committed</div><svg style="position:absolute;left:210.1px;top:181px" width="4.4" height="4.4"><circle cx="2.2" cy="2.2" r="1.7" fill="#4f4f4f"/></svg><div style="left:215.1px;top:182.06px;font-size:2.73px;line-height:3.42px;color:#444;font-weight:400;white-space:nowrap;">Uncommitted</div><svg style="position:absolute;left:237px;top:181px" width="4.4" height="4.4"><circle cx="2.2" cy="2.2" r="1.7" fill="#e53935"/></svg><div style="left:242px;top:182.04px;font-size:2.75px;line-height:3.44px;color:#444;font-weight:400;white-space:nowrap;">Last Month's Forecast</div></div></div>
<div style="left:294.2px;top:421.4px;width:62.4px;height:6.3px;background:#5a5a5a;border-radius:0.8px;"></div><div style="left:225.4px;width:200px;text-align:center;top:424.32px;font-size:2.3px;line-height:2.88px;color:#f2f2f2;font-weight:400;white-space:nowrap;">advancedcollective.org/cloud/case-studies/maxit</div>
</body></html>
